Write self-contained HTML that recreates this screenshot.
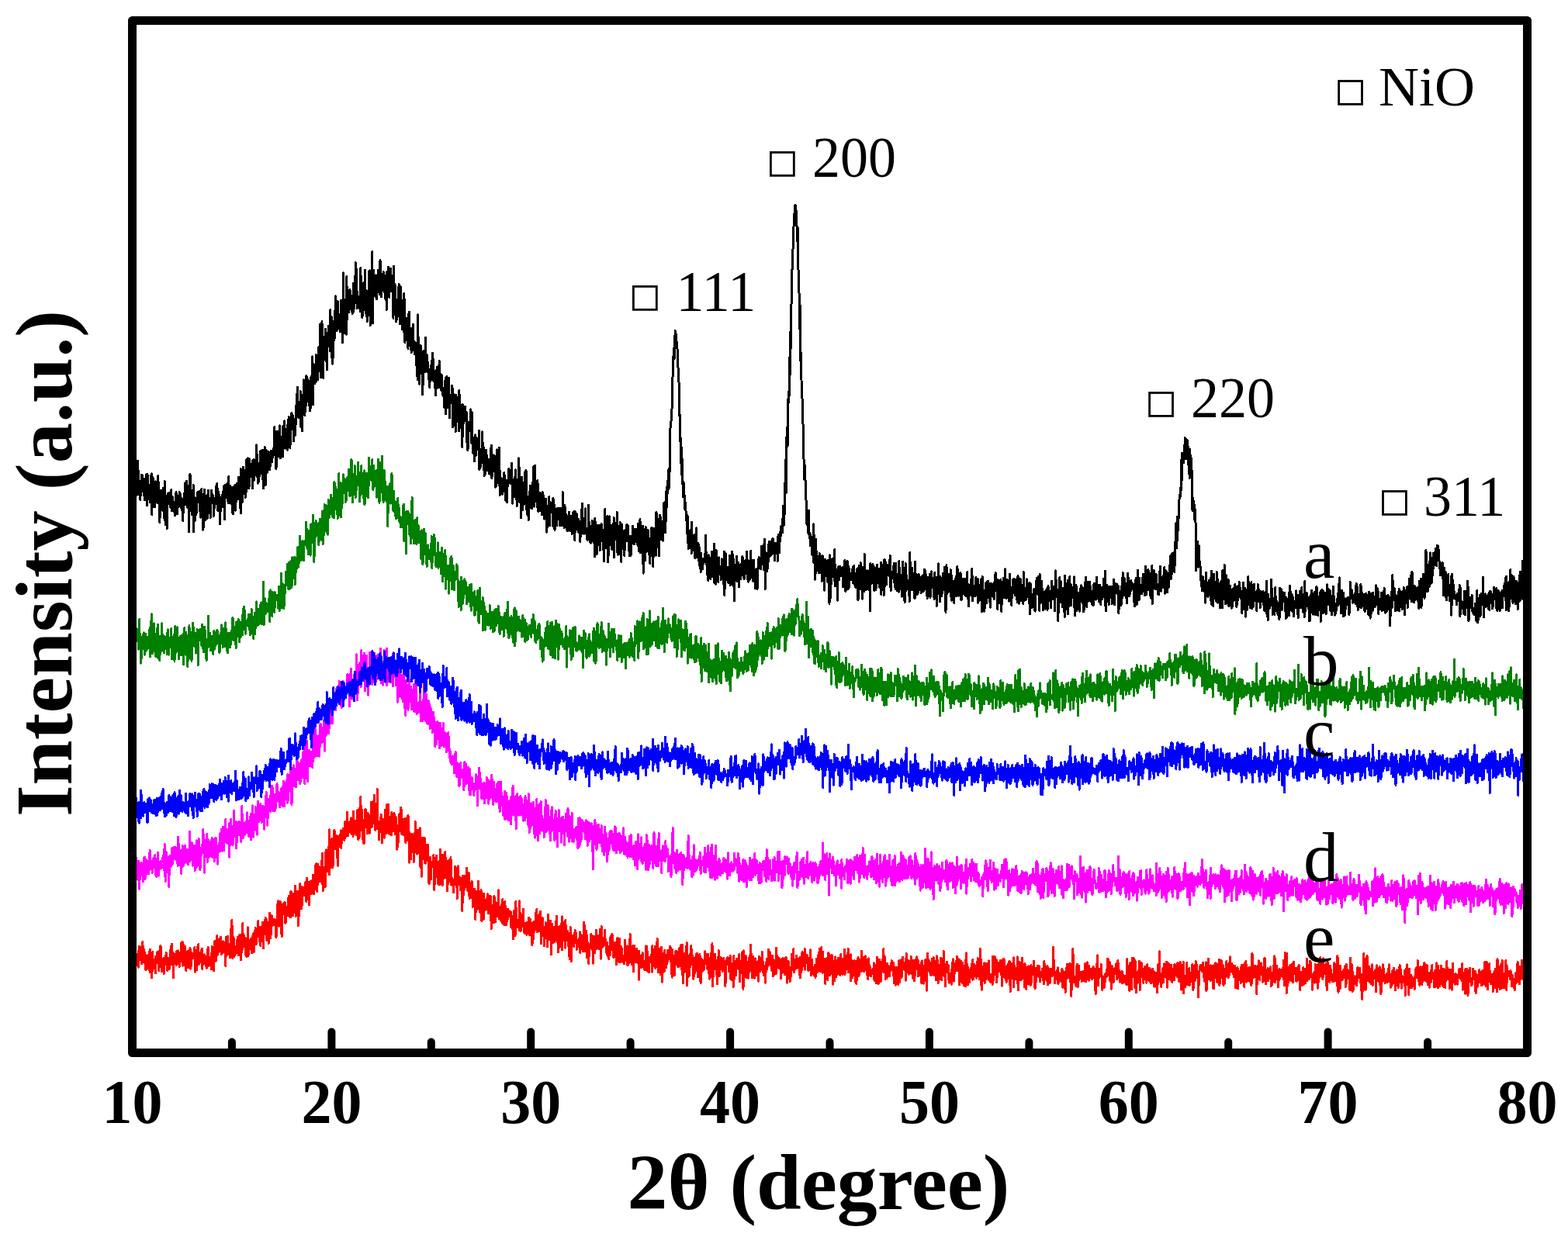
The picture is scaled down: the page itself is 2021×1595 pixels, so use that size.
<!DOCTYPE html>
<html><head><meta charset="utf-8"><title>XRD patterns</title>
<style>
html,body{margin:0;padding:0;background:#fff;}
svg{display:block;}
</style></head>
<body>
<svg width="2021" height="1595" viewBox="0 0 2021 1595">
<rect width="2021" height="1595" fill="#fff"/>
<g fill="none" stroke-width="3" stroke-linejoin="round" stroke-linecap="butt" shape-rendering="crispEdges">
<path d="M170.5 1240.0L171.0 1243.1L171.5 1237.2L172.0 1230.8L172.6 1235.3L173.1 1229.8L173.6 1240.6L174.1 1253.8L174.6 1234.9L175.1 1233.6L175.6 1245.0L176.2 1243.7L176.7 1241.1L177.2 1230.4L177.7 1239.7L178.2 1247.2L178.7 1226.2L179.2 1235.3L179.7 1220.4L180.3 1226.7L180.8 1221.0L181.3 1237.6L181.8 1227.0L182.3 1242.8L182.8 1241.6L183.3 1238.1L183.9 1214.1L184.4 1234.5L184.9 1239.5L185.4 1241.2L185.9 1224.3L186.4 1235.1L186.9 1229.9L187.5 1231.7L188.0 1250.9L188.5 1231.7L189.0 1239.7L189.5 1249.1L190.0 1234.0L190.5 1238.9L191.0 1241.1L191.6 1240.7L192.1 1227.4L192.6 1240.8L193.1 1254.0L193.6 1224.1L194.1 1248.8L194.6 1241.2L195.2 1233.4L195.7 1260.6L196.2 1247.8L196.7 1227.7L197.2 1240.8L197.7 1245.9L198.2 1238.1L198.8 1247.0L199.3 1239.3L199.8 1246.9L200.3 1254.8L200.8 1233.0L201.3 1242.1L201.8 1235.2L202.4 1241.3L202.9 1227.8L203.4 1234.0L203.9 1238.0L204.4 1249.2L204.9 1251.8L205.4 1226.4L205.9 1231.8L206.5 1246.7L207.0 1219.5L207.5 1235.2L208.0 1239.0L208.5 1252.9L209.0 1247.1L209.5 1236.6L210.1 1236.2L210.6 1237.4L211.1 1255.6L211.6 1235.5L212.1 1236.7L212.6 1243.4L213.1 1238.5L213.7 1237.6L214.2 1228.1L214.7 1239.3L215.2 1234.8L215.7 1251.3L216.2 1245.9L216.7 1238.8L217.2 1245.9L217.8 1235.4L218.3 1249.6L218.8 1238.6L219.3 1244.6L219.8 1225.1L220.3 1241.9L220.8 1220.8L221.4 1217.1L221.9 1234.8L222.4 1228.6L222.9 1239.5L223.4 1260.9L223.9 1229.0L224.4 1231.0L225.0 1239.5L225.5 1242.4L226.0 1235.4L226.5 1235.1L227.0 1244.4L227.5 1242.5L228.0 1226.3L228.5 1236.2L229.1 1237.3L229.6 1226.0L230.1 1239.6L230.6 1227.9L231.1 1246.9L231.6 1238.7L232.1 1237.6L232.7 1230.5L233.2 1235.4L233.7 1215.8L234.2 1224.8L234.7 1240.3L235.2 1214.4L235.7 1245.2L236.3 1218.3L236.8 1244.2L237.3 1227.6L237.8 1244.4L238.3 1237.7L238.8 1220.3L239.3 1249.2L239.9 1251.2L240.4 1235.5L240.9 1233.3L241.4 1234.5L241.9 1226.0L242.4 1247.5L242.9 1230.4L243.4 1235.5L244.0 1227.8L244.5 1229.5L245.0 1222.7L245.5 1249.1L246.0 1234.4L246.5 1246.1L247.0 1236.1L247.6 1228.8L248.1 1232.6L248.6 1230.2L249.1 1236.1L249.6 1232.1L250.1 1232.9L250.6 1221.7L251.2 1227.6L251.7 1253.2L252.2 1229.0L252.7 1225.0L253.2 1239.5L253.7 1250.6L254.2 1220.9L254.7 1233.8L255.3 1229.4L255.8 1217.7L256.3 1243.6L256.8 1235.8L257.3 1236.7L257.8 1228.2L258.3 1240.7L258.9 1230.4L259.4 1234.5L259.9 1224.5L260.4 1223.3L260.9 1249.9L261.4 1230.7L261.9 1239.0L262.5 1235.6L263.0 1231.4L263.5 1230.7L264.0 1242.6L264.5 1232.9L265.0 1234.4L265.5 1236.2L266.1 1248.2L266.6 1243.1L267.1 1240.0L267.6 1230.1L268.1 1221.5L268.6 1245.7L269.1 1245.8L269.6 1234.1L270.2 1241.0L270.7 1243.3L271.2 1243.6L271.7 1244.3L272.2 1229.6L272.7 1249.9L273.2 1220.7L273.8 1242.4L274.3 1238.2L274.8 1241.9L275.3 1252.0L275.8 1247.5L276.3 1219.5L276.8 1213.3L277.4 1239.3L277.9 1219.6L278.4 1229.8L278.9 1238.4L279.4 1211.7L279.9 1206.3L280.4 1231.1L280.9 1228.4L281.5 1224.9L282.0 1227.6L282.5 1217.7L283.0 1210.4L283.5 1224.4L284.0 1215.5L284.5 1208.1L285.1 1230.8L285.6 1224.5L286.1 1229.4L286.6 1214.2L287.1 1217.6L287.6 1213.8L288.1 1214.8L288.7 1226.3L289.2 1215.6L289.7 1227.7L290.2 1227.4L290.7 1245.4L291.2 1208.5L291.7 1232.9L292.3 1222.2L292.8 1222.9L293.3 1207.3L293.8 1217.9L294.3 1230.7L294.8 1221.7L295.3 1223.3L295.8 1219.2L296.4 1234.7L296.9 1221.9L297.4 1198.3L297.9 1214.4L298.4 1200.5L298.9 1186.6L299.4 1215.8L300.0 1235.9L300.5 1221.9L301.0 1208.6L301.5 1211.0L302.0 1233.3L302.5 1222.6L303.0 1221.3L303.6 1220.1L304.1 1221.0L304.6 1229.2L305.1 1226.3L305.6 1222.6L306.1 1208.8L306.6 1225.5L307.1 1212.5L307.7 1231.6L308.2 1205.9L308.7 1218.1L309.2 1219.4L309.7 1205.0L310.2 1238.0L310.7 1235.0L311.3 1214.0L311.8 1227.3L312.3 1222.9L312.8 1190.2L313.3 1221.3L313.8 1217.7L314.3 1219.2L314.9 1206.3L315.4 1215.0L315.9 1215.8L316.4 1230.4L316.9 1220.9L317.4 1216.9L317.9 1233.4L318.4 1210.3L319.0 1211.8L319.5 1195.8L320.0 1232.6L320.5 1225.6L321.0 1224.7L321.5 1221.6L322.0 1215.1L322.6 1215.9L323.1 1210.3L323.6 1210.5L324.1 1213.0L324.6 1228.7L325.1 1217.8L325.6 1210.6L326.2 1204.5L326.7 1203.5L327.2 1227.9L327.7 1215.3L328.2 1210.1L328.7 1205.0L329.2 1196.1L329.8 1207.3L330.3 1217.4L330.8 1202.8L331.3 1204.3L331.8 1203.9L332.3 1207.2L332.8 1187.6L333.3 1202.4L333.9 1195.0L334.4 1214.2L334.9 1195.1L335.4 1209.8L335.9 1220.1L336.4 1198.9L336.9 1195.2L337.5 1203.7L338.0 1201.1L338.5 1189.3L339.0 1205.4L339.5 1222.7L340.0 1196.4L340.5 1196.5L341.1 1186.5L341.6 1201.6L342.1 1183.3L342.6 1184.4L343.1 1211.3L343.6 1185.9L344.1 1208.2L344.6 1212.9L345.2 1198.0L345.7 1201.0L346.2 1216.7L346.7 1191.5L347.2 1186.5L347.7 1177.3L348.2 1193.1L348.8 1209.3L349.3 1202.9L349.8 1180.5L350.3 1181.1L350.8 1184.8L351.3 1193.6L351.8 1187.5L352.4 1192.0L352.9 1192.5L353.4 1185.2L353.9 1187.8L354.4 1190.3L354.9 1186.5L355.4 1193.0L356.0 1208.7L356.5 1193.3L357.0 1186.6L357.5 1165.8L358.0 1189.7L358.5 1161.9L359.0 1167.8L359.5 1194.1L360.1 1191.9L360.6 1181.4L361.1 1162.6L361.6 1178.0L362.1 1173.9L362.6 1189.0L363.1 1207.8L363.7 1183.2L364.2 1171.0L364.7 1165.9L365.2 1178.7L365.7 1176.8L366.2 1164.7L366.7 1179.3L367.3 1163.7L367.8 1190.3L368.3 1189.2L368.8 1189.0L369.3 1169.8L369.8 1181.2L370.3 1172.9L370.8 1169.4L371.4 1169.5L371.9 1157.4L372.4 1155.2L372.9 1181.7L373.4 1169.3L373.9 1173.8L374.4 1182.8L375.0 1149.2L375.5 1160.3L376.0 1171.5L376.5 1173.7L377.0 1163.9L377.5 1180.6L378.0 1170.2L378.6 1152.5L379.1 1155.5L379.6 1176.3L380.1 1171.7L380.6 1142.4L381.1 1181.7L381.6 1172.1L382.2 1180.8L382.7 1159.2L383.2 1159.8L383.7 1149.1L384.2 1193.8L384.7 1159.9L385.2 1181.2L385.7 1153.1L386.3 1162.6L386.8 1139.5L387.3 1154.9L387.8 1171.4L388.3 1143.2L388.8 1171.5L389.3 1161.9L389.9 1144.2L390.4 1150.4L390.9 1150.5L391.4 1155.0L391.9 1148.5L392.4 1144.3L392.9 1150.3L393.5 1140.7L394.0 1136.9L394.5 1151.9L395.0 1163.1L395.5 1132.2L396.0 1150.9L396.5 1142.1L397.0 1137.4L397.6 1160.0L398.1 1142.1L398.6 1167.0L399.1 1137.6L399.6 1151.8L400.1 1143.4L400.6 1136.1L401.2 1152.5L401.7 1142.5L402.2 1151.5L402.7 1142.6L403.2 1128.7L403.7 1140.6L404.2 1142.0L404.8 1152.9L405.3 1128.4L405.8 1138.8L406.3 1116.5L406.8 1146.3L407.3 1123.3L407.8 1113.2L408.3 1135.0L408.9 1149.4L409.4 1114.5L409.9 1119.4L410.4 1123.1L410.9 1117.3L411.4 1136.1L411.9 1119.9L412.5 1120.2L413.0 1136.4L413.5 1118.0L414.0 1132.8L414.5 1113.5L415.0 1109.5L415.5 1100.4L416.1 1148.3L416.6 1118.6L417.1 1125.2L417.6 1120.7L418.1 1122.3L418.6 1120.0L419.1 1143.8L419.7 1103.7L420.2 1095.8L420.7 1102.2L421.2 1096.9L421.7 1123.9L422.2 1124.0L422.7 1099.1L423.2 1092.3L423.8 1105.3L424.3 1127.9L424.8 1069.8L425.3 1114.1L425.8 1091.2L426.3 1119.0L426.8 1089.0L427.4 1098.8L427.9 1081.1L428.4 1087.3L428.9 1118.8L429.4 1110.1L429.9 1092.5L430.4 1085.2L431.0 1070.3L431.5 1090.3L432.0 1094.6L432.5 1093.2L433.0 1092.3L433.5 1077.4L434.0 1091.4L434.5 1091.1L435.1 1109.0L435.6 1116.3L436.1 1087.7L436.6 1078.3L437.1 1087.3L437.6 1079.1L438.1 1076.4L438.7 1085.3L439.2 1070.8L439.7 1093.3L440.2 1082.6L440.7 1087.0L441.2 1080.3L441.7 1072.0L442.3 1068.4L442.8 1077.9L443.3 1072.9L443.8 1083.5L444.3 1079.6L444.8 1059.8L445.3 1079.6L445.9 1059.1L446.4 1068.9L446.9 1073.0L447.4 1047.2L447.9 1077.5L448.4 1077.9L448.9 1073.0L449.4 1068.8L450.0 1069.1L450.5 1060.0L451.0 1069.7L451.5 1065.2L452.0 1074.0L452.5 1055.0L453.0 1075.2L453.6 1073.5L454.1 1069.0L454.6 1064.3L455.1 1078.2L455.6 1046.0L456.1 1076.1L456.6 1072.6L457.2 1072.8L457.7 1073.9L458.2 1058.7L458.7 1064.0L459.2 1076.6L459.7 1073.3L460.2 1069.7L460.7 1044.6L461.3 1073.9L461.8 1082.7L462.3 1080.1L462.8 1068.7L463.3 1042.5L463.8 1078.4L464.3 1062.4L464.9 1027.7L465.4 1069.5L465.9 1042.2L466.4 1044.8L466.9 1054.2L467.4 1081.6L467.9 1057.5L468.5 1066.6L469.0 1087.8L469.5 1085.4L470.0 1060.5L470.5 1058.2L471.0 1043.2L471.5 1051.1L472.1 1067.1L472.6 1066.3L473.1 1061.9L473.6 1074.4L474.1 1048.4L474.6 1058.5L475.1 1069.7L475.6 1067.3L476.2 1074.2L476.7 1064.2L477.2 1053.7L477.7 1063.4L478.2 1043.4L478.7 1034.1L479.2 1066.5L479.8 1057.2L480.3 1062.5L480.8 1033.2L481.3 1052.7L481.8 1049.2L482.3 1045.4L482.8 1025.1L483.4 1053.1L483.9 1071.1L484.4 1063.6L484.9 1049.2L485.4 1057.8L485.9 1069.0L486.4 1017.7L486.9 1056.2L487.5 1065.9L488.0 1068.0L488.5 1082.8L489.0 1074.6L489.5 1062.6L490.0 1062.4L490.5 1069.5L491.1 1050.2L491.6 1057.5L492.1 1071.4L492.6 1086.8L493.1 1055.9L493.6 1057.6L494.1 1061.3L494.7 1078.1L495.2 1058.1L495.7 1080.1L496.2 1044.7L496.7 1056.2L497.2 1056.1L497.7 1070.5L498.2 1074.4L498.8 1037.3L499.3 1046.1L499.8 1064.5L500.3 1050.1L500.8 1037.7L501.3 1075.1L501.8 1067.3L502.4 1067.4L502.9 1053.5L503.4 1075.5L503.9 1057.2L504.4 1076.7L504.9 1047.7L505.4 1048.7L506.0 1064.2L506.5 1051.2L507.0 1071.3L507.5 1065.4L508.0 1048.4L508.5 1063.0L509.0 1057.0L509.6 1075.5L510.1 1053.2L510.6 1056.1L511.1 1080.2L511.6 1095.3L512.1 1091.9L512.6 1064.1L513.1 1066.5L513.7 1085.8L514.2 1062.0L514.7 1049.9L515.2 1065.9L515.7 1071.1L516.2 1052.9L516.7 1041.4L517.3 1044.8L517.8 1075.5L518.3 1055.4L518.8 1064.7L519.3 1070.2L519.8 1076.5L520.3 1063.3L520.9 1075.8L521.4 1056.3L521.9 1064.4L522.4 1055.4L522.9 1086.9L523.4 1070.9L523.9 1061.2L524.4 1067.4L525.0 1069.8L525.5 1083.6L526.0 1051.4L526.5 1060.0L527.0 1070.1L527.5 1112.1L528.0 1090.3L528.6 1075.7L529.1 1088.1L529.6 1107.9L530.1 1076.2L530.6 1075.1L531.1 1098.2L531.6 1088.9L532.2 1092.2L532.7 1076.5L533.2 1111.5L533.7 1109.4L534.2 1094.2L534.7 1096.7L535.2 1059.7L535.8 1097.8L536.3 1087.1L536.8 1096.8L537.3 1101.2L537.8 1087.9L538.3 1070.2L538.8 1099.7L539.3 1085.4L539.9 1092.1L540.4 1089.3L540.9 1093.9L541.4 1067.9L541.9 1117.2L542.4 1104.9L542.9 1117.5L543.5 1130.2L544.0 1104.2L544.5 1080.1L545.0 1093.2L545.5 1089.6L546.0 1099.8L546.5 1108.2L547.1 1080.6L547.6 1112.9L548.1 1088.3L548.6 1113.3L549.1 1108.3L549.6 1106.0L550.1 1109.7L550.6 1103.9L551.2 1103.3L551.7 1089.4L552.2 1112.0L552.7 1137.6L553.2 1139.8L553.7 1131.3L554.2 1123.4L554.8 1105.2L555.3 1134.0L555.8 1114.2L556.3 1114.4L556.8 1111.7L557.3 1117.2L557.8 1110.4L558.4 1115.4L558.9 1102.3L559.4 1112.0L559.9 1147.7L560.4 1116.6L560.9 1114.6L561.4 1125.1L562.0 1127.7L562.5 1103.6L563.0 1116.0L563.5 1131.2L564.0 1122.8L564.5 1121.1L565.0 1140.4L565.5 1111.0L566.1 1121.4L566.6 1113.6L567.1 1140.6L567.6 1095.3L568.1 1112.6L568.6 1114.8L569.1 1130.9L569.7 1130.5L570.2 1141.3L570.7 1102.4L571.2 1133.5L571.7 1120.1L572.2 1115.6L572.7 1131.9L573.3 1113.1L573.8 1098.3L574.3 1121.1L574.8 1106.7L575.3 1118.3L575.8 1132.1L576.3 1131.8L576.8 1148.9L577.4 1125.9L577.9 1108.9L578.4 1119.5L578.9 1117.8L579.4 1114.4L579.9 1136.4L580.4 1122.7L581.0 1105.8L581.5 1141.0L582.0 1130.9L582.5 1137.5L583.0 1134.6L583.5 1141.8L584.0 1134.5L584.6 1150.5L585.1 1140.4L585.6 1140.3L586.1 1140.9L586.6 1117.2L587.1 1134.2L587.6 1133.4L588.1 1139.8L588.7 1119.9L589.2 1158.9L589.7 1139.5L590.2 1122.9L590.7 1116.9L591.2 1135.6L591.7 1138.4L592.3 1130.7L592.8 1141.4L593.3 1132.4L593.8 1148.0L594.3 1132.0L594.8 1141.1L595.3 1154.5L595.9 1175.1L596.4 1129.7L596.9 1137.0L597.4 1132.6L597.9 1153.6L598.4 1129.3L598.9 1138.1L599.5 1144.2L600.0 1132.5L600.5 1133.1L601.0 1139.6L601.5 1119.3L602.0 1128.0L602.5 1141.5L603.0 1148.9L603.6 1145.0L604.1 1125.3L604.6 1142.3L605.1 1158.6L605.6 1155.9L606.1 1148.2L606.6 1138.4L607.2 1158.0L607.7 1143.1L608.2 1136.1L608.7 1141.1L609.2 1169.8L609.7 1154.8L610.2 1167.0L610.8 1146.9L611.3 1165.1L611.8 1146.3L612.3 1152.3L612.8 1185.8L613.3 1164.8L613.8 1149.4L614.3 1155.1L614.9 1160.7L615.4 1172.2L615.9 1151.5L616.4 1136.4L616.9 1155.0L617.4 1159.1L617.9 1160.8L618.5 1176.2L619.0 1164.2L619.5 1170.8L620.0 1147.6L620.5 1172.3L621.0 1187.9L621.5 1172.0L622.1 1166.0L622.6 1165.1L623.1 1185.6L623.6 1152.6L624.1 1163.0L624.6 1170.3L625.1 1174.1L625.7 1160.0L626.2 1169.4L626.7 1162.5L627.2 1167.7L627.7 1164.9L628.2 1152.8L628.7 1166.8L629.2 1178.0L629.8 1155.8L630.3 1164.9L630.8 1176.2L631.3 1155.3L631.8 1170.8L632.3 1156.0L632.8 1182.9L633.4 1197.4L633.9 1194.1L634.4 1167.1L634.9 1179.0L635.4 1171.7L635.9 1171.7L636.4 1189.5L637.0 1155.0L637.5 1183.9L638.0 1170.8L638.5 1188.6L639.0 1174.1L639.5 1163.9L640.0 1175.6L640.5 1181.4L641.1 1173.2L641.6 1178.9L642.1 1167.0L642.6 1147.8L643.1 1184.6L643.6 1182.4L644.1 1176.0L644.7 1175.3L645.2 1187.2L645.7 1169.5L646.2 1166.8L646.7 1173.3L647.2 1190.1L647.7 1159.5L648.3 1190.6L648.8 1169.0L649.3 1163.8L649.8 1192.3L650.3 1176.4L650.8 1162.3L651.3 1173.8L651.9 1189.5L652.4 1192.9L652.9 1173.9L653.4 1184.1L653.9 1188.0L654.4 1172.2L654.9 1184.4L655.4 1180.1L656.0 1174.4L656.5 1175.2L657.0 1182.1L657.5 1182.0L658.0 1175.2L658.5 1177.2L659.0 1195.6L659.6 1185.3L660.1 1193.5L660.6 1197.5L661.1 1190.6L661.6 1210.7L662.1 1174.5L662.6 1194.0L663.2 1181.0L663.7 1206.8L664.2 1205.2L664.7 1162.6L665.2 1174.4L665.7 1193.9L666.2 1195.6L666.7 1195.3L667.3 1186.1L667.8 1192.5L668.3 1195.1L668.8 1186.8L669.3 1200.0L669.8 1161.9L670.3 1195.9L670.9 1176.8L671.4 1200.3L671.9 1186.7L672.4 1179.3L672.9 1194.3L673.4 1179.6L673.9 1179.8L674.5 1172.5L675.0 1190.6L675.5 1197.0L676.0 1203.3L676.5 1190.1L677.0 1204.1L677.5 1192.4L678.0 1191.4L678.6 1199.3L679.1 1205.2L679.6 1189.2L680.1 1190.6L680.6 1191.7L681.1 1194.8L681.6 1183.6L682.2 1206.1L682.7 1189.8L683.2 1200.0L683.7 1185.3L684.2 1199.1L684.7 1199.7L685.2 1190.5L685.8 1218.7L686.3 1199.9L686.8 1216.2L687.3 1207.0L687.8 1188.5L688.3 1191.9L688.8 1201.4L689.4 1197.3L689.9 1197.3L690.4 1193.6L690.9 1176.3L691.4 1194.5L691.9 1171.9L692.4 1201.6L692.9 1189.2L693.5 1189.4L694.0 1195.2L694.5 1201.0L695.0 1181.6L695.5 1178.2L696.0 1186.1L696.5 1175.1L697.1 1187.5L697.6 1216.8L698.1 1186.7L698.6 1206.4L699.1 1183.4L699.6 1202.6L700.1 1195.7L700.7 1198.8L701.2 1206.2L701.7 1219.8L702.2 1202.2L702.7 1201.6L703.2 1189.3L703.7 1207.2L704.2 1197.9L704.8 1210.3L705.3 1200.6L705.8 1221.0L706.3 1179.0L706.8 1198.3L707.3 1211.9L707.8 1198.1L708.4 1193.4L708.9 1199.5L709.4 1187.1L709.9 1204.3L710.4 1230.7L710.9 1216.3L711.4 1191.1L712.0 1194.0L712.5 1199.5L713.0 1215.6L713.5 1195.3L714.0 1197.0L714.5 1214.9L715.0 1214.9L715.6 1201.2L716.1 1193.0L716.6 1188.4L717.1 1198.1L717.6 1181.2L718.1 1214.8L718.6 1199.5L719.1 1212.2L719.7 1227.9L720.2 1220.3L720.7 1194.5L721.2 1217.2L721.7 1220.6L722.2 1199.5L722.7 1197.4L723.3 1206.9L723.8 1190.4L724.3 1224.9L724.8 1181.8L725.3 1196.4L725.8 1205.9L726.3 1206.5L726.9 1211.0L727.4 1212.3L727.9 1207.1L728.4 1222.2L728.9 1185.9L729.4 1209.9L729.9 1202.1L730.4 1211.6L731.0 1212.7L731.5 1200.3L732.0 1203.4L732.5 1219.4L733.0 1214.6L733.5 1203.3L734.0 1233.6L734.6 1236.7L735.1 1195.0L735.6 1214.7L736.1 1239.3L736.6 1220.3L737.1 1214.2L737.6 1209.5L738.2 1206.0L738.7 1209.7L739.2 1206.1L739.7 1220.5L740.2 1208.0L740.7 1207.6L741.2 1199.3L741.8 1212.1L742.3 1202.9L742.8 1210.9L743.3 1224.5L743.8 1217.1L744.3 1218.8L744.8 1217.2L745.3 1214.0L745.9 1212.1L746.4 1210.2L746.9 1222.0L747.4 1201.8L747.9 1228.6L748.4 1214.3L748.9 1205.8L749.5 1208.7L750.0 1206.7L750.5 1216.0L751.0 1206.4L751.5 1227.0L752.0 1205.9L752.5 1189.6L753.1 1206.6L753.6 1192.7L754.1 1214.4L754.6 1226.5L755.1 1222.1L755.6 1200.4L756.1 1206.8L756.6 1234.7L757.2 1218.8L757.7 1215.4L758.2 1227.1L758.7 1242.5L759.2 1229.9L759.7 1217.3L760.2 1219.7L760.8 1222.7L761.3 1209.3L761.8 1204.5L762.3 1216.8L762.8 1205.9L763.3 1215.7L763.8 1217.5L764.4 1242.2L764.9 1207.3L765.4 1215.4L765.9 1215.0L766.4 1221.7L766.9 1228.4L767.4 1211.7L767.9 1208.2L768.5 1199.4L769.0 1207.3L769.5 1223.3L770.0 1218.1L770.5 1206.6L771.0 1213.7L771.5 1218.2L772.1 1223.5L772.6 1211.6L773.1 1215.5L773.6 1198.5L774.1 1205.9L774.6 1236.1L775.1 1194.8L775.7 1215.1L776.2 1221.3L776.7 1214.9L777.2 1210.3L777.7 1218.6L778.2 1219.3L778.7 1218.7L779.3 1199.3L779.8 1218.2L780.3 1210.7L780.8 1214.2L781.3 1222.8L781.8 1227.4L782.3 1230.4L782.8 1215.5L783.4 1231.0L783.9 1233.9L784.4 1233.7L784.9 1236.6L785.4 1220.2L785.9 1220.1L786.4 1231.1L787.0 1207.6L787.5 1224.8L788.0 1217.0L788.5 1219.0L789.0 1204.4L789.5 1213.8L790.0 1223.3L790.6 1233.3L791.1 1234.6L791.6 1223.3L792.1 1222.3L792.6 1215.6L793.1 1229.0L793.6 1222.2L794.1 1231.6L794.7 1244.0L795.2 1225.1L795.7 1209.6L796.2 1216.6L796.7 1210.4L797.2 1213.4L797.7 1240.3L798.3 1228.9L798.8 1210.5L799.3 1233.8L799.8 1240.4L800.3 1223.3L800.8 1220.1L801.3 1223.9L801.9 1230.6L802.4 1234.6L802.9 1240.5L803.4 1241.0L803.9 1240.8L804.4 1242.8L804.9 1235.6L805.5 1212.4L806.0 1227.5L806.5 1232.3L807.0 1225.1L807.5 1238.9L808.0 1225.6L808.5 1219.8L809.0 1245.0L809.6 1236.9L810.1 1232.4L810.6 1240.0L811.1 1241.6L811.6 1234.1L812.1 1204.7L812.6 1223.6L813.2 1226.1L813.7 1220.7L814.2 1233.3L814.7 1243.9L815.2 1226.4L815.7 1219.7L816.2 1253.1L816.8 1227.1L817.3 1219.1L817.8 1234.7L818.3 1236.8L818.8 1225.0L819.3 1240.9L819.8 1227.6L820.3 1223.1L820.9 1234.8L821.4 1241.2L821.9 1226.5L822.4 1236.8L822.9 1232.5L823.4 1263.1L823.9 1226.2L824.5 1248.3L825.0 1233.3L825.5 1232.7L826.0 1241.7L826.5 1243.6L827.0 1247.6L827.5 1237.9L828.1 1228.3L828.6 1229.0L829.1 1240.0L829.6 1240.9L830.1 1249.5L830.6 1239.4L831.1 1246.1L831.7 1251.0L832.2 1237.0L832.7 1219.9L833.2 1223.1L833.7 1220.5L834.2 1252.2L834.7 1226.8L835.2 1248.6L835.8 1241.9L836.3 1253.8L836.8 1246.4L837.3 1235.0L837.8 1234.1L838.3 1237.1L838.8 1238.1L839.4 1230.8L839.9 1236.1L840.4 1253.2L840.9 1218.9L841.4 1239.3L841.9 1227.3L842.4 1238.7L843.0 1245.5L843.5 1236.3L844.0 1245.0L844.5 1220.5L845.0 1248.6L845.5 1230.9L846.0 1243.7L846.5 1239.2L847.1 1210.5L847.6 1229.6L848.1 1239.7L848.6 1253.6L849.1 1240.6L849.6 1240.3L850.1 1223.1L850.7 1252.6L851.2 1256.5L851.7 1238.2L852.2 1235.7L852.7 1221.3L853.2 1247.2L853.7 1266.1L854.3 1245.6L854.8 1251.3L855.3 1243.9L855.8 1228.2L856.3 1252.2L856.8 1225.7L857.3 1236.4L857.8 1241.5L858.4 1247.8L858.9 1243.0L859.4 1242.8L859.9 1231.0L860.4 1225.6L860.9 1239.6L861.4 1231.7L862.0 1225.6L862.5 1226.1L863.0 1234.1L863.5 1220.1L864.0 1225.4L864.5 1222.5L865.0 1241.3L865.6 1243.7L866.1 1260.2L866.6 1224.2L867.1 1232.6L867.6 1249.1L868.1 1237.5L868.6 1236.4L869.2 1257.5L869.7 1236.4L870.2 1228.1L870.7 1226.5L871.2 1243.5L871.7 1243.3L872.2 1226.1L872.7 1230.1L873.3 1245.8L873.8 1246.3L874.3 1233.8L874.8 1246.9L875.3 1246.4L875.8 1222.3L876.3 1237.4L876.9 1245.0L877.4 1234.9L877.9 1218.8L878.4 1237.9L878.9 1248.6L879.4 1257.2L879.9 1218.5L880.5 1267.9L881.0 1229.5L881.5 1251.0L882.0 1253.9L882.5 1251.3L883.0 1242.9L883.5 1229.5L884.0 1247.8L884.6 1234.1L885.1 1215.7L885.6 1270.6L886.1 1248.9L886.6 1260.3L887.1 1232.4L887.6 1256.8L888.2 1258.1L888.7 1257.8L889.2 1241.7L889.7 1229.7L890.2 1240.2L890.7 1219.6L891.2 1224.8L891.8 1243.2L892.3 1232.1L892.8 1240.7L893.3 1241.3L893.8 1262.2L894.3 1255.8L894.8 1242.1L895.4 1255.0L895.9 1234.8L896.4 1239.3L896.9 1252.1L897.4 1230.2L897.9 1240.1L898.4 1229.6L898.9 1244.3L899.5 1259.8L900.0 1235.6L900.5 1245.6L901.0 1234.2L901.5 1231.7L902.0 1230.9L902.5 1258.4L903.1 1267.7L903.6 1248.6L904.1 1236.5L904.6 1251.0L905.1 1240.5L905.6 1252.1L906.1 1247.0L906.7 1246.9L907.2 1250.3L907.7 1238.3L908.2 1240.1L908.7 1226.8L909.2 1239.9L909.7 1229.9L910.2 1243.0L910.8 1234.8L911.3 1245.6L911.8 1249.2L912.3 1230.2L912.8 1236.4L913.3 1235.1L913.8 1252.3L914.4 1262.1L914.9 1253.5L915.4 1241.3L915.9 1259.7L916.4 1229.5L916.9 1260.1L917.4 1238.3L918.0 1216.7L918.5 1271.9L919.0 1261.0L919.5 1234.5L920.0 1246.7L920.5 1242.8L921.0 1246.0L921.6 1230.0L922.1 1238.1L922.6 1249.7L923.1 1247.3L923.6 1257.2L924.1 1245.8L924.6 1268.8L925.1 1237.7L925.7 1247.6L926.2 1225.6L926.7 1232.3L927.2 1258.5L927.7 1235.4L928.2 1250.4L928.7 1244.4L929.3 1234.4L929.8 1241.5L930.3 1239.8L930.8 1240.1L931.3 1252.6L931.8 1251.6L932.3 1239.1L932.9 1235.8L933.4 1247.9L933.9 1244.0L934.4 1255.4L934.9 1271.9L935.4 1253.6L935.9 1244.6L936.4 1243.3L937.0 1236.3L937.5 1235.8L938.0 1234.8L938.5 1241.0L939.0 1240.7L939.5 1252.5L940.0 1241.0L940.6 1243.0L941.1 1232.6L941.6 1261.7L942.1 1250.1L942.6 1263.1L943.1 1253.1L943.6 1260.1L944.2 1242.5L944.7 1252.3L945.2 1272.5L945.7 1232.6L946.2 1256.9L946.7 1262.2L947.2 1249.3L947.7 1252.8L948.3 1258.0L948.8 1238.2L949.3 1249.2L949.8 1236.0L950.3 1238.0L950.8 1238.6L951.3 1243.5L951.9 1246.5L952.4 1249.7L952.9 1230.3L953.4 1265.6L953.9 1257.0L954.4 1252.5L954.9 1241.3L955.5 1244.1L956.0 1250.7L956.5 1249.3L957.0 1227.5L957.5 1252.7L958.0 1275.3L958.5 1225.8L959.1 1255.3L959.6 1248.8L960.1 1243.8L960.6 1259.3L961.1 1232.7L961.6 1246.7L962.1 1260.2L962.6 1242.9L963.2 1240.6L963.7 1246.2L964.2 1240.4L964.7 1261.1L965.2 1235.5L965.7 1254.1L966.2 1231.9L966.8 1252.0L967.3 1243.9L967.8 1218.1L968.3 1244.9L968.8 1233.9L969.3 1240.4L969.8 1261.0L970.4 1233.3L970.9 1233.9L971.4 1260.0L971.9 1246.2L972.4 1261.1L972.9 1248.4L973.4 1235.8L973.9 1244.3L974.5 1257.8L975.0 1254.8L975.5 1245.0L976.0 1245.5L976.5 1243.8L977.0 1239.0L977.5 1265.1L978.1 1245.1L978.6 1233.2L979.1 1240.0L979.6 1252.6L980.1 1251.7L980.6 1243.6L981.1 1238.0L981.7 1245.2L982.2 1227.5L982.7 1231.4L983.2 1253.3L983.7 1240.0L984.2 1248.9L984.7 1257.7L985.3 1251.8L985.8 1245.2L986.3 1267.2L986.8 1252.0L987.3 1241.3L987.8 1252.6L988.3 1249.3L988.8 1236.1L989.4 1245.8L989.9 1243.3L990.4 1224.5L990.9 1243.2L991.4 1242.0L991.9 1240.4L992.4 1227.8L993.0 1241.3L993.5 1244.6L994.0 1246.1L994.5 1233.2L995.0 1251.6L995.5 1232.3L996.0 1242.7L996.6 1258.6L997.1 1237.8L997.6 1239.7L998.1 1256.2L998.6 1241.0L999.1 1241.9L999.6 1247.3L1000.1 1255.9L1000.7 1222.0L1001.2 1236.4L1001.7 1234.5L1002.2 1233.7L1002.7 1236.1L1003.2 1236.3L1003.7 1248.1L1004.3 1235.7L1004.8 1246.3L1005.3 1249.2L1005.8 1237.4L1006.3 1246.4L1006.8 1262.0L1007.3 1248.3L1007.9 1238.4L1008.4 1244.3L1008.9 1235.5L1009.4 1247.8L1009.9 1254.0L1010.4 1236.5L1010.9 1242.8L1011.5 1256.5L1012.0 1239.8L1012.5 1247.0L1013.0 1234.4L1013.5 1236.5L1014.0 1239.7L1014.5 1267.1L1015.0 1240.9L1015.6 1239.6L1016.1 1239.3L1016.6 1243.3L1017.1 1251.7L1017.6 1246.9L1018.1 1265.9L1018.6 1247.2L1019.2 1259.7L1019.7 1247.8L1020.2 1251.2L1020.7 1230.4L1021.2 1243.8L1021.7 1244.4L1022.2 1242.6L1022.8 1223.2L1023.3 1254.0L1023.8 1241.2L1024.3 1240.6L1024.8 1242.5L1025.3 1242.8L1025.8 1249.2L1026.3 1232.2L1026.9 1235.7L1027.4 1248.1L1027.9 1246.6L1028.4 1241.3L1028.9 1239.3L1029.4 1236.7L1029.9 1244.6L1030.5 1257.1L1031.0 1234.5L1031.5 1260.6L1032.0 1253.8L1032.5 1240.6L1033.0 1253.2L1033.5 1230.4L1034.1 1227.7L1034.6 1232.2L1035.1 1241.1L1035.6 1242.0L1036.1 1240.1L1036.6 1246.3L1037.1 1223.6L1037.6 1250.3L1038.2 1230.9L1038.7 1238.6L1039.2 1241.1L1039.7 1233.6L1040.2 1231.5L1040.7 1235.2L1041.2 1245.3L1041.8 1251.4L1042.3 1251.1L1042.8 1235.3L1043.3 1237.4L1043.8 1236.1L1044.3 1250.0L1044.8 1224.8L1045.4 1258.0L1045.9 1240.6L1046.4 1237.5L1046.9 1248.9L1047.4 1256.0L1047.9 1249.0L1048.4 1256.2L1049.0 1246.9L1049.5 1258.0L1050.0 1258.2L1050.5 1244.6L1051.0 1260.2L1051.5 1247.3L1052.0 1246.5L1052.5 1236.3L1053.1 1242.7L1053.6 1253.5L1054.1 1232.4L1054.6 1252.2L1055.1 1249.2L1055.6 1248.5L1056.1 1223.3L1056.7 1244.7L1057.2 1252.3L1057.7 1238.0L1058.2 1246.6L1058.7 1221.7L1059.2 1252.6L1059.7 1239.1L1060.3 1254.6L1060.8 1227.1L1061.3 1252.8L1061.8 1243.4L1062.3 1254.0L1062.8 1236.5L1063.3 1239.6L1063.8 1268.5L1064.4 1237.5L1064.9 1238.7L1065.4 1243.1L1065.9 1235.5L1066.4 1257.9L1066.9 1263.4L1067.4 1238.8L1068.0 1228.5L1068.5 1257.8L1069.0 1257.2L1069.5 1254.3L1070.0 1257.7L1070.5 1237.2L1071.0 1244.3L1071.6 1232.0L1072.1 1231.7L1072.6 1255.9L1073.1 1239.2L1073.6 1269.1L1074.1 1246.8L1074.6 1239.6L1075.2 1254.1L1075.7 1264.3L1076.2 1251.0L1076.7 1233.8L1077.2 1249.8L1077.7 1260.0L1078.2 1241.1L1078.7 1238.3L1079.3 1256.4L1079.8 1247.5L1080.3 1235.0L1080.8 1242.3L1081.3 1238.5L1081.8 1249.1L1082.3 1247.3L1082.9 1257.8L1083.4 1253.4L1083.9 1230.4L1084.4 1250.3L1084.9 1255.3L1085.4 1250.8L1085.9 1256.6L1086.5 1240.7L1087.0 1236.6L1087.5 1255.6L1088.0 1235.5L1088.5 1224.4L1089.0 1256.6L1089.5 1238.9L1090.0 1243.2L1090.6 1232.1L1091.1 1232.9L1091.6 1234.6L1092.1 1242.7L1092.6 1250.0L1093.1 1223.1L1093.6 1253.9L1094.2 1234.4L1094.7 1235.6L1095.2 1253.2L1095.7 1245.6L1096.2 1230.8L1096.7 1265.0L1097.2 1237.7L1097.8 1248.9L1098.3 1248.4L1098.8 1260.7L1099.3 1241.8L1099.8 1256.6L1100.3 1238.9L1100.8 1257.8L1101.4 1238.7L1101.9 1242.8L1102.4 1265.6L1102.9 1249.7L1103.4 1247.6L1103.9 1269.1L1104.4 1250.1L1104.9 1238.2L1105.5 1253.9L1106.0 1234.6L1106.5 1257.9L1107.0 1258.7L1107.5 1240.7L1108.0 1240.2L1108.5 1248.3L1109.1 1246.7L1109.6 1236.7L1110.1 1252.3L1110.6 1226.0L1111.1 1242.2L1111.6 1242.5L1112.1 1243.8L1112.7 1249.7L1113.2 1234.2L1113.7 1252.6L1114.2 1244.8L1114.7 1240.1L1115.2 1232.9L1115.7 1234.7L1116.2 1250.3L1116.8 1237.0L1117.3 1247.3L1117.8 1257.4L1118.3 1257.1L1118.8 1262.5L1119.3 1243.7L1119.8 1235.8L1120.4 1257.1L1120.9 1249.9L1121.4 1258.1L1121.9 1246.9L1122.4 1258.9L1122.9 1255.4L1123.4 1254.1L1124.0 1251.9L1124.5 1250.9L1125.0 1249.2L1125.5 1249.1L1126.0 1256.9L1126.5 1241.7L1127.0 1264.4L1127.5 1245.8L1128.1 1256.9L1128.6 1246.0L1129.1 1244.5L1129.6 1267.5L1130.1 1243.9L1130.6 1234.1L1131.1 1239.8L1131.7 1243.8L1132.2 1268.8L1132.7 1249.1L1133.2 1256.5L1133.7 1237.0L1134.2 1250.6L1134.7 1253.9L1135.3 1265.3L1135.8 1240.1L1136.3 1253.2L1136.8 1250.2L1137.3 1236.9L1137.8 1247.0L1138.3 1244.6L1138.9 1223.8L1139.4 1253.3L1139.9 1252.7L1140.4 1242.9L1140.9 1233.9L1141.4 1262.3L1141.9 1250.1L1142.4 1257.7L1143.0 1261.6L1143.5 1242.2L1144.0 1255.7L1144.5 1245.1L1145.0 1246.9L1145.5 1246.7L1146.0 1247.6L1146.6 1258.8L1147.1 1248.9L1147.6 1246.1L1148.1 1244.9L1148.6 1251.2L1149.1 1238.7L1149.6 1242.7L1150.2 1247.3L1150.7 1242.1L1151.2 1246.7L1151.7 1241.7L1152.2 1268.1L1152.7 1261.3L1153.2 1252.5L1153.7 1247.5L1154.3 1270.1L1154.8 1251.3L1155.3 1247.2L1155.8 1251.2L1156.3 1251.2L1156.8 1262.4L1157.3 1248.0L1157.9 1269.4L1158.4 1239.4L1158.9 1255.3L1159.4 1238.3L1159.9 1266.6L1160.4 1245.1L1160.9 1247.9L1161.5 1257.8L1162.0 1261.1L1162.5 1237.4L1163.0 1245.1L1163.5 1234.6L1164.0 1250.0L1164.5 1247.6L1165.1 1245.2L1165.6 1241.8L1166.1 1244.9L1166.6 1241.3L1167.1 1254.1L1167.6 1264.1L1168.1 1229.5L1168.6 1247.7L1169.2 1244.7L1169.7 1253.9L1170.2 1239.4L1170.7 1247.6L1171.2 1238.6L1171.7 1256.1L1172.2 1250.1L1172.8 1247.5L1173.3 1252.9L1173.8 1246.7L1174.3 1233.6L1174.8 1255.2L1175.3 1252.2L1175.8 1247.8L1176.4 1259.2L1176.9 1261.6L1177.4 1238.4L1177.9 1241.6L1178.4 1264.9L1178.9 1263.7L1179.4 1242.1L1179.9 1237.7L1180.5 1243.2L1181.0 1244.6L1181.5 1233.7L1182.0 1249.9L1182.5 1236.8L1183.0 1237.5L1183.5 1258.8L1184.1 1242.9L1184.6 1249.0L1185.1 1256.0L1185.6 1257.9L1186.1 1246.4L1186.6 1250.2L1187.1 1241.6L1187.7 1267.3L1188.2 1256.4L1188.7 1238.8L1189.2 1249.9L1189.7 1257.0L1190.2 1254.7L1190.7 1268.2L1191.3 1263.7L1191.8 1244.6L1192.3 1249.1L1192.8 1237.2L1193.3 1252.5L1193.8 1251.5L1194.3 1277.1L1194.8 1251.0L1195.4 1229.1L1195.9 1243.4L1196.4 1251.2L1196.9 1237.5L1197.4 1241.4L1197.9 1246.5L1198.4 1253.5L1199.0 1248.5L1199.5 1241.3L1200.0 1258.0L1200.5 1244.8L1201.0 1245.2L1201.5 1236.4L1202.0 1242.3L1202.6 1256.7L1203.1 1234.1L1203.6 1249.5L1204.1 1257.4L1204.6 1246.5L1205.1 1252.7L1205.6 1239.1L1206.1 1263.4L1206.7 1261.3L1207.2 1252.6L1207.7 1232.8L1208.2 1239.9L1208.7 1260.1L1209.2 1267.4L1209.7 1253.3L1210.3 1262.8L1210.8 1244.3L1211.3 1248.5L1211.8 1250.4L1212.3 1254.6L1212.8 1235.1L1213.3 1259.8L1213.9 1263.6L1214.4 1238.9L1214.9 1236.9L1215.4 1253.9L1215.9 1243.9L1216.4 1226.7L1216.9 1258.5L1217.4 1252.0L1218.0 1245.7L1218.5 1271.6L1219.0 1251.8L1219.5 1242.9L1220.0 1251.5L1220.5 1240.1L1221.0 1242.9L1221.6 1254.3L1222.1 1245.0L1222.6 1246.0L1223.1 1267.2L1223.6 1259.1L1224.1 1258.5L1224.6 1255.8L1225.2 1255.4L1225.7 1265.1L1226.2 1250.4L1226.7 1269.1L1227.2 1241.1L1227.7 1248.0L1228.2 1236.8L1228.8 1247.2L1229.3 1255.8L1229.8 1265.1L1230.3 1244.0L1230.8 1250.7L1231.3 1247.0L1231.8 1243.3L1232.3 1238.8L1232.9 1251.2L1233.4 1233.4L1233.9 1251.8L1234.4 1250.9L1234.9 1244.1L1235.4 1240.6L1235.9 1236.9L1236.5 1269.4L1237.0 1237.3L1237.5 1266.3L1238.0 1256.7L1238.5 1247.1L1239.0 1239.2L1239.5 1261.1L1240.1 1268.0L1240.6 1241.4L1241.1 1247.8L1241.6 1261.3L1242.1 1254.1L1242.6 1270.8L1243.1 1245.1L1243.6 1256.2L1244.2 1238.4L1244.7 1271.7L1245.2 1243.6L1245.7 1228.8L1246.2 1249.6L1246.7 1249.5L1247.2 1270.0L1247.8 1247.5L1248.3 1250.8L1248.8 1256.8L1249.3 1266.8L1249.8 1250.3L1250.3 1261.3L1250.8 1256.1L1251.4 1248.0L1251.9 1251.8L1252.4 1251.3L1252.9 1241.9L1253.4 1263.1L1253.9 1237.2L1254.4 1262.7L1255.0 1260.6L1255.5 1250.2L1256.0 1243.5L1256.5 1248.9L1257.0 1255.9L1257.5 1258.6L1258.0 1254.0L1258.5 1261.1L1259.1 1245.7L1259.6 1253.6L1260.1 1235.6L1260.6 1258.9L1261.1 1252.8L1261.6 1247.2L1262.1 1262.9L1262.7 1258.2L1263.2 1223.3L1263.7 1251.8L1264.2 1236.9L1264.7 1262.0L1265.2 1276.2L1265.7 1246.3L1266.3 1252.2L1266.8 1249.0L1267.3 1255.0L1267.8 1258.0L1268.3 1264.4L1268.8 1241.8L1269.3 1267.3L1269.8 1242.4L1270.4 1254.4L1270.9 1263.2L1271.4 1258.8L1271.9 1242.4L1272.4 1244.8L1272.9 1247.2L1273.4 1251.3L1274.0 1263.2L1274.5 1239.0L1275.0 1256.5L1275.5 1258.0L1276.0 1257.5L1276.5 1256.6L1277.0 1267.1L1277.6 1256.9L1278.1 1260.6L1278.6 1257.7L1279.1 1269.9L1279.6 1233.2L1280.1 1264.9L1280.6 1249.6L1281.2 1249.4L1281.7 1242.6L1282.2 1233.7L1282.7 1248.5L1283.2 1245.5L1283.7 1257.2L1284.2 1237.7L1284.7 1266.6L1285.3 1255.1L1285.8 1250.0L1286.3 1245.4L1286.8 1244.7L1287.3 1241.3L1287.8 1247.2L1288.3 1252.7L1288.9 1250.9L1289.4 1238.6L1289.9 1250.0L1290.4 1243.8L1290.9 1254.3L1291.4 1271.3L1291.9 1259.0L1292.5 1249.7L1293.0 1236.7L1293.5 1238.9L1294.0 1236.2L1294.5 1260.1L1295.0 1245.4L1295.5 1253.6L1296.0 1246.9L1296.6 1254.0L1297.1 1267.0L1297.6 1246.3L1298.1 1249.8L1298.6 1245.2L1299.1 1261.9L1299.6 1243.1L1300.2 1242.0L1300.7 1239.5L1301.2 1239.4L1301.7 1258.0L1302.2 1278.8L1302.7 1243.6L1303.2 1262.9L1303.8 1255.9L1304.3 1242.6L1304.8 1250.8L1305.3 1251.2L1305.8 1246.7L1306.3 1272.7L1306.8 1234.8L1307.3 1257.4L1307.9 1257.0L1308.4 1248.0L1308.9 1255.2L1309.4 1262.5L1309.9 1255.3L1310.4 1258.0L1310.9 1260.7L1311.5 1233.8L1312.0 1268.5L1312.5 1276.5L1313.0 1263.7L1313.5 1264.0L1314.0 1240.1L1314.5 1252.9L1315.1 1246.1L1315.6 1248.3L1316.1 1263.7L1316.6 1246.2L1317.1 1252.9L1317.6 1235.4L1318.1 1252.7L1318.7 1255.2L1319.2 1247.4L1319.7 1247.3L1320.2 1273.0L1320.7 1242.5L1321.2 1244.1L1321.7 1246.5L1322.2 1266.4L1322.8 1275.3L1323.3 1257.9L1323.8 1247.6L1324.3 1250.5L1324.8 1265.2L1325.3 1245.8L1325.8 1269.1L1326.4 1268.8L1326.9 1255.6L1327.4 1261.3L1327.9 1262.4L1328.4 1270.3L1328.9 1244.7L1329.4 1266.7L1330.0 1251.4L1330.5 1247.6L1331.0 1256.2L1331.5 1253.1L1332.0 1245.6L1332.5 1239.6L1333.0 1246.1L1333.5 1269.7L1334.1 1274.8L1334.6 1261.9L1335.1 1267.2L1335.6 1250.5L1336.1 1254.8L1336.6 1258.4L1337.1 1245.1L1337.7 1246.0L1338.2 1256.7L1338.7 1252.7L1339.2 1245.4L1339.7 1259.7L1340.2 1253.3L1340.7 1266.0L1341.3 1255.9L1341.8 1253.1L1342.3 1257.3L1342.8 1254.4L1343.3 1249.6L1343.8 1252.2L1344.3 1263.6L1344.9 1262.6L1345.4 1268.9L1345.9 1239.7L1346.4 1252.5L1346.9 1252.3L1347.4 1258.1L1347.9 1252.0L1348.4 1251.4L1349.0 1264.2L1349.5 1258.3L1350.0 1245.1L1350.5 1269.7L1351.0 1266.4L1351.5 1251.0L1352.0 1264.8L1352.6 1249.5L1353.1 1267.7L1353.6 1254.6L1354.1 1248.9L1354.6 1253.1L1355.1 1249.3L1355.6 1258.7L1356.2 1258.6L1356.7 1257.2L1357.2 1251.4L1357.7 1221.0L1358.2 1257.8L1358.7 1238.3L1359.2 1259.3L1359.7 1268.0L1360.3 1259.6L1360.8 1253.1L1361.3 1255.2L1361.8 1255.7L1362.3 1251.6L1362.8 1251.3L1363.3 1247.9L1363.9 1268.6L1364.4 1256.8L1364.9 1266.4L1365.4 1254.6L1365.9 1257.7L1366.4 1255.3L1366.9 1261.5L1367.5 1265.1L1368.0 1259.3L1368.5 1250.4L1369.0 1249.4L1369.5 1273.2L1370.0 1254.3L1370.5 1254.1L1371.1 1271.3L1371.6 1267.7L1372.1 1262.2L1372.6 1253.1L1373.1 1280.0L1373.6 1260.8L1374.1 1262.4L1374.6 1255.3L1375.2 1243.2L1375.7 1243.9L1376.2 1261.0L1376.7 1260.8L1377.2 1254.6L1377.7 1245.5L1378.2 1242.9L1378.8 1253.8L1379.3 1242.7L1379.8 1265.8L1380.3 1268.3L1380.8 1284.7L1381.3 1265.6L1381.8 1251.2L1382.4 1248.5L1382.9 1223.2L1383.4 1251.2L1383.9 1255.3L1384.4 1266.5L1384.9 1263.0L1385.4 1262.8L1385.9 1259.1L1386.5 1263.5L1387.0 1271.2L1387.5 1246.6L1388.0 1252.5L1388.5 1243.4L1389.0 1272.8L1389.5 1269.7L1390.1 1264.4L1390.6 1245.3L1391.1 1258.7L1391.6 1254.7L1392.1 1257.8L1392.6 1255.2L1393.1 1262.1L1393.7 1253.1L1394.2 1265.4L1394.7 1259.4L1395.2 1254.1L1395.7 1255.9L1396.2 1252.7L1396.7 1265.0L1397.2 1254.3L1397.8 1259.9L1398.3 1253.2L1398.8 1242.5L1399.3 1265.9L1399.8 1246.6L1400.3 1263.7L1400.8 1261.1L1401.4 1240.8L1401.9 1247.7L1402.4 1252.0L1402.9 1249.0L1403.4 1245.4L1403.9 1264.2L1404.4 1254.7L1405.0 1260.8L1405.5 1252.8L1406.0 1260.0L1406.5 1249.6L1407.0 1256.7L1407.5 1262.7L1408.0 1257.4L1408.6 1252.5L1409.1 1246.4L1409.6 1258.6L1410.1 1260.4L1410.6 1254.5L1411.1 1249.5L1411.6 1262.3L1412.1 1281.3L1412.7 1254.0L1413.2 1260.3L1413.7 1260.7L1414.2 1231.9L1414.7 1258.2L1415.2 1250.1L1415.7 1270.6L1416.3 1254.5L1416.8 1249.4L1417.3 1254.9L1417.8 1258.6L1418.3 1251.5L1418.8 1256.5L1419.3 1243.7L1419.9 1254.8L1420.4 1264.6L1420.9 1276.3L1421.4 1263.9L1421.9 1259.7L1422.4 1268.6L1422.9 1267.0L1423.4 1273.3L1424.0 1267.6L1424.5 1255.8L1425.0 1259.5L1425.5 1258.8L1426.0 1260.0L1426.5 1259.0L1427.0 1249.3L1427.6 1236.4L1428.1 1250.4L1428.6 1237.2L1429.1 1257.7L1429.6 1257.0L1430.1 1240.6L1430.6 1263.7L1431.2 1265.5L1431.7 1257.9L1432.2 1273.3L1432.7 1275.3L1433.2 1245.2L1433.7 1267.2L1434.2 1261.3L1434.8 1261.1L1435.3 1266.2L1435.8 1250.0L1436.3 1251.2L1436.8 1248.9L1437.3 1249.6L1437.8 1256.0L1438.3 1242.8L1438.9 1246.8L1439.4 1262.7L1439.9 1256.3L1440.4 1260.7L1440.9 1238.5L1441.4 1249.3L1441.9 1251.6L1442.5 1257.3L1443.0 1251.3L1443.5 1266.1L1444.0 1256.4L1444.5 1257.2L1445.0 1257.1L1445.5 1263.9L1446.1 1252.4L1446.6 1268.0L1447.1 1261.5L1447.6 1258.5L1448.1 1257.4L1448.6 1262.1L1449.1 1266.9L1449.6 1266.3L1450.2 1260.7L1450.7 1265.6L1451.2 1258.2L1451.7 1269.3L1452.2 1256.7L1452.7 1236.7L1453.2 1270.1L1453.8 1258.1L1454.3 1245.5L1454.8 1255.1L1455.3 1248.3L1455.8 1277.6L1456.3 1261.9L1456.8 1241.6L1457.4 1262.3L1457.9 1253.1L1458.4 1275.8L1458.9 1246.7L1459.4 1235.0L1459.9 1257.6L1460.4 1253.6L1461.0 1252.9L1461.5 1236.0L1462.0 1261.1L1462.5 1273.3L1463.0 1238.3L1463.5 1268.4L1464.0 1251.4L1464.5 1279.9L1465.1 1261.2L1465.6 1255.1L1466.1 1267.7L1466.6 1262.1L1467.1 1251.1L1467.6 1263.8L1468.1 1251.9L1468.7 1239.4L1469.2 1276.8L1469.7 1253.4L1470.2 1250.9L1470.7 1260.2L1471.2 1241.5L1471.7 1243.6L1472.3 1251.9L1472.8 1251.7L1473.3 1257.5L1473.8 1267.8L1474.3 1252.1L1474.8 1261.6L1475.3 1262.6L1475.8 1246.1L1476.4 1259.0L1476.9 1247.5L1477.4 1267.1L1477.9 1261.1L1478.4 1256.8L1478.9 1243.5L1479.4 1257.8L1480.0 1249.1L1480.5 1263.5L1481.0 1255.4L1481.5 1248.6L1482.0 1265.6L1482.5 1263.6L1483.0 1250.7L1483.6 1267.9L1484.1 1253.6L1484.6 1253.5L1485.1 1257.7L1485.6 1249.1L1486.1 1252.1L1486.6 1254.9L1487.1 1271.4L1487.7 1271.1L1488.2 1253.9L1488.7 1272.2L1489.2 1255.9L1489.7 1260.1L1490.2 1265.0L1490.7 1259.2L1491.3 1280.0L1491.8 1258.7L1492.3 1244.5L1492.8 1269.1L1493.3 1252.2L1493.8 1253.2L1494.3 1226.8L1494.9 1266.0L1495.4 1264.2L1495.9 1264.0L1496.4 1265.7L1496.9 1272.7L1497.4 1255.6L1497.9 1265.3L1498.5 1248.8L1499.0 1252.6L1499.5 1266.4L1500.0 1259.9L1500.5 1242.9L1501.0 1259.5L1501.5 1254.2L1502.0 1247.9L1502.6 1260.2L1503.1 1251.9L1503.6 1240.5L1504.1 1245.0L1504.6 1273.2L1505.1 1241.0L1505.6 1258.0L1506.2 1261.8L1506.7 1262.1L1507.2 1243.7L1507.7 1252.6L1508.2 1257.1L1508.7 1263.6L1509.2 1249.4L1509.8 1244.3L1510.3 1265.5L1510.8 1266.5L1511.3 1259.3L1511.8 1249.6L1512.3 1259.6L1512.8 1256.7L1513.3 1263.8L1513.9 1243.3L1514.4 1256.7L1514.9 1254.0L1515.4 1244.6L1515.9 1257.6L1516.4 1255.8L1516.9 1251.4L1517.5 1259.4L1518.0 1241.5L1518.5 1254.9L1519.0 1259.7L1519.5 1258.2L1520.0 1266.0L1520.5 1243.6L1521.1 1240.5L1521.6 1257.7L1522.1 1259.8L1522.6 1276.2L1523.1 1261.4L1523.6 1246.7L1524.1 1263.2L1524.7 1247.0L1525.2 1240.6L1525.7 1280.9L1526.2 1258.4L1526.7 1262.3L1527.2 1260.8L1527.7 1273.0L1528.2 1258.0L1528.8 1267.2L1529.3 1245.1L1529.8 1241.5L1530.3 1269.2L1530.8 1269.7L1531.3 1260.2L1531.8 1257.4L1532.4 1256.8L1532.9 1248.3L1533.4 1270.3L1533.9 1261.6L1534.4 1260.1L1534.9 1258.8L1535.4 1265.4L1536.0 1260.0L1536.5 1262.4L1537.0 1243.5L1537.5 1260.1L1538.0 1276.6L1538.5 1249.9L1539.0 1253.8L1539.5 1263.8L1540.1 1264.5L1540.6 1261.2L1541.1 1239.1L1541.6 1260.0L1542.1 1243.3L1542.6 1246.9L1543.1 1260.4L1543.7 1252.1L1544.2 1263.0L1544.7 1286.0L1545.2 1262.7L1545.7 1262.1L1546.2 1246.2L1546.7 1248.7L1547.3 1244.5L1547.8 1249.8L1548.3 1244.2L1548.8 1248.5L1549.3 1252.9L1549.8 1245.1L1550.3 1241.0L1550.9 1241.6L1551.4 1259.5L1551.9 1255.6L1552.4 1265.1L1552.9 1265.3L1553.4 1251.6L1553.9 1261.6L1554.4 1240.8L1555.0 1277.5L1555.5 1266.8L1556.0 1252.9L1556.5 1243.5L1557.0 1258.7L1557.5 1236.6L1558.0 1247.3L1558.6 1262.4L1559.1 1255.7L1559.6 1250.2L1560.1 1264.4L1560.6 1244.8L1561.1 1257.8L1561.6 1250.1L1562.2 1246.7L1562.7 1259.6L1563.2 1245.2L1563.7 1273.7L1564.2 1249.2L1564.7 1274.6L1565.2 1244.2L1565.7 1261.0L1566.3 1243.2L1566.8 1241.8L1567.3 1256.6L1567.8 1261.7L1568.3 1242.4L1568.8 1266.7L1569.3 1247.1L1569.9 1256.3L1570.4 1258.7L1570.9 1260.9L1571.4 1237.3L1571.9 1270.9L1572.4 1260.5L1572.9 1250.8L1573.5 1244.9L1574.0 1238.3L1574.5 1241.6L1575.0 1260.4L1575.5 1251.6L1576.0 1243.9L1576.5 1249.8L1577.0 1270.4L1577.6 1251.7L1578.1 1249.2L1578.6 1268.3L1579.1 1259.6L1579.6 1255.4L1580.1 1249.0L1580.6 1239.7L1581.2 1243.5L1581.7 1250.3L1582.2 1252.8L1582.7 1258.5L1583.2 1260.4L1583.7 1257.2L1584.2 1257.2L1584.8 1245.1L1585.3 1233.8L1585.8 1249.9L1586.3 1245.6L1586.8 1248.6L1587.3 1252.3L1587.8 1242.7L1588.4 1244.1L1588.9 1254.0L1589.4 1256.1L1589.9 1248.5L1590.4 1259.9L1590.9 1252.8L1591.4 1245.0L1591.9 1255.4L1592.5 1273.5L1593.0 1248.4L1593.5 1266.5L1594.0 1268.6L1594.5 1269.8L1595.0 1246.9L1595.5 1274.9L1596.1 1256.1L1596.6 1252.5L1597.1 1252.7L1597.6 1260.9L1598.1 1255.5L1598.6 1253.3L1599.1 1267.6L1599.7 1247.9L1600.2 1244.7L1600.7 1262.8L1601.2 1261.9L1601.7 1265.8L1602.2 1244.4L1602.7 1265.7L1603.2 1259.7L1603.8 1272.4L1604.3 1242.7L1604.8 1257.2L1605.3 1252.3L1605.8 1239.3L1606.3 1248.0L1606.8 1266.1L1607.4 1250.4L1607.9 1247.9L1608.4 1263.6L1608.9 1264.7L1609.4 1264.7L1609.9 1247.2L1610.4 1254.4L1611.0 1265.2L1611.5 1248.5L1612.0 1247.6L1612.5 1263.2L1613.0 1270.4L1613.5 1243.6L1614.0 1229.4L1614.6 1240.7L1615.1 1245.0L1615.6 1253.6L1616.1 1261.1L1616.6 1253.6L1617.1 1248.1L1617.6 1256.5L1618.1 1245.5L1618.7 1254.5L1619.2 1248.7L1619.7 1281.4L1620.2 1263.0L1620.7 1246.8L1621.2 1245.2L1621.7 1250.7L1622.3 1238.8L1622.8 1247.8L1623.3 1247.7L1623.8 1263.7L1624.3 1250.8L1624.8 1247.2L1625.3 1241.8L1625.9 1243.4L1626.4 1254.3L1626.9 1252.9L1627.4 1266.2L1627.9 1248.8L1628.4 1265.4L1628.9 1257.5L1629.4 1255.0L1630.0 1235.2L1630.5 1242.3L1631.0 1262.3L1631.5 1268.8L1632.0 1257.0L1632.5 1262.5L1633.0 1251.0L1633.6 1251.3L1634.1 1248.5L1634.6 1264.6L1635.1 1258.4L1635.6 1252.7L1636.1 1251.8L1636.6 1260.5L1637.2 1258.2L1637.7 1246.8L1638.2 1271.9L1638.7 1257.5L1639.2 1255.1L1639.7 1269.6L1640.2 1265.1L1640.8 1254.1L1641.3 1260.3L1641.8 1244.5L1642.3 1248.7L1642.8 1232.8L1643.3 1267.0L1643.8 1236.3L1644.3 1261.7L1644.9 1246.8L1645.4 1245.4L1645.9 1253.1L1646.4 1257.7L1646.9 1261.1L1647.4 1272.5L1647.9 1258.6L1648.5 1263.7L1649.0 1249.2L1649.5 1262.1L1650.0 1256.6L1650.5 1250.5L1651.0 1254.2L1651.5 1254.5L1652.1 1257.0L1652.6 1259.1L1653.1 1250.1L1653.6 1247.8L1654.1 1262.5L1654.6 1238.5L1655.1 1249.1L1655.6 1270.5L1656.2 1228.5L1656.7 1248.4L1657.2 1262.0L1657.7 1239.0L1658.2 1280.8L1658.7 1229.7L1659.2 1269.4L1659.8 1270.6L1660.3 1264.3L1660.8 1253.1L1661.3 1258.8L1661.8 1246.5L1662.3 1263.3L1662.8 1244.3L1663.4 1252.6L1663.9 1265.1L1664.4 1244.4L1664.9 1251.8L1665.4 1257.0L1665.9 1242.2L1666.4 1266.9L1666.9 1258.8L1667.5 1240.5L1668.0 1255.0L1668.5 1247.8L1669.0 1249.0L1669.5 1256.2L1670.0 1248.5L1670.5 1265.0L1671.1 1248.6L1671.6 1265.2L1672.1 1255.1L1672.6 1264.0L1673.1 1250.3L1673.6 1250.6L1674.1 1244.3L1674.7 1261.3L1675.2 1264.9L1675.7 1276.5L1676.2 1268.4L1676.7 1258.1L1677.2 1253.6L1677.7 1259.5L1678.3 1255.4L1678.8 1270.1L1679.3 1265.0L1679.8 1247.5L1680.3 1249.0L1680.8 1269.2L1681.3 1258.8L1681.8 1253.5L1682.4 1267.5L1682.9 1252.0L1683.4 1253.1L1683.9 1251.4L1684.4 1236.6L1684.9 1264.4L1685.4 1244.1L1686.0 1250.4L1686.5 1248.7L1687.0 1263.1L1687.5 1255.3L1688.0 1256.2L1688.5 1239.5L1689.0 1255.2L1689.6 1241.6L1690.1 1259.1L1690.6 1259.7L1691.1 1255.9L1691.6 1276.2L1692.1 1261.3L1692.6 1262.0L1693.1 1257.6L1693.7 1254.3L1694.2 1265.7L1694.7 1267.0L1695.2 1243.5L1695.7 1266.6L1696.2 1261.3L1696.7 1265.7L1697.3 1260.9L1697.8 1244.1L1698.3 1244.8L1698.8 1274.2L1699.3 1258.8L1699.8 1242.5L1700.3 1259.8L1700.9 1252.8L1701.4 1238.3L1701.9 1234.0L1702.4 1240.7L1702.9 1259.1L1703.4 1256.0L1703.9 1254.0L1704.5 1259.3L1705.0 1262.4L1705.5 1235.9L1706.0 1253.6L1706.5 1248.4L1707.0 1244.5L1707.5 1251.2L1708.0 1255.4L1708.6 1254.0L1709.1 1242.4L1709.6 1251.9L1710.1 1276.4L1710.6 1246.3L1711.1 1240.1L1711.6 1259.4L1712.2 1262.5L1712.7 1261.3L1713.2 1245.8L1713.7 1266.5L1714.2 1249.1L1714.7 1245.6L1715.2 1250.8L1715.8 1255.7L1716.3 1263.8L1716.8 1262.9L1717.3 1256.6L1717.8 1266.0L1718.3 1257.6L1718.8 1265.6L1719.3 1243.1L1719.9 1241.5L1720.4 1264.5L1720.9 1243.3L1721.4 1254.0L1721.9 1256.0L1722.4 1252.1L1722.9 1252.5L1723.5 1270.6L1724.0 1232.2L1724.5 1265.6L1725.0 1279.4L1725.5 1257.2L1726.0 1256.8L1726.5 1264.1L1727.1 1274.9L1727.6 1245.4L1728.1 1257.9L1728.6 1255.2L1729.1 1262.5L1729.6 1258.6L1730.1 1263.5L1730.7 1252.9L1731.2 1257.5L1731.7 1250.5L1732.2 1250.6L1732.7 1255.7L1733.2 1255.7L1733.7 1245.6L1734.2 1272.5L1734.8 1255.8L1735.3 1243.6L1735.8 1267.9L1736.3 1249.8L1736.8 1262.1L1737.3 1257.0L1737.8 1259.6L1738.4 1258.8L1738.9 1251.5L1739.4 1257.6L1739.9 1277.1L1740.4 1235.3L1740.9 1257.8L1741.4 1261.4L1742.0 1246.9L1742.5 1243.8L1743.0 1278.3L1743.5 1253.6L1744.0 1277.6L1744.5 1262.5L1745.0 1258.0L1745.5 1261.9L1746.1 1263.5L1746.6 1268.8L1747.1 1261.5L1747.6 1258.7L1748.1 1259.0L1748.6 1270.5L1749.1 1265.3L1749.7 1247.5L1750.2 1251.1L1750.7 1260.5L1751.2 1251.2L1751.7 1253.6L1752.2 1248.0L1752.7 1254.8L1753.3 1261.5L1753.8 1267.1L1754.3 1257.4L1754.8 1277.6L1755.3 1256.6L1755.8 1288.6L1756.3 1267.1L1756.8 1262.2L1757.4 1252.5L1757.9 1229.7L1758.4 1255.9L1758.9 1259.1L1759.4 1276.2L1759.9 1243.9L1760.4 1276.0L1761.0 1254.9L1761.5 1264.5L1762.0 1232.6L1762.5 1258.8L1763.0 1254.1L1763.5 1264.1L1764.0 1258.3L1764.6 1246.3L1765.1 1266.7L1765.6 1264.2L1766.1 1263.3L1766.6 1267.3L1767.1 1268.2L1767.6 1257.2L1768.2 1244.2L1768.7 1243.9L1769.2 1270.7L1769.7 1264.4L1770.2 1258.5L1770.7 1253.2L1771.2 1257.8L1771.7 1257.7L1772.3 1254.2L1772.8 1250.7L1773.3 1278.7L1773.8 1259.8L1774.3 1251.6L1774.8 1244.8L1775.3 1250.4L1775.9 1264.6L1776.4 1265.0L1776.9 1255.4L1777.4 1258.1L1777.9 1254.6L1778.4 1246.7L1778.9 1270.3L1779.5 1261.2L1780.0 1281.8L1780.5 1250.2L1781.0 1256.2L1781.5 1266.2L1782.0 1255.2L1782.5 1244.0L1783.0 1248.3L1783.6 1258.6L1784.1 1261.0L1784.6 1256.7L1785.1 1267.4L1785.6 1267.3L1786.1 1260.8L1786.6 1257.9L1787.2 1255.2L1787.7 1263.0L1788.2 1266.6L1788.7 1258.3L1789.2 1262.1L1789.7 1254.5L1790.2 1243.9L1790.8 1247.9L1791.3 1265.2L1791.8 1262.1L1792.3 1273.2L1792.8 1258.3L1793.3 1266.2L1793.8 1270.6L1794.4 1267.4L1794.9 1251.8L1795.4 1255.9L1795.9 1259.0L1796.4 1248.1L1796.9 1262.4L1797.4 1267.8L1797.9 1253.1L1798.5 1277.0L1799.0 1254.9L1799.5 1255.8L1800.0 1255.5L1800.5 1250.9L1801.0 1261.9L1801.5 1258.0L1802.1 1274.0L1802.6 1263.7L1803.1 1263.1L1803.6 1255.7L1804.1 1244.0L1804.6 1257.0L1805.1 1249.5L1805.7 1267.1L1806.2 1257.6L1806.7 1274.1L1807.2 1265.0L1807.7 1266.0L1808.2 1260.1L1808.7 1259.9L1809.2 1264.3L1809.8 1266.9L1810.3 1251.0L1810.8 1262.7L1811.3 1283.5L1811.8 1257.1L1812.3 1255.4L1812.8 1251.2L1813.4 1243.8L1813.9 1269.6L1814.4 1258.6L1814.9 1260.9L1815.4 1276.0L1815.9 1282.5L1816.4 1249.3L1817.0 1268.3L1817.5 1264.1L1818.0 1261.9L1818.5 1262.7L1819.0 1257.8L1819.5 1273.6L1820.0 1264.1L1820.6 1261.4L1821.1 1270.3L1821.6 1266.9L1822.1 1262.6L1822.6 1261.3L1823.1 1275.3L1823.6 1263.1L1824.1 1257.3L1824.7 1249.8L1825.2 1254.8L1825.7 1247.9L1826.2 1259.2L1826.7 1260.7L1827.2 1238.2L1827.7 1258.4L1828.3 1264.6L1828.8 1259.9L1829.3 1248.9L1829.8 1270.6L1830.3 1251.5L1830.8 1246.3L1831.3 1247.8L1831.9 1258.2L1832.4 1267.9L1832.9 1269.7L1833.4 1260.4L1833.9 1246.7L1834.4 1252.0L1834.9 1249.6L1835.4 1256.7L1836.0 1241.1L1836.5 1259.5L1837.0 1264.7L1837.5 1257.0L1838.0 1262.9L1838.5 1249.3L1839.0 1244.3L1839.6 1252.3L1840.1 1269.8L1840.6 1268.6L1841.1 1254.1L1841.6 1270.3L1842.1 1255.4L1842.6 1273.3L1843.2 1263.3L1843.7 1254.2L1844.2 1266.4L1844.7 1251.1L1845.2 1249.5L1845.7 1244.5L1846.2 1261.2L1846.7 1258.2L1847.3 1258.0L1847.8 1254.7L1848.3 1272.7L1848.8 1254.6L1849.3 1251.7L1849.8 1270.9L1850.3 1272.6L1850.9 1262.1L1851.4 1241.9L1851.9 1253.0L1852.4 1264.8L1852.9 1259.0L1853.4 1274.0L1853.9 1245.6L1854.5 1265.5L1855.0 1252.8L1855.5 1271.8L1856.0 1258.2L1856.5 1269.0L1857.0 1252.7L1857.5 1245.3L1858.1 1248.2L1858.6 1253.1L1859.1 1249.1L1859.6 1270.7L1860.1 1272.1L1860.6 1261.8L1861.1 1249.0L1861.6 1258.0L1862.2 1252.5L1862.7 1273.3L1863.2 1262.2L1863.7 1263.9L1864.2 1255.3L1864.7 1239.7L1865.2 1251.7L1865.8 1248.4L1866.3 1262.9L1866.8 1260.2L1867.3 1251.5L1867.8 1255.5L1868.3 1274.5L1868.8 1250.0L1869.4 1250.4L1869.9 1257.1L1870.4 1252.6L1870.9 1255.2L1871.4 1264.6L1871.9 1276.2L1872.4 1242.1L1872.9 1259.3L1873.5 1259.9L1874.0 1258.7L1874.5 1257.7L1875.0 1256.2L1875.5 1269.3L1876.0 1255.0L1876.5 1258.3L1877.1 1259.5L1877.6 1260.6L1878.1 1257.9L1878.6 1269.3L1879.1 1259.5L1879.6 1261.3L1880.1 1259.1L1880.7 1249.9L1881.2 1251.6L1881.7 1249.5L1882.2 1261.5L1882.7 1252.7L1883.2 1249.4L1883.7 1262.0L1884.3 1264.8L1884.8 1242.6L1885.3 1276.1L1885.8 1260.1L1886.3 1258.7L1886.8 1270.1L1887.3 1260.4L1887.8 1253.9L1888.4 1281.1L1888.9 1249.4L1889.4 1258.9L1889.9 1268.0L1890.4 1249.4L1890.9 1258.8L1891.4 1263.6L1892.0 1283.2L1892.5 1251.2L1893.0 1259.4L1893.5 1266.3L1894.0 1260.7L1894.5 1248.2L1895.0 1263.9L1895.6 1260.9L1896.1 1264.2L1896.6 1270.9L1897.1 1269.8L1897.6 1263.9L1898.1 1262.9L1898.6 1249.3L1899.1 1258.6L1899.7 1262.1L1900.2 1256.1L1900.7 1260.9L1901.2 1252.0L1901.7 1274.9L1902.2 1280.9L1902.7 1256.2L1903.3 1263.9L1903.8 1257.7L1904.3 1272.2L1904.8 1264.2L1905.3 1260.7L1905.8 1257.8L1906.3 1261.2L1906.9 1250.3L1907.4 1266.6L1907.9 1253.1L1908.4 1265.2L1908.9 1261.3L1909.4 1270.6L1909.9 1259.8L1910.5 1269.9L1911.0 1251.0L1911.5 1265.9L1912.0 1257.8L1912.5 1261.9L1913.0 1260.7L1913.5 1269.1L1914.0 1240.4L1914.6 1263.1L1915.1 1245.5L1915.6 1271.7L1916.1 1240.8L1916.6 1250.2L1917.1 1243.7L1917.6 1275.9L1918.2 1247.4L1918.7 1261.0L1919.2 1254.7L1919.7 1242.5L1920.2 1256.6L1920.7 1266.3L1921.2 1258.1L1921.8 1269.0L1922.3 1256.4L1922.8 1259.9L1923.3 1256.1L1923.8 1263.2L1924.3 1278.3L1924.8 1263.3L1925.3 1261.7L1925.9 1253.8L1926.4 1252.5L1926.9 1274.0L1927.4 1249.0L1927.9 1250.9L1928.4 1258.8L1928.9 1255.6L1929.5 1278.7L1930.0 1236.7L1930.5 1263.2L1931.0 1266.6L1931.5 1248.8L1932.0 1253.4L1932.5 1263.8L1933.1 1275.4L1933.6 1250.7L1934.1 1244.2L1934.6 1269.0L1935.1 1274.3L1935.6 1256.3L1936.1 1238.0L1936.6 1273.6L1937.2 1257.5L1937.7 1270.4L1938.2 1259.0L1938.7 1255.8L1939.2 1255.0L1939.7 1273.7L1940.2 1273.3L1940.8 1238.6L1941.3 1250.2L1941.8 1276.6L1942.3 1255.7L1942.8 1246.0L1943.3 1259.3L1943.8 1258.2L1944.4 1258.3L1944.9 1254.5L1945.4 1256.1L1945.9 1254.7L1946.4 1262.4L1946.9 1251.2L1947.4 1256.2L1948.0 1257.6L1948.5 1271.7L1949.0 1262.6L1949.5 1257.9L1950.0 1264.2L1950.5 1262.9L1951.0 1269.5L1951.5 1263.8L1952.1 1276.3L1952.6 1271.9L1953.1 1258.4L1953.6 1254.7L1954.1 1267.4L1954.6 1263.8L1955.1 1257.8L1955.7 1244.3L1956.2 1240.8L1956.7 1262.0L1957.2 1266.1L1957.7 1266.4L1958.2 1246.0L1958.7 1268.6L1959.3 1253.3L1959.8 1262.3L1960.3 1262.5L1960.8 1250.6L1961.3 1252.6L1961.8 1238.1L1962.3 1249.4L1962.8 1240.7L1963.4 1262.5L1963.9 1258.9L1964.4 1267.1L1964.9 1261.7L1965.4 1252.0L1965.9 1261.5L1966.4 1254.3L1967.0 1264.0L1967.5 1261.1L1968.0 1248.4L1968.5 1258.0" stroke="#FF0000"/>
<path d="M170.5 1130.6L171.0 1126.5L171.5 1138.9L172.0 1147.3L172.6 1125.1L173.1 1125.1L173.6 1104.9L174.1 1126.9L174.6 1123.4L175.1 1105.0L175.6 1130.6L176.2 1133.5L176.7 1119.3L177.2 1122.9L177.7 1116.4L178.2 1134.4L178.7 1110.1L179.2 1122.5L179.7 1146.2L180.3 1125.9L180.8 1130.1L181.3 1123.3L181.8 1112.2L182.3 1124.0L182.8 1128.4L183.3 1113.1L183.9 1127.3L184.4 1136.6L184.9 1134.5L185.4 1106.1L185.9 1112.3L186.4 1105.3L186.9 1133.6L187.5 1128.4L188.0 1129.2L188.5 1112.2L189.0 1108.8L189.5 1121.8L190.0 1121.8L190.5 1111.4L191.0 1121.8L191.6 1126.9L192.1 1122.2L192.6 1108.4L193.1 1096.8L193.6 1116.2L194.1 1120.5L194.6 1115.7L195.2 1113.7L195.7 1110.6L196.2 1125.3L196.7 1116.9L197.2 1118.5L197.7 1106.6L198.2 1110.0L198.8 1118.2L199.3 1105.4L199.8 1102.4L200.3 1112.1L200.8 1128.3L201.3 1117.2L201.8 1130.6L202.4 1113.3L202.9 1111.1L203.4 1099.3L203.9 1107.8L204.4 1129.2L204.9 1117.1L205.4 1121.2L205.9 1120.7L206.5 1112.8L207.0 1110.5L207.5 1113.8L208.0 1119.6L208.5 1117.1L209.0 1117.3L209.5 1113.5L210.1 1103.4L210.6 1108.7L211.1 1101.2L211.6 1122.0L212.1 1088.4L212.6 1108.6L213.1 1136.5L213.7 1106.9L214.2 1098.3L214.7 1110.2L215.2 1124.1L215.7 1108.4L216.2 1116.6L216.7 1110.9L217.2 1105.7L217.8 1143.6L218.3 1110.2L218.8 1103.6L219.3 1103.9L219.8 1113.2L220.3 1113.4L220.8 1117.2L221.4 1110.3L221.9 1093.2L222.4 1114.3L222.9 1105.0L223.4 1105.2L223.9 1092.1L224.4 1101.8L225.0 1100.0L225.5 1107.4L226.0 1091.9L226.5 1108.0L227.0 1108.7L227.5 1095.1L228.0 1100.3L228.5 1097.6L229.1 1116.6L229.6 1079.3L230.1 1102.8L230.6 1088.3L231.1 1101.5L231.6 1115.2L232.1 1099.0L232.7 1107.2L233.2 1096.4L233.7 1126.4L234.2 1115.1L234.7 1117.3L235.2 1090.5L235.7 1092.8L236.3 1116.3L236.8 1102.3L237.3 1101.4L237.8 1107.7L238.3 1090.2L238.8 1112.1L239.3 1103.7L239.9 1108.6L240.4 1095.9L240.9 1108.6L241.4 1095.2L241.9 1113.1L242.4 1114.8L242.9 1112.3L243.4 1107.8L244.0 1109.0L244.5 1072.4L245.0 1110.8L245.5 1098.6L246.0 1102.5L246.5 1098.2L247.0 1086.0L247.6 1095.1L248.1 1108.0L248.6 1116.2L249.1 1093.8L249.6 1090.6L250.1 1116.2L250.6 1090.6L251.2 1122.7L251.7 1100.5L252.2 1090.2L252.7 1110.5L253.2 1118.1L253.7 1083.8L254.2 1116.4L254.7 1096.2L255.3 1115.4L255.8 1094.9L256.3 1081.7L256.8 1104.3L257.3 1108.8L257.8 1121.5L258.3 1117.3L258.9 1105.9L259.4 1095.6L259.9 1092.4L260.4 1094.7L260.9 1088.7L261.4 1094.7L261.9 1069.7L262.5 1099.4L263.0 1097.0L263.5 1125.3L264.0 1105.3L264.5 1091.6L265.0 1102.9L265.5 1083.1L266.1 1089.7L266.6 1075.7L267.1 1111.8L267.6 1102.3L268.1 1082.7L268.6 1094.7L269.1 1105.6L269.6 1100.4L270.2 1098.9L270.7 1085.0L271.2 1087.2L271.7 1095.0L272.2 1103.8L272.7 1084.2L273.2 1080.7L273.8 1105.4L274.3 1082.2L274.8 1104.0L275.3 1094.5L275.8 1101.2L276.3 1110.5L276.8 1098.5L277.4 1099.1L277.9 1080.1L278.4 1082.2L278.9 1096.7L279.4 1106.2L279.9 1104.3L280.4 1114.2L280.9 1091.6L281.5 1090.1L282.0 1098.7L282.5 1087.4L283.0 1086.2L283.5 1074.9L284.0 1097.2L284.5 1074.0L285.1 1091.3L285.6 1069.5L286.1 1097.2L286.6 1073.3L287.1 1093.8L287.6 1066.4L288.1 1078.9L288.7 1096.6L289.2 1074.2L289.7 1083.6L290.2 1077.3L290.7 1056.5L291.2 1085.4L291.7 1086.5L292.3 1069.0L292.8 1087.5L293.3 1071.9L293.8 1069.3L294.3 1080.3L294.8 1072.3L295.3 1105.2L295.8 1061.9L296.4 1087.2L296.9 1089.7L297.4 1056.2L297.9 1058.6L298.4 1084.1L298.9 1072.1L299.4 1081.5L300.0 1089.7L300.5 1072.4L301.0 1064.3L301.5 1045.3L302.0 1078.0L302.5 1064.9L303.0 1078.6L303.6 1077.4L304.1 1058.9L304.6 1093.6L305.1 1086.1L305.6 1083.1L306.1 1059.9L306.6 1068.4L307.1 1066.5L307.7 1067.7L308.2 1059.5L308.7 1076.8L309.2 1074.2L309.7 1075.5L310.2 1065.4L310.7 1085.4L311.3 1072.7L311.8 1039.3L312.3 1062.8L312.8 1069.2L313.3 1080.5L313.8 1065.9L314.3 1066.2L314.9 1061.3L315.4 1076.1L315.9 1063.2L316.4 1061.2L316.9 1059.3L317.4 1073.8L317.9 1061.1L318.4 1047.9L319.0 1073.7L319.5 1058.4L320.0 1070.1L320.5 1070.0L321.0 1079.1L321.5 1077.0L322.0 1058.2L322.6 1062.6L323.1 1049.4L323.6 1082.9L324.1 1068.4L324.6 1078.9L325.1 1059.0L325.6 1038.8L326.2 1079.2L326.7 1062.3L327.2 1062.3L327.7 1060.9L328.2 1067.2L328.7 1065.3L329.2 1040.4L329.8 1070.6L330.3 1051.5L330.8 1051.6L331.3 1076.2L331.8 1066.3L332.3 1051.2L332.8 1033.1L333.3 1055.7L333.9 1059.4L334.4 1051.6L334.9 1037.4L335.4 1042.0L335.9 1036.0L336.4 1052.3L336.9 1058.6L337.5 1060.4L338.0 1039.3L338.5 1049.8L339.0 1052.9L339.5 1039.8L340.0 1043.4L340.5 1069.2L341.1 1046.2L341.6 1053.5L342.1 1037.5L342.6 1042.4L343.1 1021.3L343.6 1040.4L344.1 1054.1L344.6 1064.1L345.2 1053.0L345.7 1046.5L346.2 1038.5L346.7 1030.3L347.2 1035.0L347.7 1043.5L348.2 1026.6L348.8 1046.3L349.3 1023.2L349.8 1013.4L350.3 1021.9L350.8 1013.7L351.3 1016.6L351.8 1045.7L352.4 1029.5L352.9 1034.0L353.4 1044.6L353.9 1045.3L354.4 1024.0L354.9 1045.2L355.4 1033.5L356.0 1028.5L356.5 1033.2L357.0 1010.6L357.5 1017.7L358.0 1025.2L358.5 1033.3L359.0 1021.1L359.5 1023.5L360.1 1036.1L360.6 1040.8L361.1 1032.6L361.6 1038.1L362.1 1017.6L362.6 1018.3L363.1 1025.2L363.7 1017.2L364.2 1014.2L364.7 1039.5L365.2 1016.7L365.7 1007.0L366.2 1023.8L366.7 1039.4L367.3 1017.8L367.8 1031.0L368.3 1010.3L368.8 1009.1L369.3 1006.0L369.8 1012.0L370.3 1035.2L370.8 998.5L371.4 1031.6L371.9 999.0L372.4 1007.7L372.9 1020.0L373.4 1016.9L373.9 1012.0L374.4 988.0L375.0 1011.7L375.5 994.3L376.0 1037.2L376.5 1002.8L377.0 1007.0L377.5 990.1L378.0 997.6L378.6 987.0L379.1 1014.0L379.6 998.2L380.1 1007.6L380.6 991.7L381.1 993.2L381.6 1014.4L382.2 986.1L382.7 975.3L383.2 1001.6L383.7 982.0L384.2 989.9L384.7 1005.9L385.2 984.0L385.7 1004.2L386.3 984.4L386.8 1010.4L387.3 1007.8L387.8 985.0L388.3 987.6L388.8 979.3L389.3 991.4L389.9 1002.5L390.4 969.8L390.9 998.4L391.4 970.1L391.9 975.2L392.4 963.1L392.9 1010.7L393.5 984.7L394.0 986.4L394.5 974.3L395.0 995.3L395.5 955.2L396.0 981.1L396.5 1007.5L397.0 974.6L397.6 978.9L398.1 986.4L398.6 967.2L399.1 976.9L399.6 987.9L400.1 977.6L400.6 979.0L401.2 969.2L401.7 976.8L402.2 972.7L402.7 989.5L403.2 979.5L403.7 966.5L404.2 937.9L404.8 976.8L405.3 976.4L405.8 954.4L406.3 939.8L406.8 949.6L407.3 974.7L407.8 948.5L408.3 955.1L408.9 962.7L409.4 974.4L409.9 957.5L410.4 955.4L410.9 948.6L411.4 975.2L411.9 966.9L412.5 950.9L413.0 933.1L413.5 939.7L414.0 956.1L414.5 938.2L415.0 957.8L415.5 949.8L416.1 947.7L416.6 951.2L417.1 948.0L417.6 929.4L418.1 935.0L418.6 968.3L419.1 921.2L419.7 929.6L420.2 948.4L420.7 931.3L421.2 921.7L421.7 913.9L422.2 937.0L422.7 942.2L423.2 946.0L423.8 927.3L424.3 939.1L424.8 910.7L425.3 925.2L425.8 912.9L426.3 922.9L426.8 929.4L427.4 932.4L427.9 904.2L428.4 932.8L428.9 908.8L429.4 900.4L429.9 910.7L430.4 892.7L431.0 911.2L431.5 914.1L432.0 906.7L432.5 915.6L433.0 903.5L433.5 906.9L434.0 886.8L434.5 905.7L435.1 893.0L435.6 897.4L436.1 901.3L436.6 904.2L437.1 878.7L437.6 878.9L438.1 894.8L438.7 904.2L439.2 901.7L439.7 908.0L440.2 912.5L440.7 900.8L441.2 893.0L441.7 878.5L442.3 878.9L442.8 884.5L443.3 893.6L443.8 892.1L444.3 888.4L444.8 885.5L445.3 895.3L445.9 888.9L446.4 889.3L446.9 888.8L447.4 876.5L447.9 869.2L448.4 889.2L448.9 887.5L449.4 878.2L450.0 874.9L450.5 911.0L451.0 869.1L451.5 875.9L452.0 882.0L452.5 862.1L453.0 878.9L453.6 901.3L454.1 889.1L454.6 884.5L455.1 883.5L455.6 876.5L456.1 887.6L456.6 872.0L457.2 867.9L457.7 874.6L458.2 885.2L458.7 876.9L459.2 881.2L459.7 843.8L460.2 887.4L460.7 902.7L461.3 888.5L461.8 865.4L462.3 857.7L462.8 872.7L463.3 854.9L463.8 877.9L464.3 860.3L464.9 880.2L465.4 885.3L465.9 838.2L466.4 869.7L466.9 855.6L467.4 845.4L467.9 855.9L468.5 861.0L469.0 877.9L469.5 842.4L470.0 877.5L470.5 890.5L471.0 870.6L471.5 869.6L472.1 861.7L472.6 845.4L473.1 868.7L473.6 866.4L474.1 871.0L474.6 896.1L475.1 870.5L475.6 866.1L476.2 881.6L476.7 841.2L477.2 843.8L477.7 854.2L478.2 850.1L478.7 868.5L479.2 854.3L479.8 882.6L480.3 879.3L480.8 868.7L481.3 852.5L481.8 866.2L482.3 868.7L482.8 842.5L483.4 861.9L483.9 866.7L484.4 859.8L484.9 878.4L485.4 873.3L485.9 844.9L486.4 858.0L486.9 844.6L487.5 864.1L488.0 844.0L488.5 868.8L489.0 861.4L489.5 869.5L490.0 854.1L490.5 836.1L491.1 880.9L491.6 854.3L492.1 876.0L492.6 863.2L493.1 866.8L493.6 883.2L494.1 862.9L494.7 877.9L495.2 838.4L495.7 871.3L496.2 856.3L496.7 858.1L497.2 860.5L497.7 865.5L498.2 884.0L498.8 836.0L499.3 862.6L499.8 852.6L500.3 879.0L500.8 857.6L501.3 870.2L501.8 859.0L502.4 874.1L502.9 879.4L503.4 860.6L503.9 867.3L504.4 847.7L504.9 871.9L505.4 880.0L506.0 861.2L506.5 884.8L507.0 841.6L507.5 845.2L508.0 852.1L508.5 865.1L509.0 872.5L509.6 871.8L510.1 872.5L510.6 883.9L511.1 868.2L511.6 858.0L512.1 858.9L512.6 905.2L513.1 845.0L513.7 875.3L514.2 898.2L514.7 885.6L515.2 868.4L515.7 880.4L516.2 892.8L516.7 898.1L517.3 870.3L517.8 893.5L518.3 887.4L518.8 899.6L519.3 904.3L519.8 881.6L520.3 867.4L520.9 893.1L521.4 912.5L521.9 898.5L522.4 893.1L522.9 923.1L523.4 877.5L523.9 904.4L524.4 885.3L525.0 894.4L525.5 895.6L526.0 915.4L526.5 883.2L527.0 889.3L527.5 875.7L528.0 904.2L528.6 892.2L529.1 904.5L529.6 885.1L530.1 895.2L530.6 914.4L531.1 898.7L531.6 909.9L532.2 909.1L532.7 897.8L533.2 882.2L533.7 916.7L534.2 906.3L534.7 917.6L535.2 878.1L535.8 883.3L536.3 877.3L536.8 894.6L537.3 920.6L537.8 914.7L538.3 907.2L538.8 909.9L539.3 918.7L539.9 905.1L540.4 914.8L540.9 911.9L541.4 881.6L541.9 906.0L542.4 929.6L542.9 906.9L543.5 910.8L544.0 905.2L544.5 907.4L545.0 929.2L545.5 911.5L546.0 902.1L546.5 875.3L547.1 909.4L547.6 891.7L548.1 894.4L548.6 929.6L549.1 929.2L549.6 895.4L550.1 932.5L550.6 928.2L551.2 912.7L551.7 933.4L552.2 903.3L552.7 909.7L553.2 907.5L553.7 912.6L554.2 939.5L554.8 911.5L555.3 914.7L555.8 918.2L556.3 934.0L556.8 928.0L557.3 944.5L557.8 924.9L558.4 918.3L558.9 929.4L559.4 937.3L559.9 925.7L560.4 942.2L560.9 962.9L561.4 932.8L562.0 941.8L562.5 959.5L563.0 934.5L563.5 932.8L564.0 930.5L564.5 950.5L565.0 952.8L565.5 945.1L566.1 948.4L566.6 964.9L567.1 960.5L567.6 932.2L568.1 950.7L568.6 952.9L569.1 961.5L569.7 950.1L570.2 945.4L570.7 948.5L571.2 932.4L571.7 955.4L572.2 948.8L572.7 963.0L573.3 944.8L573.8 953.0L574.3 946.9L574.8 946.7L575.3 969.9L575.8 956.0L576.3 968.5L576.8 949.7L577.4 966.1L577.9 944.7L578.4 961.1L578.9 961.9L579.4 976.7L579.9 972.8L580.4 969.5L581.0 983.4L581.5 976.4L582.0 981.9L582.5 985.9L583.0 976.7L583.5 974.9L584.0 983.7L584.6 975.5L585.1 986.5L585.6 996.4L586.1 994.2L586.6 979.7L587.1 969.4L587.6 985.4L588.1 985.4L588.7 1001.4L589.2 983.8L589.7 986.8L590.2 999.2L590.7 985.0L591.2 989.7L591.7 1013.5L592.3 1011.5L592.8 1001.7L593.3 998.0L593.8 983.6L594.3 1003.0L594.8 997.6L595.3 1000.3L595.9 992.0L596.4 998.8L596.9 997.4L597.4 1004.1L597.9 1018.3L598.4 1005.9L598.9 982.0L599.5 990.9L600.0 984.0L600.5 994.2L601.0 1011.1L601.5 1009.7L602.0 998.1L602.5 1009.0L603.0 997.1L603.6 989.5L604.1 990.0L604.6 997.0L605.1 1024.9L605.6 991.9L606.1 1023.5L606.6 1024.8L607.2 1006.9L607.7 1008.8L608.2 1002.3L608.7 1009.7L609.2 1018.2L609.7 1010.6L610.2 1022.8L610.8 1025.3L611.3 1015.4L611.8 1015.4L612.3 1011.0L612.8 1016.1L613.3 998.8L613.8 1017.3L614.3 1015.1L614.9 1002.5L615.4 1038.9L615.9 1001.6L616.4 1003.0L616.9 1017.0L617.4 990.6L617.9 1004.6L618.5 996.0L619.0 1002.9L619.5 1013.1L620.0 1018.8L620.5 1028.4L621.0 1025.1L621.5 1029.8L622.1 1022.9L622.6 1010.5L623.1 1029.7L623.6 1010.7L624.1 1009.5L624.6 1035.4L625.1 1026.8L625.7 1020.2L626.2 1026.9L626.7 1028.7L627.2 1002.2L627.7 1017.6L628.2 1004.9L628.7 1020.8L629.2 1011.6L629.8 1036.1L630.3 1026.4L630.8 1010.8L631.3 1020.6L631.8 1006.7L632.3 1021.9L632.8 1028.2L633.4 1025.1L633.9 999.3L634.4 1018.6L634.9 1029.0L635.4 1026.9L635.9 1037.3L636.4 1008.6L637.0 1030.4L637.5 1016.7L638.0 1027.1L638.5 1029.9L639.0 1033.5L639.5 1018.9L640.0 1028.2L640.5 1012.5L641.1 1009.9L641.6 1033.5L642.1 1026.6L642.6 1008.3L643.1 1017.8L643.6 1028.4L644.1 1046.8L644.7 1041.1L645.2 1038.5L645.7 1008.2L646.2 1028.5L646.7 1035.5L647.2 1034.8L647.7 1035.4L648.3 1028.0L648.8 1051.8L649.3 1048.7L649.8 1030.5L650.3 1020.3L650.8 1056.4L651.3 1025.9L651.9 1046.8L652.4 1055.5L652.9 1022.2L653.4 1037.0L653.9 1029.8L654.4 1040.2L654.9 1038.2L655.4 1057.6L656.0 1041.9L656.5 1035.1L657.0 1048.8L657.5 1032.6L658.0 1031.8L658.5 1062.7L659.0 1027.0L659.6 1031.2L660.1 1037.8L660.6 1025.1L661.1 1013.1L661.6 1050.5L662.1 1029.2L662.6 1032.4L663.2 1034.6L663.7 1027.8L664.2 1027.0L664.7 1041.8L665.2 1068.3L665.7 1049.2L666.2 1049.6L666.7 1023.6L667.3 1041.3L667.8 1028.1L668.3 1051.2L668.8 1039.9L669.3 1043.3L669.8 1042.2L670.3 1036.8L670.9 1026.2L671.4 1051.0L671.9 1028.5L672.4 1031.2L672.9 1041.8L673.4 1037.4L673.9 1049.0L674.5 1058.1L675.0 1049.6L675.5 1049.3L676.0 1047.6L676.5 1057.7L677.0 1026.6L677.5 1052.6L678.0 1037.9L678.6 1034.7L679.1 1049.4L679.6 1045.2L680.1 1056.7L680.6 1063.0L681.1 1023.7L681.6 1050.1L682.2 1073.8L682.7 1061.5L683.2 1068.5L683.7 1053.2L684.2 1035.8L684.7 1039.6L685.2 1061.1L685.8 1064.2L686.3 1044.9L686.8 1050.5L687.3 1056.9L687.8 1034.0L688.3 1050.4L688.8 1073.3L689.4 1080.1L689.9 1053.9L690.4 1076.5L690.9 1049.6L691.4 1046.6L691.9 1030.4L692.4 1067.3L692.9 1052.3L693.5 1083.7L694.0 1060.8L694.5 1059.4L695.0 1036.8L695.5 1074.9L696.0 1053.8L696.5 1056.3L697.1 1033.1L697.6 1069.2L698.1 1070.1L698.6 1052.1L699.1 1060.3L699.6 1063.9L700.1 1070.6L700.7 1061.0L701.2 1079.7L701.7 1057.4L702.2 1053.4L702.7 1055.2L703.2 1031.7L703.7 1051.7L704.2 1072.6L704.8 1064.3L705.3 1052.0L705.8 1065.6L706.3 1038.7L706.8 1058.6L707.3 1068.0L707.8 1070.2L708.4 1053.5L708.9 1072.9L709.4 1084.0L709.9 1057.9L710.4 1071.4L710.9 1045.4L711.4 1040.9L712.0 1070.4L712.5 1064.0L713.0 1066.0L713.5 1057.2L714.0 1060.6L714.5 1073.4L715.0 1083.8L715.6 1061.9L716.1 1045.8L716.6 1079.2L717.1 1071.7L717.6 1072.7L718.1 1067.2L718.6 1091.7L719.1 1066.3L719.7 1071.4L720.2 1044.6L720.7 1059.2L721.2 1058.2L721.7 1065.8L722.2 1070.2L722.7 1057.9L723.3 1086.2L723.8 1054.6L724.3 1061.8L724.8 1069.8L725.3 1053.0L725.8 1073.9L726.3 1074.8L726.9 1064.4L727.4 1089.6L727.9 1069.0L728.4 1071.5L728.9 1057.6L729.4 1049.7L729.9 1061.7L730.4 1065.4L731.0 1064.1L731.5 1078.1L732.0 1042.6L732.5 1056.9L733.0 1049.3L733.5 1085.3L734.0 1063.9L734.6 1064.6L735.1 1058.2L735.6 1080.9L736.1 1066.3L736.6 1073.6L737.1 1048.2L737.6 1084.6L738.2 1076.0L738.7 1077.9L739.2 1085.7L739.7 1069.7L740.2 1070.1L740.7 1080.2L741.2 1077.0L741.8 1069.5L742.3 1072.8L742.8 1066.7L743.3 1080.5L743.8 1083.0L744.3 1072.6L744.8 1093.8L745.3 1055.2L745.9 1070.0L746.4 1092.0L746.9 1067.9L747.4 1054.7L747.9 1088.5L748.4 1078.9L748.9 1059.3L749.5 1081.6L750.0 1061.3L750.5 1057.7L751.0 1071.2L751.5 1067.5L752.0 1060.5L752.5 1068.8L753.1 1061.6L753.6 1073.6L754.1 1072.7L754.6 1081.4L755.1 1067.9L755.6 1058.0L756.1 1058.2L756.6 1070.3L757.2 1090.5L757.7 1082.7L758.2 1065.9L758.7 1083.9L759.2 1060.2L759.7 1084.8L760.2 1069.0L760.8 1082.1L761.3 1080.5L761.8 1070.4L762.3 1077.4L762.8 1061.8L763.3 1073.3L763.8 1086.6L764.4 1120.9L764.9 1083.0L765.4 1076.4L765.9 1064.3L766.4 1088.1L766.9 1057.8L767.4 1067.8L767.9 1081.3L768.5 1064.0L769.0 1095.2L769.5 1090.5L770.0 1072.1L770.5 1072.5L771.0 1064.2L771.5 1063.5L772.1 1084.4L772.6 1086.7L773.1 1083.9L773.6 1083.2L774.1 1074.2L774.6 1084.7L775.1 1064.4L775.7 1081.3L776.2 1097.9L776.7 1096.5L777.2 1076.7L777.7 1078.4L778.2 1097.8L778.7 1102.6L779.3 1066.1L779.8 1078.3L780.3 1085.9L780.8 1097.1L781.3 1074.4L781.8 1091.1L782.3 1080.8L782.8 1110.9L783.4 1089.4L783.9 1083.3L784.4 1081.3L784.9 1097.0L785.4 1093.0L785.9 1073.6L786.4 1088.3L787.0 1071.1L787.5 1077.8L788.0 1072.0L788.5 1071.9L789.0 1079.2L789.5 1076.1L790.0 1093.1L790.6 1096.3L791.1 1085.0L791.6 1075.4L792.1 1096.9L792.6 1065.7L793.1 1066.9L793.6 1096.6L794.1 1096.0L794.7 1099.7L795.2 1086.7L795.7 1075.2L796.2 1083.7L796.7 1095.9L797.2 1081.2L797.7 1082.1L798.3 1074.6L798.8 1077.3L799.3 1099.7L799.8 1095.5L800.3 1077.8L800.8 1078.8L801.3 1084.7L801.9 1097.2L802.4 1078.3L802.9 1089.5L803.4 1067.8L803.9 1077.7L804.4 1096.4L804.9 1101.9L805.5 1079.3L806.0 1083.6L806.5 1101.1L807.0 1088.1L807.5 1086.6L808.0 1098.4L808.5 1095.0L809.0 1105.2L809.6 1101.8L810.1 1086.8L810.6 1092.0L811.1 1092.8L811.6 1078.6L812.1 1082.9L812.6 1104.5L813.2 1076.4L813.7 1105.0L814.2 1097.3L814.7 1092.7L815.2 1100.3L815.7 1099.7L816.2 1107.9L816.8 1090.3L817.3 1092.3L817.8 1092.2L818.3 1115.7L818.8 1105.5L819.3 1085.0L819.8 1091.7L820.3 1087.7L820.9 1095.7L821.4 1098.0L821.9 1121.0L822.4 1075.8L822.9 1107.3L823.4 1100.9L823.9 1088.5L824.5 1094.6L825.0 1090.9L825.5 1097.1L826.0 1107.7L826.5 1080.0L827.0 1111.3L827.5 1092.8L828.1 1113.6L828.6 1101.7L829.1 1110.8L829.6 1103.6L830.1 1109.4L830.6 1098.2L831.1 1088.6L831.7 1105.2L832.2 1105.7L832.7 1121.1L833.2 1076.2L833.7 1096.1L834.2 1110.0L834.7 1084.7L835.2 1096.1L835.8 1121.9L836.3 1114.3L836.8 1089.2L837.3 1114.6L837.8 1112.0L838.3 1107.7L838.8 1103.4L839.4 1102.0L839.9 1090.0L840.4 1093.9L840.9 1107.7L841.4 1101.3L841.9 1120.1L842.4 1096.3L843.0 1073.8L843.5 1096.5L844.0 1103.3L844.5 1104.5L845.0 1101.2L845.5 1091.6L846.0 1117.0L846.5 1093.5L847.1 1108.6L847.6 1097.8L848.1 1088.0L848.6 1116.6L849.1 1073.9L849.6 1092.1L850.1 1106.2L850.7 1097.7L851.2 1109.8L851.7 1100.7L852.2 1096.9L852.7 1125.5L853.2 1099.7L853.7 1100.4L854.3 1090.5L854.8 1094.2L855.3 1109.5L855.8 1108.7L856.3 1102.7L856.8 1095.2L857.3 1110.4L857.8 1084.5L858.4 1099.4L858.9 1100.5L859.4 1094.1L859.9 1105.1L860.4 1096.3L860.9 1095.0L861.4 1123.4L862.0 1112.0L862.5 1117.1L863.0 1104.7L863.5 1114.8L864.0 1112.9L864.5 1117.7L865.0 1130.4L865.6 1102.4L866.1 1107.8L866.6 1104.6L867.1 1067.1L867.6 1090.2L868.1 1105.7L868.6 1112.5L869.2 1099.6L869.7 1118.3L870.2 1120.0L870.7 1101.8L871.2 1121.8L871.7 1125.5L872.2 1111.7L872.7 1096.2L873.3 1122.9L873.8 1105.4L874.3 1103.2L874.8 1108.7L875.3 1101.8L875.8 1119.3L876.3 1116.3L876.9 1121.2L877.4 1114.4L877.9 1099.7L878.4 1106.7L878.9 1118.0L879.4 1104.3L879.9 1140.4L880.5 1106.4L881.0 1102.8L881.5 1121.6L882.0 1117.4L882.5 1109.2L883.0 1107.1L883.5 1114.3L884.0 1118.9L884.6 1118.2L885.1 1106.8L885.6 1114.9L886.1 1119.4L886.6 1118.7L887.1 1077.3L887.6 1101.0L888.2 1102.4L888.7 1108.3L889.2 1112.8L889.7 1120.9L890.2 1117.7L890.7 1109.8L891.2 1111.5L891.8 1130.3L892.3 1104.8L892.8 1114.8L893.3 1128.4L893.8 1115.4L894.3 1089.8L894.8 1115.9L895.4 1107.7L895.9 1110.8L896.4 1123.4L896.9 1117.2L897.4 1109.4L897.9 1121.9L898.4 1117.0L898.9 1113.6L899.5 1115.7L900.0 1115.3L900.5 1109.0L901.0 1107.8L901.5 1113.0L902.0 1102.6L902.5 1099.4L903.1 1126.9L903.6 1110.5L904.1 1112.8L904.6 1111.7L905.1 1113.5L905.6 1113.5L906.1 1114.1L906.7 1104.8L907.2 1123.5L907.7 1106.1L908.2 1124.7L908.7 1093.1L909.2 1102.3L909.7 1124.4L910.2 1112.3L910.8 1106.7L911.3 1118.0L911.8 1102.8L912.3 1114.9L912.8 1090.4L913.3 1109.3L913.8 1107.3L914.4 1120.1L914.9 1123.8L915.4 1105.3L915.9 1131.7L916.4 1108.2L916.9 1092.6L917.4 1089.2L918.0 1131.2L918.5 1113.8L919.0 1107.9L919.5 1106.9L920.0 1103.2L920.5 1129.5L921.0 1114.2L921.6 1134.3L922.1 1113.0L922.6 1090.1L923.1 1124.3L923.6 1111.4L924.1 1112.9L924.6 1132.2L925.1 1112.7L925.7 1128.0L926.2 1115.6L926.7 1107.6L927.2 1121.2L927.7 1109.4L928.2 1129.0L928.7 1126.2L929.3 1116.6L929.8 1122.5L930.3 1122.1L930.8 1113.2L931.3 1125.8L931.8 1113.8L932.3 1122.9L932.9 1106.2L933.4 1117.5L933.9 1120.9L934.4 1108.1L934.9 1112.1L935.4 1110.9L935.9 1124.5L936.4 1109.1L937.0 1121.5L937.5 1133.2L938.0 1120.7L938.5 1099.7L939.0 1118.4L939.5 1128.2L940.0 1114.1L940.6 1129.0L941.1 1123.8L941.6 1121.8L942.1 1114.5L942.6 1111.9L943.1 1114.7L943.6 1118.2L944.2 1123.1L944.7 1122.1L945.2 1114.4L945.7 1118.4L946.2 1121.9L946.7 1100.4L947.2 1109.6L947.7 1109.3L948.3 1115.7L948.8 1115.0L949.3 1115.2L949.8 1108.7L950.3 1125.2L950.8 1121.1L951.3 1100.6L951.9 1118.3L952.4 1106.2L952.9 1136.4L953.4 1113.4L953.9 1114.1L954.4 1119.3L954.9 1116.3L955.5 1117.8L956.0 1135.0L956.5 1120.9L957.0 1127.5L957.5 1130.6L958.0 1108.3L958.5 1136.7L959.1 1126.1L959.6 1129.0L960.1 1109.6L960.6 1127.6L961.1 1123.3L961.6 1113.2L962.1 1143.3L962.6 1125.0L963.2 1116.5L963.7 1121.1L964.2 1128.8L964.7 1131.2L965.2 1125.4L965.7 1132.2L966.2 1134.9L966.8 1106.1L967.3 1114.2L967.8 1109.4L968.3 1120.4L968.8 1134.8L969.3 1126.4L969.8 1108.4L970.4 1116.4L970.9 1130.5L971.4 1114.0L971.9 1118.6L972.4 1122.9L972.9 1100.3L973.4 1128.1L973.9 1123.4L974.5 1125.9L975.0 1109.4L975.5 1111.7L976.0 1113.6L976.5 1122.6L977.0 1120.7L977.5 1121.4L978.1 1139.1L978.6 1134.0L979.1 1112.5L979.6 1113.2L980.1 1138.4L980.6 1116.8L981.1 1134.9L981.7 1137.3L982.2 1114.5L982.7 1117.5L983.2 1121.2L983.7 1111.2L984.2 1110.0L984.7 1116.2L985.3 1129.5L985.8 1115.7L986.3 1118.3L986.8 1115.6L987.3 1106.1L987.8 1136.4L988.3 1095.7L988.8 1113.7L989.4 1126.6L989.9 1105.9L990.4 1127.2L990.9 1134.1L991.4 1111.6L991.9 1123.0L992.4 1109.0L993.0 1126.2L993.5 1121.8L994.0 1123.2L994.5 1135.4L995.0 1125.9L995.5 1135.2L996.0 1127.7L996.6 1108.2L997.1 1123.8L997.6 1126.2L998.1 1105.6L998.6 1135.2L999.1 1121.8L999.6 1125.0L1000.1 1111.5L1000.7 1121.9L1001.2 1124.3L1001.7 1117.6L1002.2 1122.0L1002.7 1098.6L1003.2 1135.6L1003.7 1109.3L1004.3 1098.0L1004.8 1111.0L1005.3 1112.3L1005.8 1126.9L1006.3 1111.5L1006.8 1124.2L1007.3 1111.0L1007.9 1144.6L1008.4 1127.0L1008.9 1142.0L1009.4 1110.4L1009.9 1128.2L1010.4 1111.0L1010.9 1127.3L1011.5 1128.4L1012.0 1104.2L1012.5 1109.1L1013.0 1108.8L1013.5 1105.2L1014.0 1113.4L1014.5 1111.0L1015.0 1105.8L1015.6 1122.2L1016.1 1126.9L1016.6 1107.2L1017.1 1115.2L1017.6 1121.2L1018.1 1118.6L1018.6 1113.7L1019.2 1129.7L1019.7 1130.1L1020.2 1128.3L1020.7 1118.8L1021.2 1142.2L1021.7 1139.5L1022.2 1116.8L1022.8 1119.7L1023.3 1133.6L1023.8 1112.5L1024.3 1125.2L1024.8 1121.5L1025.3 1113.5L1025.8 1118.5L1026.3 1104.2L1026.9 1115.2L1027.4 1099.7L1027.9 1145.1L1028.4 1136.9L1028.9 1133.9L1029.4 1124.1L1029.9 1131.5L1030.5 1134.4L1031.0 1131.6L1031.5 1130.6L1032.0 1111.1L1032.5 1125.3L1033.0 1115.1L1033.5 1108.2L1034.1 1108.6L1034.6 1125.3L1035.1 1131.9L1035.6 1106.2L1036.1 1139.2L1036.6 1136.3L1037.1 1116.6L1037.6 1115.7L1038.2 1119.8L1038.7 1131.0L1039.2 1116.5L1039.7 1108.8L1040.2 1124.2L1040.7 1098.6L1041.2 1122.0L1041.8 1132.8L1042.3 1123.7L1042.8 1128.8L1043.3 1125.7L1043.8 1128.2L1044.3 1122.0L1044.8 1111.6L1045.4 1118.0L1045.9 1119.6L1046.4 1133.8L1046.9 1137.7L1047.4 1124.8L1047.9 1112.3L1048.4 1112.6L1049.0 1118.3L1049.5 1135.1L1050.0 1123.9L1050.5 1119.7L1051.0 1112.1L1051.5 1129.6L1052.0 1123.3L1052.5 1119.7L1053.1 1121.3L1053.6 1138.2L1054.1 1118.5L1054.6 1138.2L1055.1 1133.4L1055.6 1120.7L1056.1 1129.6L1056.7 1118.8L1057.2 1111.3L1057.7 1117.3L1058.2 1110.5L1058.7 1125.6L1059.2 1120.3L1059.7 1126.1L1060.3 1128.9L1060.8 1086.9L1061.3 1123.4L1061.8 1100.9L1062.3 1121.8L1062.8 1110.7L1063.3 1121.2L1063.8 1134.6L1064.4 1101.9L1064.9 1122.1L1065.4 1119.2L1065.9 1099.9L1066.4 1126.9L1066.9 1120.4L1067.4 1114.6L1068.0 1112.3L1068.5 1154.2L1069.0 1115.8L1069.5 1100.8L1070.0 1110.1L1070.5 1116.1L1071.0 1115.9L1071.6 1119.2L1072.1 1108.9L1072.6 1125.8L1073.1 1114.9L1073.6 1105.5L1074.1 1111.3L1074.6 1115.9L1075.2 1129.0L1075.7 1125.2L1076.2 1116.4L1076.7 1120.2L1077.2 1122.3L1077.7 1141.7L1078.2 1113.4L1078.7 1125.0L1079.3 1127.7L1079.8 1109.9L1080.3 1122.0L1080.8 1121.8L1081.3 1115.0L1081.8 1126.1L1082.3 1131.0L1082.9 1132.1L1083.4 1118.0L1083.9 1122.1L1084.4 1145.1L1084.9 1108.3L1085.4 1122.4L1085.9 1129.5L1086.5 1121.7L1087.0 1127.1L1087.5 1121.9L1088.0 1128.1L1088.5 1133.7L1089.0 1117.7L1089.5 1122.2L1090.0 1119.5L1090.6 1115.8L1091.1 1119.9L1091.6 1108.1L1092.1 1128.1L1092.6 1138.3L1093.1 1138.3L1093.6 1133.7L1094.2 1109.9L1094.7 1136.3L1095.2 1112.6L1095.7 1119.6L1096.2 1139.8L1096.7 1108.8L1097.2 1129.2L1097.8 1123.2L1098.3 1118.6L1098.8 1110.9L1099.3 1124.7L1099.8 1115.3L1100.3 1131.4L1100.8 1133.3L1101.4 1105.6L1101.9 1114.9L1102.4 1116.9L1102.9 1107.7L1103.4 1108.4L1103.9 1121.3L1104.4 1118.1L1104.9 1102.8L1105.5 1114.6L1106.0 1125.9L1106.5 1107.6L1107.0 1110.6L1107.5 1137.3L1108.0 1134.4L1108.5 1103.2L1109.1 1106.1L1109.6 1124.5L1110.1 1107.8L1110.6 1117.8L1111.1 1115.7L1111.6 1126.5L1112.1 1093.6L1112.7 1097.1L1113.2 1107.5L1113.7 1131.3L1114.2 1118.9L1114.7 1102.4L1115.2 1125.8L1115.7 1128.1L1116.2 1118.0L1116.8 1117.1L1117.3 1125.3L1117.8 1133.5L1118.3 1122.3L1118.8 1126.3L1119.3 1120.2L1119.8 1116.6L1120.4 1111.0L1120.9 1123.4L1121.4 1117.5L1121.9 1118.2L1122.4 1130.6L1122.9 1126.0L1123.4 1130.0L1124.0 1104.1L1124.5 1126.8L1125.0 1114.6L1125.5 1112.3L1126.0 1111.8L1126.5 1133.7L1127.0 1129.7L1127.5 1113.3L1128.1 1108.8L1128.6 1121.1L1129.1 1116.1L1129.6 1138.6L1130.1 1105.4L1130.6 1101.5L1131.1 1118.3L1131.7 1121.1L1132.2 1122.4L1132.7 1129.1L1133.2 1143.1L1133.7 1117.4L1134.2 1115.3L1134.7 1102.4L1135.3 1123.7L1135.8 1130.2L1136.3 1118.4L1136.8 1133.8L1137.3 1121.6L1137.8 1137.4L1138.3 1124.8L1138.9 1110.1L1139.4 1114.6L1139.9 1105.1L1140.4 1103.0L1140.9 1124.3L1141.4 1130.7L1141.9 1142.2L1142.4 1120.9L1143.0 1119.0L1143.5 1109.8L1144.0 1132.1L1144.5 1125.8L1145.0 1115.4L1145.5 1129.0L1146.0 1127.7L1146.6 1102.0L1147.1 1129.7L1147.6 1123.3L1148.1 1117.8L1148.6 1117.5L1149.1 1140.6L1149.6 1138.3L1150.2 1141.5L1150.7 1109.9L1151.2 1115.2L1151.7 1131.8L1152.2 1109.4L1152.7 1114.7L1153.2 1103.2L1153.7 1142.0L1154.3 1133.7L1154.8 1127.3L1155.3 1124.8L1155.8 1118.1L1156.3 1118.4L1156.8 1129.2L1157.3 1115.2L1157.9 1135.8L1158.4 1117.6L1158.9 1113.6L1159.4 1136.7L1159.9 1121.4L1160.4 1128.9L1160.9 1118.7L1161.5 1099.3L1162.0 1128.9L1162.5 1108.9L1163.0 1134.7L1163.5 1106.9L1164.0 1103.6L1164.5 1126.7L1165.1 1128.0L1165.6 1124.6L1166.1 1110.7L1166.6 1133.0L1167.1 1108.1L1167.6 1118.8L1168.1 1115.4L1168.6 1119.8L1169.2 1132.9L1169.7 1117.2L1170.2 1129.9L1170.7 1131.4L1171.2 1105.9L1171.7 1111.8L1172.2 1120.1L1172.8 1117.9L1173.3 1127.5L1173.8 1103.9L1174.3 1132.0L1174.8 1132.3L1175.3 1122.7L1175.8 1109.9L1176.4 1124.6L1176.9 1118.9L1177.4 1130.7L1177.9 1123.8L1178.4 1132.5L1178.9 1120.2L1179.4 1140.1L1179.9 1100.5L1180.5 1114.2L1181.0 1130.2L1181.5 1109.1L1182.0 1132.9L1182.5 1112.3L1183.0 1126.2L1183.5 1115.6L1184.1 1120.6L1184.6 1127.2L1185.1 1124.3L1185.6 1121.4L1186.1 1148.2L1186.6 1125.6L1187.1 1115.3L1187.7 1135.4L1188.2 1134.3L1188.7 1138.6L1189.2 1144.6L1189.7 1115.8L1190.2 1137.0L1190.7 1137.9L1191.3 1125.9L1191.8 1128.5L1192.3 1094.3L1192.8 1119.9L1193.3 1144.9L1193.8 1107.2L1194.3 1120.5L1194.8 1129.2L1195.4 1132.3L1195.9 1143.4L1196.4 1107.7L1196.9 1126.8L1197.4 1135.4L1197.9 1112.5L1198.4 1126.0L1199.0 1146.3L1199.5 1140.4L1200.0 1132.2L1200.5 1099.0L1201.0 1125.2L1201.5 1130.7L1202.0 1123.4L1202.6 1126.0L1203.1 1159.3L1203.6 1124.6L1204.1 1116.6L1204.6 1129.5L1205.1 1123.6L1205.6 1123.7L1206.1 1126.1L1206.7 1135.2L1207.2 1129.6L1207.7 1114.5L1208.2 1125.8L1208.7 1132.2L1209.2 1122.3L1209.7 1139.4L1210.3 1135.5L1210.8 1116.9L1211.3 1130.8L1211.8 1148.3L1212.3 1143.9L1212.8 1126.9L1213.3 1137.0L1213.9 1120.5L1214.4 1112.4L1214.9 1133.5L1215.4 1130.3L1215.9 1133.2L1216.4 1127.5L1216.9 1131.3L1217.4 1122.5L1218.0 1132.9L1218.5 1136.7L1219.0 1127.4L1219.5 1136.6L1220.0 1109.4L1220.5 1119.8L1221.0 1143.3L1221.6 1146.7L1222.1 1130.8L1222.6 1127.2L1223.1 1114.9L1223.6 1132.1L1224.1 1136.5L1224.6 1112.8L1225.2 1134.3L1225.7 1133.6L1226.2 1133.1L1226.7 1116.7L1227.2 1134.3L1227.7 1112.8L1228.2 1144.3L1228.8 1130.1L1229.3 1116.5L1229.8 1142.9L1230.3 1140.9L1230.8 1122.0L1231.3 1152.0L1231.8 1118.3L1232.3 1132.2L1232.9 1141.4L1233.4 1105.1L1233.9 1139.5L1234.4 1128.4L1234.9 1128.9L1235.4 1117.8L1235.9 1132.6L1236.5 1117.5L1237.0 1119.0L1237.5 1124.5L1238.0 1116.4L1238.5 1145.8L1239.0 1115.4L1239.5 1121.4L1240.1 1126.1L1240.6 1129.5L1241.1 1137.8L1241.6 1138.1L1242.1 1126.3L1242.6 1125.5L1243.1 1129.9L1243.6 1138.2L1244.2 1136.9L1244.7 1124.2L1245.2 1108.0L1245.7 1152.2L1246.2 1139.7L1246.7 1132.5L1247.2 1133.4L1247.8 1124.3L1248.3 1119.3L1248.8 1126.4L1249.3 1127.5L1249.8 1123.3L1250.3 1114.6L1250.8 1126.7L1251.4 1136.0L1251.9 1124.8L1252.4 1130.3L1252.9 1108.3L1253.4 1127.9L1253.9 1128.8L1254.4 1117.2L1255.0 1112.0L1255.5 1134.5L1256.0 1121.7L1256.5 1135.3L1257.0 1125.8L1257.5 1136.8L1258.0 1126.7L1258.5 1114.5L1259.1 1129.4L1259.6 1126.9L1260.1 1137.2L1260.6 1125.6L1261.1 1126.2L1261.6 1139.4L1262.1 1142.6L1262.7 1138.4L1263.2 1141.3L1263.7 1135.2L1264.2 1138.6L1264.7 1139.7L1265.2 1134.7L1265.7 1131.2L1266.3 1132.0L1266.8 1155.8L1267.3 1130.7L1267.8 1128.1L1268.3 1126.8L1268.8 1130.3L1269.3 1133.2L1269.8 1118.8L1270.4 1109.9L1270.9 1133.8L1271.4 1113.9L1271.9 1133.4L1272.4 1132.2L1272.9 1142.8L1273.4 1148.3L1274.0 1134.6L1274.5 1125.0L1275.0 1118.5L1275.5 1122.5L1276.0 1131.3L1276.5 1109.1L1277.0 1131.6L1277.6 1130.7L1278.1 1137.6L1278.6 1127.4L1279.1 1132.0L1279.6 1123.2L1280.1 1126.1L1280.6 1112.4L1281.2 1132.3L1281.7 1147.2L1282.2 1132.7L1282.7 1134.9L1283.2 1120.7L1283.7 1146.0L1284.2 1123.0L1284.7 1139.5L1285.3 1132.2L1285.8 1121.0L1286.3 1141.9L1286.8 1131.3L1287.3 1133.0L1287.8 1135.9L1288.3 1130.9L1288.9 1127.2L1289.4 1136.1L1289.9 1127.0L1290.4 1131.9L1290.9 1124.2L1291.4 1115.6L1291.9 1124.2L1292.5 1126.1L1293.0 1131.5L1293.5 1143.7L1294.0 1113.6L1294.5 1132.7L1295.0 1108.2L1295.5 1120.4L1296.0 1126.1L1296.6 1107.8L1297.1 1111.9L1297.6 1133.0L1298.1 1132.3L1298.6 1130.3L1299.1 1123.1L1299.6 1154.1L1300.2 1129.8L1300.7 1122.5L1301.2 1149.1L1301.7 1138.0L1302.2 1127.7L1302.7 1144.1L1303.2 1133.3L1303.8 1138.4L1304.3 1134.1L1304.8 1120.9L1305.3 1141.9L1305.8 1133.4L1306.3 1121.1L1306.8 1123.7L1307.3 1141.8L1307.9 1127.9L1308.4 1132.3L1308.9 1138.7L1309.4 1133.2L1309.9 1115.9L1310.4 1138.6L1310.9 1141.7L1311.5 1141.0L1312.0 1148.9L1312.5 1135.8L1313.0 1140.1L1313.5 1148.6L1314.0 1129.0L1314.5 1150.2L1315.1 1150.2L1315.6 1140.3L1316.1 1151.4L1316.6 1141.1L1317.1 1122.9L1317.6 1144.1L1318.1 1135.6L1318.7 1136.6L1319.2 1133.9L1319.7 1146.5L1320.2 1138.1L1320.7 1125.1L1321.2 1137.5L1321.7 1140.0L1322.2 1124.8L1322.8 1127.9L1323.3 1128.5L1323.8 1126.2L1324.3 1136.2L1324.8 1143.2L1325.3 1152.4L1325.8 1145.1L1326.4 1143.4L1326.9 1144.7L1327.4 1146.7L1327.9 1128.8L1328.4 1140.0L1328.9 1136.2L1329.4 1131.5L1330.0 1128.1L1330.5 1127.6L1331.0 1130.2L1331.5 1120.1L1332.0 1138.5L1332.5 1132.8L1333.0 1134.2L1333.5 1136.7L1334.1 1140.7L1334.6 1127.0L1335.1 1132.1L1335.6 1116.4L1336.1 1110.1L1336.6 1113.0L1337.1 1149.4L1337.7 1114.3L1338.2 1138.4L1338.7 1148.9L1339.2 1128.7L1339.7 1150.6L1340.2 1152.9L1340.7 1143.5L1341.3 1158.4L1341.8 1140.2L1342.3 1126.1L1342.8 1139.2L1343.3 1129.2L1343.8 1120.2L1344.3 1120.5L1344.9 1158.1L1345.4 1128.3L1345.9 1133.7L1346.4 1127.1L1346.9 1135.5L1347.4 1131.6L1347.9 1129.9L1348.4 1121.5L1349.0 1119.5L1349.5 1126.5L1350.0 1137.4L1350.5 1156.0L1351.0 1145.4L1351.5 1153.5L1352.0 1139.5L1352.6 1133.6L1353.1 1120.7L1353.6 1134.6L1354.1 1112.2L1354.6 1131.5L1355.1 1151.7L1355.6 1138.1L1356.2 1146.5L1356.7 1130.8L1357.2 1120.5L1357.7 1129.9L1358.2 1130.7L1358.7 1147.5L1359.2 1155.6L1359.7 1127.3L1360.3 1131.3L1360.8 1133.5L1361.3 1131.4L1361.8 1122.1L1362.3 1136.1L1362.8 1138.9L1363.3 1139.2L1363.9 1122.6L1364.4 1134.1L1364.9 1117.1L1365.4 1144.8L1365.9 1124.7L1366.4 1132.5L1366.9 1130.7L1367.5 1129.3L1368.0 1124.4L1368.5 1117.0L1369.0 1153.5L1369.5 1138.2L1370.0 1138.3L1370.5 1157.4L1371.1 1134.5L1371.6 1141.4L1372.1 1135.9L1372.6 1148.0L1373.1 1140.9L1373.6 1139.0L1374.1 1133.1L1374.6 1138.7L1375.2 1147.9L1375.7 1114.2L1376.2 1134.5L1376.7 1131.5L1377.2 1132.8L1377.7 1115.3L1378.2 1143.6L1378.8 1127.2L1379.3 1133.6L1379.8 1130.8L1380.3 1118.6L1380.8 1131.4L1381.3 1116.9L1381.8 1126.3L1382.4 1132.8L1382.9 1136.1L1383.4 1136.8L1383.9 1134.8L1384.4 1158.5L1384.9 1140.8L1385.4 1123.6L1385.9 1129.9L1386.5 1129.5L1387.0 1134.5L1387.5 1130.1L1388.0 1127.5L1388.5 1153.6L1389.0 1136.9L1389.5 1133.0L1390.1 1133.9L1390.6 1134.3L1391.1 1151.0L1391.6 1141.5L1392.1 1148.3L1392.6 1104.1L1393.1 1140.0L1393.7 1147.7L1394.2 1157.2L1394.7 1137.0L1395.2 1118.9L1395.7 1142.9L1396.2 1130.5L1396.7 1118.2L1397.2 1130.4L1397.8 1147.8L1398.3 1149.4L1398.8 1144.4L1399.3 1126.0L1399.8 1163.1L1400.3 1124.8L1400.8 1136.2L1401.4 1122.0L1401.9 1150.8L1402.4 1141.7L1402.9 1146.3L1403.4 1138.1L1403.9 1136.4L1404.4 1139.0L1405.0 1117.5L1405.5 1147.6L1406.0 1146.7L1406.5 1133.2L1407.0 1137.2L1407.5 1140.4L1408.0 1153.7L1408.6 1141.9L1409.1 1137.8L1409.6 1132.1L1410.1 1121.8L1410.6 1131.3L1411.1 1138.2L1411.6 1134.9L1412.1 1138.3L1412.7 1145.3L1413.2 1142.1L1413.7 1140.5L1414.2 1144.4L1414.7 1139.6L1415.2 1137.3L1415.7 1142.6L1416.3 1119.7L1416.8 1150.8L1417.3 1124.3L1417.8 1146.5L1418.3 1137.9L1418.8 1149.3L1419.3 1138.2L1419.9 1128.0L1420.4 1149.0L1420.9 1139.8L1421.4 1139.1L1421.9 1138.8L1422.4 1148.4L1422.9 1146.5L1423.4 1140.4L1424.0 1121.9L1424.5 1133.8L1425.0 1139.1L1425.5 1156.7L1426.0 1142.1L1426.5 1137.1L1427.0 1150.6L1427.6 1137.0L1428.1 1137.9L1428.6 1139.8L1429.1 1122.6L1429.6 1148.2L1430.1 1142.6L1430.6 1135.3L1431.2 1126.4L1431.7 1140.5L1432.2 1152.8L1432.7 1131.6L1433.2 1127.3L1433.7 1142.7L1434.2 1121.7L1434.8 1115.3L1435.3 1133.7L1435.8 1131.2L1436.3 1135.5L1436.8 1132.7L1437.3 1141.9L1437.8 1136.1L1438.3 1132.2L1438.9 1133.7L1439.4 1145.0L1439.9 1148.4L1440.4 1147.9L1440.9 1145.7L1441.4 1104.2L1441.9 1128.1L1442.5 1135.2L1443.0 1140.7L1443.5 1121.7L1444.0 1153.3L1444.5 1141.7L1445.0 1132.1L1445.5 1140.3L1446.1 1135.0L1446.6 1130.7L1447.1 1143.8L1447.6 1133.9L1448.1 1123.9L1448.6 1132.0L1449.1 1137.4L1449.6 1127.4L1450.2 1151.7L1450.7 1127.3L1451.2 1156.9L1451.7 1147.9L1452.2 1128.9L1452.7 1140.0L1453.2 1150.9L1453.8 1136.7L1454.3 1126.3L1454.8 1139.8L1455.3 1159.3L1455.8 1123.2L1456.3 1144.4L1456.8 1138.8L1457.4 1137.5L1457.9 1134.6L1458.4 1135.4L1458.9 1149.5L1459.4 1144.9L1459.9 1128.3L1460.4 1154.9L1461.0 1125.2L1461.5 1145.6L1462.0 1140.6L1462.5 1151.2L1463.0 1142.4L1463.5 1149.7L1464.0 1138.5L1464.5 1148.8L1465.1 1142.3L1465.6 1161.1L1466.1 1131.5L1466.6 1151.1L1467.1 1143.6L1467.6 1140.6L1468.1 1132.9L1468.7 1143.4L1469.2 1123.4L1469.7 1124.5L1470.2 1146.1L1470.7 1122.6L1471.2 1153.7L1471.7 1135.9L1472.3 1141.4L1472.8 1139.5L1473.3 1143.1L1473.8 1135.9L1474.3 1135.0L1474.8 1137.5L1475.3 1149.7L1475.8 1150.6L1476.4 1152.0L1476.9 1142.6L1477.4 1136.7L1477.9 1121.3L1478.4 1145.5L1478.9 1147.5L1479.4 1134.6L1480.0 1147.2L1480.5 1152.2L1481.0 1139.8L1481.5 1149.8L1482.0 1142.0L1482.5 1120.8L1483.0 1133.9L1483.6 1134.5L1484.1 1144.3L1484.6 1129.8L1485.1 1134.2L1485.6 1128.8L1486.1 1138.4L1486.6 1139.5L1487.1 1148.9L1487.7 1147.1L1488.2 1140.5L1488.7 1141.3L1489.2 1139.9L1489.7 1140.0L1490.2 1154.9L1490.7 1113.0L1491.3 1137.0L1491.8 1142.0L1492.3 1150.5L1492.8 1127.4L1493.3 1142.4L1493.8 1147.8L1494.3 1134.2L1494.9 1119.0L1495.4 1135.1L1495.9 1126.3L1496.4 1145.6L1496.9 1130.0L1497.4 1157.3L1497.9 1140.3L1498.5 1130.4L1499.0 1133.6L1499.5 1127.5L1500.0 1142.8L1500.5 1154.3L1501.0 1136.6L1501.5 1148.4L1502.0 1129.0L1502.6 1142.0L1503.1 1162.7L1503.6 1124.2L1504.1 1151.6L1504.6 1151.0L1505.1 1119.3L1505.6 1123.9L1506.2 1128.7L1506.7 1148.9L1507.2 1134.3L1507.7 1137.1L1508.2 1146.1L1508.7 1140.0L1509.2 1141.1L1509.8 1135.5L1510.3 1150.5L1510.8 1130.7L1511.3 1156.2L1511.8 1135.3L1512.3 1130.5L1512.8 1145.5L1513.3 1143.5L1513.9 1118.2L1514.4 1141.1L1514.9 1124.8L1515.4 1130.2L1515.9 1146.9L1516.4 1129.8L1516.9 1142.5L1517.5 1134.8L1518.0 1158.8L1518.5 1137.8L1519.0 1126.6L1519.5 1127.3L1520.0 1129.3L1520.5 1140.1L1521.1 1138.7L1521.6 1148.8L1522.1 1140.5L1522.6 1140.1L1523.1 1142.1L1523.6 1137.4L1524.1 1141.7L1524.7 1146.8L1525.2 1146.8L1525.7 1133.0L1526.2 1120.3L1526.7 1130.3L1527.2 1141.6L1527.7 1112.8L1528.2 1133.7L1528.8 1143.3L1529.3 1132.8L1529.8 1127.0L1530.3 1156.9L1530.8 1153.0L1531.3 1136.0L1531.8 1152.4L1532.4 1152.1L1532.9 1126.9L1533.4 1166.5L1533.9 1128.9L1534.4 1135.9L1534.9 1127.2L1535.4 1139.4L1536.0 1124.9L1536.5 1138.5L1537.0 1149.8L1537.5 1140.8L1538.0 1135.8L1538.5 1154.6L1539.0 1129.3L1539.5 1148.6L1540.1 1135.4L1540.6 1140.8L1541.1 1138.9L1541.6 1139.9L1542.1 1138.0L1542.6 1130.4L1543.1 1132.6L1543.7 1143.1L1544.2 1137.4L1544.7 1126.4L1545.2 1131.2L1545.7 1131.3L1546.2 1137.9L1546.7 1140.3L1547.3 1139.4L1547.8 1131.7L1548.3 1138.6L1548.8 1124.2L1549.3 1108.5L1549.8 1137.9L1550.3 1121.3L1550.9 1128.6L1551.4 1125.9L1551.9 1145.0L1552.4 1125.9L1552.9 1141.3L1553.4 1133.3L1553.9 1125.6L1554.4 1122.1L1555.0 1143.2L1555.5 1142.4L1556.0 1146.4L1556.5 1157.4L1557.0 1141.2L1557.5 1141.3L1558.0 1137.1L1558.6 1139.5L1559.1 1134.8L1559.6 1129.1L1560.1 1159.1L1560.6 1119.1L1561.1 1141.1L1561.6 1143.0L1562.2 1140.0L1562.7 1128.5L1563.2 1136.5L1563.7 1133.7L1564.2 1127.3L1564.7 1138.0L1565.2 1134.3L1565.7 1132.8L1566.3 1145.6L1566.8 1127.5L1567.3 1143.1L1567.8 1132.2L1568.3 1143.0L1568.8 1139.3L1569.3 1141.1L1569.9 1128.4L1570.4 1130.6L1570.9 1129.7L1571.4 1140.4L1571.9 1146.4L1572.4 1149.8L1572.9 1133.5L1573.5 1139.6L1574.0 1122.0L1574.5 1115.8L1575.0 1129.8L1575.5 1131.9L1576.0 1122.7L1576.5 1120.4L1577.0 1144.4L1577.6 1130.5L1578.1 1121.5L1578.6 1162.9L1579.1 1140.7L1579.6 1135.6L1580.1 1146.0L1580.6 1131.1L1581.2 1155.4L1581.7 1123.1L1582.2 1125.5L1582.7 1137.6L1583.2 1131.2L1583.7 1153.7L1584.2 1122.5L1584.8 1131.6L1585.3 1141.6L1585.8 1145.0L1586.3 1149.6L1586.8 1142.8L1587.3 1162.0L1587.8 1134.4L1588.4 1141.1L1588.9 1148.2L1589.4 1136.1L1589.9 1136.3L1590.4 1134.6L1590.9 1132.8L1591.4 1127.8L1591.9 1133.7L1592.5 1123.5L1593.0 1143.4L1593.5 1123.1L1594.0 1160.9L1594.5 1157.2L1595.0 1151.0L1595.5 1137.5L1596.1 1133.6L1596.6 1152.4L1597.1 1141.6L1597.6 1145.6L1598.1 1132.4L1598.6 1150.8L1599.1 1131.6L1599.7 1141.0L1600.2 1122.1L1600.7 1133.2L1601.2 1145.2L1601.7 1135.4L1602.2 1135.5L1602.7 1148.2L1603.2 1139.4L1603.8 1153.0L1604.3 1115.3L1604.8 1146.1L1605.3 1145.5L1605.8 1124.4L1606.3 1127.0L1606.8 1149.4L1607.4 1129.4L1607.9 1133.9L1608.4 1146.6L1608.9 1137.1L1609.4 1145.5L1609.9 1131.6L1610.4 1143.7L1611.0 1151.8L1611.5 1144.0L1612.0 1118.1L1612.5 1147.5L1613.0 1141.4L1613.5 1131.5L1614.0 1155.2L1614.6 1123.0L1615.1 1160.2L1615.6 1134.5L1616.1 1157.2L1616.6 1140.6L1617.1 1127.4L1617.6 1142.1L1618.1 1144.6L1618.7 1146.8L1619.2 1152.2L1619.7 1132.0L1620.2 1146.4L1620.7 1148.9L1621.2 1138.6L1621.7 1131.8L1622.3 1131.6L1622.8 1149.2L1623.3 1149.7L1623.8 1133.0L1624.3 1127.8L1624.8 1154.4L1625.3 1125.7L1625.9 1143.3L1626.4 1133.5L1626.9 1123.7L1627.4 1143.1L1627.9 1139.9L1628.4 1156.7L1628.9 1165.2L1629.4 1140.0L1630.0 1152.5L1630.5 1152.7L1631.0 1136.7L1631.5 1133.2L1632.0 1158.6L1632.5 1138.4L1633.0 1141.9L1633.6 1139.2L1634.1 1140.9L1634.6 1136.1L1635.1 1150.0L1635.6 1155.2L1636.1 1138.5L1636.6 1128.2L1637.2 1142.9L1637.7 1127.2L1638.2 1135.9L1638.7 1155.1L1639.2 1166.4L1639.7 1146.4L1640.2 1131.7L1640.8 1150.6L1641.3 1119.6L1641.8 1135.6L1642.3 1158.4L1642.8 1150.4L1643.3 1128.7L1643.8 1125.8L1644.3 1151.7L1644.9 1142.4L1645.4 1136.9L1645.9 1147.2L1646.4 1137.1L1646.9 1123.3L1647.4 1151.4L1647.9 1136.5L1648.5 1132.9L1649.0 1129.5L1649.5 1145.8L1650.0 1135.0L1650.5 1149.7L1651.0 1140.6L1651.5 1154.5L1652.1 1139.5L1652.6 1136.8L1653.1 1123.3L1653.6 1132.3L1654.1 1150.9L1654.6 1174.9L1655.1 1130.8L1655.6 1133.1L1656.2 1147.2L1656.7 1148.7L1657.2 1136.9L1657.7 1144.6L1658.2 1127.4L1658.7 1140.9L1659.2 1153.2L1659.8 1160.7L1660.3 1142.3L1660.8 1141.4L1661.3 1148.8L1661.8 1155.5L1662.3 1149.2L1662.8 1136.6L1663.4 1147.9L1663.9 1154.2L1664.4 1137.1L1664.9 1130.7L1665.4 1149.7L1665.9 1148.2L1666.4 1154.4L1666.9 1145.5L1667.5 1138.0L1668.0 1140.2L1668.5 1134.2L1669.0 1135.1L1669.5 1139.0L1670.0 1139.9L1670.5 1156.3L1671.1 1132.4L1671.6 1144.5L1672.1 1139.0L1672.6 1160.2L1673.1 1147.8L1673.6 1141.3L1674.1 1153.5L1674.7 1145.9L1675.2 1140.4L1675.7 1161.0L1676.2 1152.6L1676.7 1163.0L1677.2 1157.2L1677.7 1153.4L1678.3 1146.9L1678.8 1134.5L1679.3 1152.8L1679.8 1146.4L1680.3 1152.6L1680.8 1145.6L1681.3 1138.7L1681.8 1135.5L1682.4 1153.0L1682.9 1159.1L1683.4 1143.0L1683.9 1150.6L1684.4 1160.1L1684.9 1137.6L1685.4 1142.6L1686.0 1134.7L1686.5 1158.2L1687.0 1148.9L1687.5 1141.6L1688.0 1129.4L1688.5 1144.5L1689.0 1156.6L1689.6 1143.4L1690.1 1142.2L1690.6 1153.0L1691.1 1134.0L1691.6 1147.1L1692.1 1152.7L1692.6 1138.7L1693.1 1138.3L1693.7 1149.3L1694.2 1145.8L1694.7 1144.4L1695.2 1149.0L1695.7 1149.2L1696.2 1137.5L1696.7 1140.2L1697.3 1151.6L1697.8 1158.5L1698.3 1160.9L1698.8 1138.5L1699.3 1158.3L1699.8 1154.9L1700.3 1146.9L1700.9 1152.2L1701.4 1155.8L1701.9 1165.5L1702.4 1136.7L1702.9 1153.5L1703.4 1146.0L1703.9 1145.4L1704.5 1159.2L1705.0 1155.9L1705.5 1137.3L1706.0 1144.8L1706.5 1150.0L1707.0 1133.4L1707.5 1156.5L1708.0 1147.0L1708.6 1149.5L1709.1 1151.2L1709.6 1166.2L1710.1 1148.3L1710.6 1144.3L1711.1 1165.6L1711.6 1142.9L1712.2 1142.7L1712.7 1134.0L1713.2 1159.0L1713.7 1150.9L1714.2 1152.9L1714.7 1149.8L1715.2 1146.8L1715.8 1140.3L1716.3 1140.3L1716.8 1152.6L1717.3 1149.6L1717.8 1164.8L1718.3 1140.7L1718.8 1143.4L1719.3 1138.1L1719.9 1162.4L1720.4 1136.0L1720.9 1156.3L1721.4 1163.1L1721.9 1147.1L1722.4 1155.9L1722.9 1127.0L1723.5 1144.7L1724.0 1131.8L1724.5 1150.4L1725.0 1148.7L1725.5 1140.9L1726.0 1158.2L1726.5 1152.3L1727.1 1143.4L1727.6 1143.6L1728.1 1133.9L1728.6 1146.9L1729.1 1170.2L1729.6 1141.6L1730.1 1153.1L1730.7 1143.3L1731.2 1157.0L1731.7 1153.3L1732.2 1146.5L1732.7 1130.9L1733.2 1143.7L1733.7 1161.1L1734.2 1146.5L1734.8 1155.3L1735.3 1144.1L1735.8 1130.2L1736.3 1153.3L1736.8 1152.3L1737.3 1143.2L1737.8 1145.3L1738.4 1152.0L1738.9 1143.1L1739.4 1152.6L1739.9 1147.1L1740.4 1125.3L1740.9 1147.7L1741.4 1143.2L1742.0 1140.7L1742.5 1153.3L1743.0 1144.3L1743.5 1154.7L1744.0 1160.3L1744.5 1150.7L1745.0 1133.7L1745.5 1141.9L1746.1 1158.5L1746.6 1146.7L1747.1 1141.2L1747.6 1148.5L1748.1 1154.5L1748.6 1152.0L1749.1 1155.9L1749.7 1141.1L1750.2 1146.7L1750.7 1146.9L1751.2 1149.2L1751.7 1128.3L1752.2 1147.1L1752.7 1136.0L1753.3 1163.6L1753.8 1165.2L1754.3 1166.5L1754.8 1157.7L1755.3 1144.7L1755.8 1159.3L1756.3 1147.6L1756.8 1155.8L1757.4 1140.5L1757.9 1143.7L1758.4 1154.4L1758.9 1167.6L1759.4 1149.4L1759.9 1172.5L1760.4 1177.5L1761.0 1136.8L1761.5 1149.5L1762.0 1140.1L1762.5 1148.4L1763.0 1144.4L1763.5 1149.1L1764.0 1159.5L1764.6 1159.3L1765.1 1152.4L1765.6 1149.9L1766.1 1151.0L1766.6 1151.1L1767.1 1155.7L1767.6 1149.9L1768.2 1155.0L1768.7 1136.7L1769.2 1157.9L1769.7 1167.6L1770.2 1151.8L1770.7 1135.7L1771.2 1163.6L1771.7 1146.6L1772.3 1119.8L1772.8 1147.8L1773.3 1156.1L1773.8 1153.9L1774.3 1162.6L1774.8 1156.3L1775.3 1151.3L1775.9 1130.1L1776.4 1138.8L1776.9 1151.9L1777.4 1156.9L1777.9 1139.7L1778.4 1143.9L1778.9 1154.9L1779.5 1130.9L1780.0 1130.5L1780.5 1147.8L1781.0 1152.7L1781.5 1145.3L1782.0 1127.0L1782.5 1150.4L1783.0 1136.8L1783.6 1156.8L1784.1 1149.2L1784.6 1152.9L1785.1 1156.7L1785.6 1144.9L1786.1 1158.6L1786.6 1162.8L1787.2 1154.3L1787.7 1163.7L1788.2 1144.0L1788.7 1159.6L1789.2 1153.0L1789.7 1140.4L1790.2 1149.6L1790.8 1145.0L1791.3 1144.8L1791.8 1151.3L1792.3 1161.1L1792.8 1147.2L1793.3 1151.7L1793.8 1135.6L1794.4 1151.5L1794.9 1162.1L1795.4 1158.6L1795.9 1155.3L1796.4 1145.2L1796.9 1140.6L1797.4 1149.5L1797.9 1137.0L1798.5 1138.0L1799.0 1160.0L1799.5 1141.3L1800.0 1168.7L1800.5 1136.1L1801.0 1154.9L1801.5 1138.7L1802.1 1152.3L1802.6 1140.1L1803.1 1151.0L1803.6 1149.0L1804.1 1146.1L1804.6 1155.8L1805.1 1165.9L1805.7 1144.7L1806.2 1159.6L1806.7 1151.5L1807.2 1150.4L1807.7 1172.8L1808.2 1128.8L1808.7 1143.8L1809.2 1132.4L1809.8 1147.6L1810.3 1148.4L1810.8 1189.3L1811.3 1154.3L1811.8 1168.9L1812.3 1163.9L1812.8 1146.3L1813.4 1155.6L1813.9 1167.7L1814.4 1152.6L1814.9 1152.9L1815.4 1155.9L1815.9 1135.7L1816.4 1142.7L1817.0 1154.3L1817.5 1156.4L1818.0 1141.6L1818.5 1147.6L1819.0 1149.7L1819.5 1149.4L1820.0 1157.9L1820.6 1152.0L1821.1 1152.6L1821.6 1136.7L1822.1 1140.3L1822.6 1154.2L1823.1 1134.9L1823.6 1153.7L1824.1 1144.3L1824.7 1142.8L1825.2 1157.6L1825.7 1144.2L1826.2 1142.4L1826.7 1144.2L1827.2 1151.6L1827.7 1178.8L1828.3 1129.6L1828.8 1150.9L1829.3 1148.6L1829.8 1160.7L1830.3 1147.3L1830.8 1126.1L1831.3 1164.5L1831.9 1140.1L1832.4 1150.5L1832.9 1137.3L1833.4 1140.0L1833.9 1146.1L1834.4 1159.8L1834.9 1159.7L1835.4 1145.1L1836.0 1156.2L1836.5 1147.4L1837.0 1152.3L1837.5 1152.7L1838.0 1157.4L1838.5 1144.9L1839.0 1149.8L1839.6 1153.4L1840.1 1152.1L1840.6 1143.1L1841.1 1168.6L1841.6 1146.5L1842.1 1158.9L1842.6 1153.3L1843.2 1163.6L1843.7 1129.1L1844.2 1172.0L1844.7 1149.1L1845.2 1138.8L1845.7 1152.6L1846.2 1174.1L1846.7 1156.4L1847.3 1138.8L1847.8 1146.6L1848.3 1164.8L1848.8 1137.1L1849.3 1149.5L1849.8 1148.3L1850.3 1173.3L1850.9 1148.4L1851.4 1164.6L1851.9 1144.5L1852.4 1143.2L1852.9 1161.5L1853.4 1157.7L1853.9 1133.9L1854.5 1157.9L1855.0 1157.9L1855.5 1145.2L1856.0 1153.6L1856.5 1154.1L1857.0 1146.5L1857.5 1145.5L1858.1 1144.7L1858.6 1148.7L1859.1 1138.0L1859.6 1151.0L1860.1 1136.4L1860.6 1152.2L1861.1 1150.6L1861.6 1141.0L1862.2 1160.1L1862.7 1171.1L1863.2 1164.9L1863.7 1137.7L1864.2 1164.4L1864.7 1153.8L1865.2 1151.0L1865.8 1145.5L1866.3 1151.5L1866.8 1165.6L1867.3 1157.1L1867.8 1147.4L1868.3 1144.8L1868.8 1147.4L1869.4 1157.6L1869.9 1170.5L1870.4 1141.0L1870.9 1151.6L1871.4 1147.8L1871.9 1144.1L1872.4 1155.7L1872.9 1157.3L1873.5 1137.4L1874.0 1141.3L1874.5 1163.8L1875.0 1154.9L1875.5 1157.0L1876.0 1146.7L1876.5 1147.9L1877.1 1156.4L1877.6 1146.8L1878.1 1140.6L1878.6 1151.8L1879.1 1161.0L1879.6 1141.4L1880.1 1162.5L1880.7 1158.9L1881.2 1143.2L1881.7 1152.0L1882.2 1151.5L1882.7 1158.3L1883.2 1158.6L1883.7 1138.8L1884.3 1138.4L1884.8 1162.3L1885.3 1153.1L1885.8 1156.2L1886.3 1155.4L1886.8 1167.4L1887.3 1139.9L1887.8 1163.0L1888.4 1143.8L1888.9 1159.4L1889.4 1165.6L1889.9 1138.2L1890.4 1156.2L1890.9 1149.3L1891.4 1149.2L1892.0 1152.6L1892.5 1141.6L1893.0 1142.5L1893.5 1158.8L1894.0 1160.7L1894.5 1146.5L1895.0 1137.6L1895.6 1175.5L1896.1 1163.3L1896.6 1155.9L1897.1 1141.9L1897.6 1146.4L1898.1 1154.7L1898.6 1142.7L1899.1 1168.4L1899.7 1153.7L1900.2 1156.3L1900.7 1142.0L1901.2 1143.3L1901.7 1144.5L1902.2 1155.2L1902.7 1149.8L1903.3 1149.6L1903.8 1155.6L1904.3 1154.7L1904.8 1167.4L1905.3 1150.5L1905.8 1142.4L1906.3 1152.4L1906.9 1167.2L1907.4 1147.0L1907.9 1153.1L1908.4 1149.0L1908.9 1156.7L1909.4 1155.2L1909.9 1144.6L1910.5 1150.4L1911.0 1162.1L1911.5 1163.7L1912.0 1162.0L1912.5 1161.4L1913.0 1149.5L1913.5 1149.2L1914.0 1162.1L1914.6 1141.1L1915.1 1152.3L1915.6 1134.3L1916.1 1149.1L1916.6 1145.9L1917.1 1140.9L1917.6 1158.8L1918.2 1145.7L1918.7 1149.4L1919.2 1150.5L1919.7 1145.7L1920.2 1167.3L1920.7 1148.2L1921.2 1155.1L1921.8 1140.2L1922.3 1148.5L1922.8 1150.0L1923.3 1150.2L1923.8 1147.5L1924.3 1154.8L1924.8 1168.9L1925.3 1152.1L1925.9 1152.0L1926.4 1149.6L1926.9 1178.8L1927.4 1169.6L1927.9 1159.1L1928.4 1160.6L1928.9 1146.5L1929.5 1152.1L1930.0 1155.8L1930.5 1154.9L1931.0 1145.2L1931.5 1146.0L1932.0 1159.0L1932.5 1157.0L1933.1 1132.9L1933.6 1154.8L1934.1 1166.6L1934.6 1147.6L1935.1 1156.4L1935.6 1139.6L1936.1 1162.4L1936.6 1143.0L1937.2 1141.7L1937.7 1151.1L1938.2 1177.8L1938.7 1148.2L1939.2 1141.8L1939.7 1159.0L1940.2 1156.7L1940.8 1170.9L1941.3 1141.9L1941.8 1138.7L1942.3 1151.4L1942.8 1158.4L1943.3 1158.2L1943.8 1165.5L1944.4 1139.9L1944.9 1146.5L1945.4 1153.5L1945.9 1163.2L1946.4 1159.6L1946.9 1150.7L1947.4 1144.8L1948.0 1163.8L1948.5 1164.5L1949.0 1182.0L1949.5 1153.3L1950.0 1171.3L1950.5 1143.2L1951.0 1149.8L1951.5 1148.6L1952.1 1150.7L1952.6 1146.7L1953.1 1150.0L1953.6 1154.9L1954.1 1151.0L1954.6 1162.1L1955.1 1154.7L1955.7 1155.6L1956.2 1170.3L1956.7 1158.8L1957.2 1157.3L1957.7 1155.6L1958.2 1156.5L1958.7 1161.6L1959.3 1148.0L1959.8 1167.3L1960.3 1171.6L1960.8 1167.5L1961.3 1151.2L1961.8 1140.3L1962.3 1151.8L1962.8 1157.7L1963.4 1164.5L1963.9 1154.5L1964.4 1153.3L1964.9 1171.5L1965.4 1149.8L1965.9 1167.0L1966.4 1165.5L1967.0 1143.4L1967.5 1159.4L1968.0 1151.1L1968.5 1147.3" stroke="#FF00FF"/>
<path d="M170.5 1028.4L171.0 1030.7L171.5 1048.1L172.0 1040.9L172.6 1046.6L173.1 1034.6L173.6 1041.0L174.1 1041.3L174.6 1029.9L175.1 1028.7L175.6 1047.2L176.2 1044.5L176.7 1034.8L177.2 1042.0L177.7 1048.7L178.2 1058.9L178.7 1034.7L179.2 1047.9L179.7 1061.1L180.3 1042.8L180.8 1055.1L181.3 1019.1L181.8 1054.7L182.3 1041.7L182.8 1025.0L183.3 1048.5L183.9 1050.8L184.4 1052.1L184.9 1051.9L185.4 1041.0L185.9 1034.5L186.4 1037.0L186.9 1040.7L187.5 1044.5L188.0 1036.6L188.5 1041.3L189.0 1048.6L189.5 1043.6L190.0 1061.1L190.5 1059.8L191.0 1030.4L191.6 1035.5L192.1 1028.9L192.6 1030.2L193.1 1045.3L193.6 1031.6L194.1 1031.1L194.6 1038.0L195.2 1047.5L195.7 1037.2L196.2 1037.1L196.7 1048.4L197.2 1044.5L197.7 1044.3L198.2 1048.6L198.8 1031.2L199.3 1042.1L199.8 1034.5L200.3 1049.3L200.8 1047.4L201.3 1030.8L201.8 1052.0L202.4 1029.6L202.9 1050.4L203.4 1041.8L203.9 1032.2L204.4 1030.0L204.9 1037.2L205.4 1039.7L205.9 1033.5L206.5 1044.9L207.0 1027.3L207.5 1039.7L208.0 1039.8L208.5 1023.1L209.0 1042.5L209.5 1028.4L210.1 1017.4L210.6 1034.2L211.1 1037.6L211.6 1047.7L212.1 1035.2L212.6 1052.7L213.1 1052.4L213.7 1049.2L214.2 1051.3L214.7 1042.6L215.2 1034.4L215.7 1045.2L216.2 1048.0L216.7 1041.5L217.2 1037.1L217.8 1025.3L218.3 1045.3L218.8 1042.4L219.3 1027.6L219.8 1040.1L220.3 1045.6L220.8 1038.1L221.4 1046.1L221.9 1045.8L222.4 1025.8L222.9 1036.3L223.4 1043.3L223.9 1047.2L224.4 1051.5L225.0 1021.7L225.5 1038.3L226.0 1045.3L226.5 1049.8L227.0 1053.9L227.5 1030.4L228.0 1035.4L228.5 1029.3L229.1 1046.0L229.6 1026.8L230.1 1049.2L230.6 1047.0L231.1 1043.0L231.6 1019.1L232.1 1032.5L232.7 1045.2L233.2 1025.8L233.7 1036.3L234.2 1037.5L234.7 1046.4L235.2 1041.0L235.7 1040.9L236.3 1034.4L236.8 1038.4L237.3 1037.1L237.8 1044.9L238.3 1036.7L238.8 1047.5L239.3 1023.0L239.9 1049.0L240.4 1036.7L240.9 1048.3L241.4 1038.9L241.9 1045.8L242.4 1051.5L242.9 1033.1L243.4 1038.7L244.0 1036.5L244.5 1039.8L245.0 1023.4L245.5 1036.3L246.0 1035.6L246.5 1030.7L247.0 1036.0L247.6 1023.9L248.1 1050.2L248.6 1041.6L249.1 1054.4L249.6 1029.6L250.1 1026.8L250.6 1039.7L251.2 1022.0L251.7 1038.9L252.2 1030.4L252.7 1033.5L253.2 1038.7L253.7 1036.6L254.2 1052.7L254.7 1041.5L255.3 1023.9L255.8 1044.2L256.3 1023.1L256.8 1035.7L257.3 1023.4L257.8 1026.9L258.3 1046.0L258.9 1028.9L259.4 1027.8L259.9 1028.3L260.4 1030.3L260.9 1045.8L261.4 1021.9L261.9 1021.1L262.5 1037.2L263.0 1017.3L263.5 1028.2L264.0 1041.4L264.5 1030.9L265.0 1026.3L265.5 1024.0L266.1 1021.8L266.6 1024.5L267.1 1030.9L267.6 1040.6L268.1 1037.8L268.6 1023.7L269.1 1021.8L269.6 1034.4L270.2 1011.3L270.7 1023.4L271.2 1024.1L271.7 1016.6L272.2 1017.2L272.7 1029.0L273.2 1010.4L273.8 1016.8L274.3 1018.8L274.8 1025.0L275.3 1011.4L275.8 1033.4L276.3 1020.2L276.8 1020.3L277.4 1019.0L277.9 1015.8L278.4 1012.6L278.9 1031.7L279.4 1022.7L279.9 1019.5L280.4 1029.3L280.9 1013.4L281.5 1025.4L282.0 1019.6L282.5 1011.0L283.0 1025.9L283.5 1005.1L284.0 1024.6L284.5 1010.4L285.1 1022.2L285.6 1031.0L286.1 1023.6L286.6 1012.9L287.1 1018.1L287.6 1015.0L288.1 1007.6L288.7 1008.3L289.2 1018.8L289.7 1023.3L290.2 1002.3L290.7 1017.8L291.2 1023.1L291.7 1019.5L292.3 1009.3L292.8 1028.0L293.3 1007.4L293.8 1024.5L294.3 1033.2L294.8 1000.0L295.3 1021.0L295.8 1021.5L296.4 1020.8L296.9 1011.8L297.4 1015.9L297.9 1006.1L298.4 1020.0L298.9 1023.8L299.4 1012.8L300.0 1010.5L300.5 1014.7L301.0 1018.9L301.5 1019.6L302.0 1018.1L302.5 1019.7L303.0 1007.1L303.6 994.3L304.1 1024.7L304.6 1032.0L305.1 1006.2L305.6 1013.1L306.1 1021.9L306.6 1027.8L307.1 1025.0L307.7 1030.7L308.2 1018.6L308.7 1022.9L309.2 1022.9L309.7 1015.2L310.2 1030.0L310.7 1024.8L311.3 1028.0L311.8 1015.6L312.3 1028.5L312.8 1009.5L313.3 1022.7L313.8 995.4L314.3 1009.9L314.9 1025.8L315.4 1015.0L315.9 1020.6L316.4 1004.1L316.9 1032.6L317.4 1023.6L317.9 1017.6L318.4 1021.1L319.0 1019.8L319.5 1029.2L320.0 1017.7L320.5 1001.8L321.0 1012.3L321.5 1025.7L322.0 1018.7L322.6 1009.1L323.1 1018.0L323.6 1013.0L324.1 1017.0L324.6 996.6L325.1 1002.5L325.6 1016.5L326.2 1008.0L326.7 1012.9L327.2 1027.3L327.7 1006.2L328.2 1010.9L328.7 1003.3L329.2 1002.4L329.8 1007.1L330.3 994.2L330.8 987.9L331.3 1019.4L331.8 1005.7L332.3 1016.7L332.8 1007.2L333.3 1007.2L333.9 1011.7L334.4 1011.8L334.9 993.9L335.4 1015.8L335.9 995.5L336.4 1006.0L336.9 1027.4L337.5 1004.3L338.0 1018.7L338.5 999.8L339.0 1008.4L339.5 1003.0L340.0 1006.0L340.5 994.0L341.1 993.2L341.6 1004.4L342.1 986.6L342.6 992.9L343.1 1006.3L343.6 994.4L344.1 991.5L344.6 989.2L345.2 1000.4L345.7 995.4L346.2 999.8L346.7 996.3L347.2 1014.8L347.7 993.3L348.2 978.9L348.8 997.7L349.3 996.3L349.8 997.3L350.3 980.7L350.8 1005.6L351.3 994.5L351.8 994.0L352.4 979.4L352.9 998.0L353.4 992.7L353.9 1005.4L354.4 988.6L354.9 980.6L355.4 992.9L356.0 982.8L356.5 994.7L357.0 980.4L357.5 988.9L358.0 987.5L358.5 988.9L359.0 984.0L359.5 980.8L360.1 987.4L360.6 982.1L361.1 988.5L361.6 984.1L362.1 965.2L362.6 985.1L363.1 998.2L363.7 987.6L364.2 989.9L364.7 988.1L365.2 979.0L365.7 970.4L366.2 989.9L366.7 991.7L367.3 986.6L367.8 984.8L368.3 984.0L368.8 979.5L369.3 981.8L369.8 978.8L370.3 981.2L370.8 968.8L371.4 971.2L371.9 981.8L372.4 972.7L372.9 952.7L373.4 975.9L373.9 952.8L374.4 991.5L375.0 979.7L375.5 978.7L376.0 965.5L376.5 960.6L377.0 968.5L377.5 970.1L378.0 962.1L378.6 970.1L379.1 974.5L379.6 973.0L380.1 957.0L380.6 945.8L381.1 965.5L381.6 958.6L382.2 968.3L382.7 978.9L383.2 978.2L383.7 964.8L384.2 971.9L384.7 976.2L385.2 960.4L385.7 961.8L386.3 966.5L386.8 957.4L387.3 952.2L387.8 949.0L388.3 955.4L388.8 948.6L389.3 961.2L389.9 949.7L390.4 965.8L390.9 962.6L391.4 938.5L391.9 959.6L392.4 944.7L392.9 960.7L393.5 951.7L394.0 945.5L394.5 951.4L395.0 938.9L395.5 946.5L396.0 946.1L396.5 940.2L397.0 944.5L397.6 930.4L398.1 944.4L398.6 926.7L399.1 943.4L399.6 941.2L400.1 942.7L400.6 929.8L401.2 963.5L401.7 931.5L402.2 934.5L402.7 925.1L403.2 945.4L403.7 926.5L404.2 939.9L404.8 920.7L405.3 932.1L405.8 925.0L406.3 936.9L406.8 924.5L407.3 918.4L407.8 930.5L408.3 914.1L408.9 915.8L409.4 931.8L409.9 905.8L410.4 930.6L410.9 918.9L411.4 913.4L411.9 924.0L412.5 927.2L413.0 915.0L413.5 918.4L414.0 927.3L414.5 926.3L415.0 918.0L415.5 910.6L416.1 908.4L416.6 911.3L417.1 923.1L417.6 921.6L418.1 918.5L418.6 928.5L419.1 911.6L419.7 910.4L420.2 909.8L420.7 931.6L421.2 892.7L421.7 914.9L422.2 916.0L422.7 911.8L423.2 933.3L423.8 921.6L424.3 917.2L424.8 900.6L425.3 913.6L425.8 904.7L426.3 908.3L426.8 909.4L427.4 902.3L427.9 912.7L428.4 921.9L428.9 915.7L429.4 907.3L429.9 886.0L430.4 914.9L431.0 914.4L431.5 901.6L432.0 898.4L432.5 909.0L433.0 894.3L433.5 909.5L434.0 890.8L434.5 892.0L435.1 900.7L435.6 885.9L436.1 899.7L436.6 904.4L437.1 886.0L437.6 907.4L438.1 892.5L438.7 902.9L439.2 899.3L439.7 892.3L440.2 891.2L440.7 879.3L441.2 888.7L441.7 887.6L442.3 910.7L442.8 904.2L443.3 880.5L443.8 901.3L444.3 895.3L444.8 889.0L445.3 896.9L445.9 899.7L446.4 886.0L446.9 888.5L447.4 892.5L447.9 880.9L448.4 892.0L448.9 889.0L449.4 882.8L450.0 880.8L450.5 891.7L451.0 896.9L451.5 891.2L452.0 879.2L452.5 894.6L453.0 888.6L453.6 892.3L454.1 897.6L454.6 876.9L455.1 884.0L455.6 879.1L456.1 876.0L456.6 903.9L457.2 893.0L457.7 866.0L458.2 887.1L458.7 877.1L459.2 893.4L459.7 882.5L460.2 879.5L460.7 882.1L461.3 884.0L461.8 880.0L462.3 877.0L462.8 877.2L463.3 883.0L463.8 866.2L464.3 876.6L464.9 874.8L465.4 870.5L465.9 881.8L466.4 861.1L466.9 869.6L467.4 864.1L467.9 877.3L468.5 866.7L469.0 871.3L469.5 874.2L470.0 854.2L470.5 874.1L471.0 861.9L471.5 866.4L472.1 867.5L472.6 876.3L473.1 875.3L473.6 885.2L474.1 869.1L474.6 862.4L475.1 861.8L475.6 873.1L476.2 882.2L476.7 869.4L477.2 860.1L477.7 868.3L478.2 867.9L478.7 865.4L479.2 857.5L479.8 839.4L480.3 859.1L480.8 874.7L481.3 866.1L481.8 841.8L482.3 863.7L482.8 845.0L483.4 883.0L483.9 864.9L484.4 850.8L484.9 870.6L485.4 854.6L485.9 867.8L486.4 862.2L486.9 850.0L487.5 868.2L488.0 848.0L488.5 874.6L489.0 861.6L489.5 850.5L490.0 842.5L490.5 876.5L491.1 874.7L491.6 847.4L492.1 876.2L492.6 861.3L493.1 857.2L493.6 858.3L494.1 856.3L494.7 873.1L495.2 860.2L495.7 840.0L496.2 879.2L496.7 866.9L497.2 847.0L497.7 854.2L498.2 848.5L498.8 857.9L499.3 861.2L499.8 859.4L500.3 850.9L500.8 848.7L501.3 865.0L501.8 855.3L502.4 878.7L502.9 847.9L503.4 863.7L503.9 856.1L504.4 847.9L504.9 869.0L505.4 856.4L506.0 846.0L506.5 851.6L507.0 864.8L507.5 842.2L508.0 868.1L508.5 861.0L509.0 851.1L509.6 867.3L510.1 871.1L510.6 859.3L511.1 854.7L511.6 871.4L512.1 867.6L512.6 843.1L513.1 850.2L513.7 849.9L514.2 847.9L514.7 836.9L515.2 861.1L515.7 853.0L516.2 853.2L516.7 866.6L517.3 847.0L517.8 852.4L518.3 856.0L518.8 849.3L519.3 852.9L519.8 862.1L520.3 854.8L520.9 868.7L521.4 848.2L521.9 858.3L522.4 842.4L522.9 856.1L523.4 850.7L523.9 872.0L524.4 866.2L525.0 864.4L525.5 878.3L526.0 874.7L526.5 867.9L527.0 854.1L527.5 846.9L528.0 861.5L528.6 858.6L529.1 856.0L529.6 859.9L530.1 846.6L530.6 878.4L531.1 852.4L531.6 857.4L532.2 870.2L532.7 848.4L533.2 874.3L533.7 874.8L534.2 862.6L534.7 855.2L535.2 861.6L535.8 848.1L536.3 880.8L536.8 867.8L537.3 860.1L537.8 858.7L538.3 873.9L538.8 883.5L539.3 855.9L539.9 863.2L540.4 851.6L540.9 876.3L541.4 871.4L541.9 892.8L542.4 869.2L542.9 866.3L543.5 863.8L544.0 879.8L544.5 855.1L545.0 879.3L545.5 874.5L546.0 867.2L546.5 863.5L547.1 883.3L547.6 891.7L548.1 868.8L548.6 878.8L549.1 891.2L549.6 867.8L550.1 871.7L550.6 862.2L551.2 873.2L551.7 874.1L552.2 870.9L552.7 867.9L553.2 859.7L553.7 862.3L554.2 866.2L554.8 882.6L555.3 871.3L555.8 868.1L556.3 883.4L556.8 882.7L557.3 869.7L557.8 871.2L558.4 884.3L558.9 881.6L559.4 869.8L559.9 880.8L560.4 878.3L560.9 890.0L561.4 870.4L562.0 888.1L562.5 883.9L563.0 869.7L563.5 890.6L564.0 889.4L564.5 867.3L565.0 900.6L565.5 869.5L566.1 872.1L566.6 878.3L567.1 889.6L567.6 888.0L568.1 881.5L568.6 896.4L569.1 887.1L569.7 897.3L570.2 911.9L570.7 885.9L571.2 858.4L571.7 880.0L572.2 874.1L572.7 886.2L573.3 886.6L573.8 873.7L574.3 874.8L574.8 884.1L575.3 885.2L575.8 861.5L576.3 897.9L576.8 888.9L577.4 889.0L577.9 892.7L578.4 879.9L578.9 890.3L579.4 901.8L579.9 902.8L580.4 897.2L581.0 890.4L581.5 885.6L582.0 907.7L582.5 900.4L583.0 891.5L583.5 874.5L584.0 888.2L584.6 878.2L585.1 910.8L585.6 900.7L586.1 891.9L586.6 897.2L587.1 926.7L587.6 913.4L588.1 888.2L588.7 901.0L589.2 890.5L589.7 886.2L590.2 905.9L590.7 929.0L591.2 921.0L591.7 906.3L592.3 902.7L592.8 909.1L593.3 918.1L593.8 893.6L594.3 890.1L594.8 928.4L595.3 912.9L595.9 926.8L596.4 913.7L596.9 926.7L597.4 906.3L597.9 918.0L598.4 929.2L598.9 924.4L599.5 910.1L600.0 924.3L600.5 909.1L601.0 902.0L601.5 922.2L602.0 931.5L602.5 926.5L603.0 905.8L603.6 927.8L604.1 926.3L604.6 915.4L605.1 895.5L605.6 931.2L606.1 930.4L606.6 926.9L607.2 905.0L607.7 907.9L608.2 933.6L608.7 931.9L609.2 929.3L609.7 922.3L610.2 929.2L610.8 920.3L611.3 923.0L611.8 917.9L612.3 929.7L612.8 923.3L613.3 937.5L613.8 935.6L614.3 920.7L614.9 947.7L615.4 918.4L615.9 934.7L616.4 941.4L616.9 943.8L617.4 909.2L617.9 941.8L618.5 944.4L619.0 947.0L619.5 910.7L620.0 926.6L620.5 932.8L621.0 929.7L621.5 948.0L622.1 928.1L622.6 947.6L623.1 941.2L623.6 921.4L624.1 926.4L624.6 932.0L625.1 938.0L625.7 947.3L626.2 935.8L626.7 947.1L627.2 922.5L627.7 908.1L628.2 935.5L628.7 943.8L629.2 935.9L629.8 929.7L630.3 944.3L630.8 959.7L631.3 939.6L631.8 933.7L632.3 932.8L632.8 961.1L633.4 941.4L633.9 948.2L634.4 954.5L634.9 953.3L635.4 933.6L635.9 952.6L636.4 951.8L637.0 948.5L637.5 953.9L638.0 938.5L638.5 943.7L639.0 939.4L639.5 952.5L640.0 938.7L640.5 949.3L641.1 934.8L641.6 944.7L642.1 942.6L642.6 945.3L643.1 948.0L643.6 945.1L644.1 945.0L644.7 926.9L645.2 958.7L645.7 941.8L646.2 945.8L646.7 940.3L647.2 958.7L647.7 940.1L648.3 954.3L648.8 961.3L649.3 966.2L649.8 961.9L650.3 956.5L650.8 938.8L651.3 963.7L651.9 962.9L652.4 959.7L652.9 959.6L653.4 952.7L653.9 947.1L654.4 963.1L654.9 965.3L655.4 942.7L656.0 962.3L656.5 955.9L657.0 962.5L657.5 956.7L658.0 965.2L658.5 964.7L659.0 963.5L659.6 941.5L660.1 963.4L660.6 956.1L661.1 944.8L661.6 963.1L662.1 942.9L662.6 965.4L663.2 973.5L663.7 952.2L664.2 966.4L664.7 962.1L665.2 964.3L665.7 945.0L666.2 964.4L666.7 960.1L667.3 966.2L667.8 959.4L668.3 970.2L668.8 962.5L669.3 966.7L669.8 973.7L670.3 962.4L670.9 970.6L671.4 963.4L671.9 966.5L672.4 956.6L672.9 969.5L673.4 974.2L673.9 961.7L674.5 970.5L675.0 967.2L675.5 952.6L676.0 967.0L676.5 976.6L677.0 959.4L677.5 947.1L678.0 966.6L678.6 958.6L679.1 983.4L679.6 964.9L680.1 965.5L680.6 959.7L681.1 968.4L681.6 960.8L682.2 957.8L682.7 966.1L683.2 959.1L683.7 979.8L684.2 956.1L684.7 966.8L685.2 961.1L685.8 954.7L686.3 984.1L686.8 948.2L687.3 982.5L687.8 955.2L688.3 969.8L688.8 990.8L689.4 949.0L689.9 956.4L690.4 982.2L690.9 971.5L691.4 964.8L691.9 969.9L692.4 961.2L692.9 971.8L693.5 985.0L694.0 967.3L694.5 972.4L695.0 982.7L695.5 990.4L696.0 966.0L696.5 974.6L697.1 966.6L697.6 965.9L698.1 968.4L698.6 966.4L699.1 956.0L699.6 953.7L700.1 965.9L700.7 974.2L701.2 984.6L701.7 968.2L702.2 971.8L702.7 979.8L703.2 980.6L703.7 972.6L704.2 973.3L704.8 991.7L705.3 970.9L705.8 969.5L706.3 958.8L706.8 978.5L707.3 972.0L707.8 992.7L708.4 971.5L708.9 982.5L709.4 983.8L709.9 990.6L710.4 962.7L710.9 990.0L711.4 975.4L712.0 974.4L712.5 972.5L713.0 971.8L713.5 972.4L714.0 953.6L714.5 980.7L715.0 976.5L715.6 967.0L716.1 975.5L716.6 998.0L717.1 979.9L717.6 972.7L718.1 992.7L718.6 969.0L719.1 975.2L719.7 971.5L720.2 974.6L720.7 983.9L721.2 982.5L721.7 970.2L722.2 976.0L722.7 978.1L723.3 973.6L723.8 977.2L724.3 970.8L724.8 970.8L725.3 978.3L725.8 968.2L726.3 982.0L726.9 976.3L727.4 969.6L727.9 972.6L728.4 974.0L728.9 977.1L729.4 979.7L729.9 976.8L730.4 970.7L731.0 992.5L731.5 987.6L732.0 980.2L732.5 988.2L733.0 982.5L733.5 977.1L734.0 980.4L734.6 1004.7L735.1 989.1L735.6 989.7L736.1 976.3L736.6 985.8L737.1 1001.4L737.6 984.3L738.2 990.5L738.7 992.3L739.2 986.6L739.7 995.4L740.2 982.9L740.7 985.5L741.2 975.1L741.8 1005.7L742.3 984.0L742.8 982.2L743.3 994.3L743.8 976.8L744.3 981.4L744.8 974.2L745.3 981.8L745.9 978.0L746.4 986.8L746.9 980.6L747.4 976.3L747.9 979.2L748.4 980.9L748.9 977.3L749.5 990.8L750.0 988.4L750.5 983.6L751.0 971.2L751.5 987.2L752.0 970.5L752.5 984.2L753.1 983.0L753.6 977.1L754.1 974.9L754.6 976.2L755.1 1001.8L755.6 980.3L756.1 980.9L756.6 991.8L757.2 986.9L757.7 992.8L758.2 971.7L758.7 973.0L759.2 1014.1L759.7 982.8L760.2 980.6L760.8 984.8L761.3 992.6L761.8 972.4L762.3 986.1L762.8 983.3L763.3 989.9L763.8 985.3L764.4 978.8L764.9 975.8L765.4 961.3L765.9 993.0L766.4 970.4L766.9 980.3L767.4 999.5L767.9 980.3L768.5 989.9L769.0 982.4L769.5 990.9L770.0 984.7L770.5 979.8L771.0 997.1L771.5 982.2L772.1 972.3L772.6 981.7L773.1 989.8L773.6 974.6L774.1 992.2L774.6 992.1L775.1 1004.7L775.7 979.2L776.2 991.3L776.7 969.8L777.2 981.4L777.7 986.3L778.2 989.2L778.7 985.0L779.3 984.7L779.8 979.9L780.3 981.5L780.8 988.5L781.3 990.9L781.8 991.7L782.3 995.0L782.8 996.8L783.4 969.3L783.9 981.1L784.4 984.5L784.9 980.1L785.4 995.7L785.9 992.9L786.4 985.1L787.0 987.2L787.5 997.8L788.0 983.0L788.5 983.3L789.0 994.5L789.5 990.5L790.0 999.3L790.6 989.6L791.1 993.1L791.6 981.2L792.1 977.6L792.6 986.2L793.1 961.9L793.6 990.0L794.1 995.1L794.7 986.9L795.2 984.2L795.7 996.2L796.2 985.8L796.7 995.2L797.2 1006.3L797.7 992.8L798.3 994.7L798.8 990.6L799.3 988.3L799.8 988.5L800.3 986.6L800.8 995.9L801.3 971.1L801.9 983.4L802.4 991.8L802.9 978.0L803.4 984.8L803.9 979.3L804.4 989.7L804.9 993.5L805.5 998.9L806.0 990.1L806.5 978.9L807.0 987.7L807.5 990.6L808.0 998.2L808.5 965.5L809.0 988.6L809.6 968.3L810.1 991.6L810.6 989.1L811.1 989.5L811.6 993.0L812.1 988.3L812.6 978.8L813.2 987.9L813.7 995.6L814.2 983.5L814.7 984.7L815.2 973.3L815.7 994.9L816.2 979.6L816.8 977.3L817.3 980.0L817.8 976.1L818.3 981.6L818.8 995.6L819.3 991.1L819.8 996.8L820.3 997.3L820.9 975.3L821.4 987.9L821.9 997.2L822.4 1004.4L822.9 970.3L823.4 970.1L823.9 987.4L824.5 979.9L825.0 973.8L825.5 986.3L826.0 975.4L826.5 961.7L827.0 982.2L827.5 983.4L828.1 988.0L828.6 990.6L829.1 983.5L829.6 979.5L830.1 975.4L830.6 966.2L831.1 977.2L831.7 990.2L832.2 986.9L832.7 999.6L833.2 979.1L833.7 963.9L834.2 987.8L834.7 989.5L835.2 969.1L835.8 964.8L836.3 980.8L836.8 985.8L837.3 968.7L837.8 975.7L838.3 971.5L838.8 967.6L839.4 966.2L839.9 979.4L840.4 974.5L840.9 971.5L841.4 953.5L841.9 993.5L842.4 968.5L843.0 975.7L843.5 966.3L844.0 980.1L844.5 962.5L845.0 977.1L845.5 974.4L846.0 984.4L846.5 965.6L847.1 969.6L847.6 973.3L848.1 994.7L848.6 961.5L849.1 977.7L849.6 968.8L850.1 977.5L850.7 980.5L851.2 975.6L851.7 976.6L852.2 976.6L852.7 968.4L853.2 971.6L853.7 958.1L854.3 970.0L854.8 966.0L855.3 970.5L855.8 979.5L856.3 976.1L856.8 976.8L857.3 982.5L857.8 950.0L858.4 975.9L858.9 971.6L859.4 970.8L859.9 959.4L860.4 976.5L860.9 982.0L861.4 980.8L862.0 970.4L862.5 977.1L863.0 979.7L863.5 988.0L864.0 982.4L864.5 972.4L865.0 971.9L865.6 972.6L866.1 973.2L866.6 966.5L867.1 978.3L867.6 964.7L868.1 963.7L868.6 974.4L869.2 965.8L869.7 968.9L870.2 952.0L870.7 978.6L871.2 971.2L871.7 970.1L872.2 975.6L872.7 973.3L873.3 964.9L873.8 990.1L874.3 967.3L874.8 980.6L875.3 988.6L875.8 965.9L876.3 972.6L876.9 964.2L877.4 981.5L877.9 968.7L878.4 961.7L878.9 984.2L879.4 980.5L879.9 963.9L880.5 983.2L881.0 974.2L881.5 997.8L882.0 988.8L882.5 968.1L883.0 971.1L883.5 965.9L884.0 975.6L884.6 975.3L885.1 982.1L885.6 976.6L886.1 962.7L886.6 969.3L887.1 990.4L887.6 988.5L888.2 977.0L888.7 977.8L889.2 978.0L889.7 980.3L890.2 965.2L890.7 989.4L891.2 975.7L891.8 983.6L892.3 959.6L892.8 985.4L893.3 996.0L893.8 963.7L894.3 998.5L894.8 989.3L895.4 978.7L895.9 971.2L896.4 996.7L896.9 988.8L897.4 992.2L897.9 984.7L898.4 980.2L898.9 995.8L899.5 979.5L900.0 996.7L900.5 973.6L901.0 980.7L901.5 976.2L902.0 1001.7L902.5 974.0L903.1 979.9L903.6 996.6L904.1 992.9L904.6 1011.1L905.1 1008.2L905.6 997.3L906.1 998.3L906.7 975.7L907.2 984.5L907.7 989.9L908.2 991.5L908.7 980.9L909.2 985.2L909.7 986.2L910.2 1003.8L910.8 998.3L911.3 991.7L911.8 992.4L912.3 997.8L912.8 989.0L913.3 993.2L913.8 980.2L914.4 1002.1L914.9 1004.9L915.4 999.6L915.9 1000.8L916.4 1000.0L916.9 1015.3L917.4 998.7L918.0 985.0L918.5 987.6L919.0 1003.6L919.5 1007.0L920.0 1004.4L920.5 1005.1L921.0 999.3L921.6 984.2L922.1 991.3L922.6 981.4L923.1 994.4L923.6 985.6L924.1 998.9L924.6 996.6L925.1 980.5L925.7 1004.9L926.2 1005.3L926.7 985.8L927.2 999.8L927.7 1005.0L928.2 996.0L928.7 1006.4L929.3 1000.4L929.8 1008.5L930.3 1000.5L930.8 997.3L931.3 1003.5L931.8 1006.0L932.3 1001.1L932.9 994.8L933.4 991.7L933.9 995.5L934.4 993.7L934.9 1000.8L935.4 1000.4L935.9 998.1L936.4 998.8L937.0 1000.4L937.5 1013.0L938.0 1009.7L938.5 993.4L939.0 1002.4L939.5 995.5L940.0 997.5L940.6 996.1L941.1 992.5L941.6 985.7L942.1 975.6L942.6 999.8L943.1 1008.7L943.6 989.5L944.2 1002.3L944.7 994.1L945.2 1000.1L945.7 990.1L946.2 995.2L946.7 996.2L947.2 975.4L947.7 999.1L948.3 995.8L948.8 974.3L949.3 1002.8L949.8 996.5L950.3 998.7L950.8 1000.1L951.3 992.9L951.9 986.8L952.4 992.6L952.9 992.7L953.4 1016.9L953.9 1013.4L954.4 992.0L954.9 992.7L955.5 999.4L956.0 1001.6L956.5 990.0L957.0 987.2L957.5 1014.1L958.0 1006.0L958.5 982.0L959.1 980.0L959.6 988.6L960.1 998.2L960.6 1001.2L961.1 993.0L961.6 981.3L962.1 998.1L962.6 1001.6L963.2 996.0L963.7 991.4L964.2 1001.2L964.7 995.4L965.2 985.5L965.7 996.7L966.2 983.8L966.8 1004.6L967.3 1000.0L967.8 986.4L968.3 997.5L968.8 1007.0L969.3 975.6L969.8 994.1L970.4 1010.5L970.9 980.9L971.4 993.6L971.9 981.9L972.4 994.3L972.9 972.6L973.4 979.7L973.9 989.7L974.5 995.8L975.0 998.0L975.5 998.3L976.0 1004.9L976.5 1000.6L977.0 1000.9L977.5 984.8L978.1 992.3L978.6 1023.2L979.1 1014.6L979.6 1001.1L980.1 1000.1L980.6 1002.3L981.1 989.2L981.7 1011.1L982.2 989.2L982.7 991.8L983.2 1012.7L983.7 972.8L984.2 995.5L984.7 975.8L985.3 985.6L985.8 990.6L986.3 988.0L986.8 992.7L987.3 983.7L987.8 989.7L988.3 979.3L988.8 986.5L989.4 976.9L989.9 995.8L990.4 977.3L990.9 995.7L991.4 985.0L991.9 985.8L992.4 999.5L993.0 989.1L993.5 970.0L994.0 992.3L994.5 959.9L995.0 989.6L995.5 983.0L996.0 973.3L996.6 987.0L997.1 983.1L997.6 1004.7L998.1 981.3L998.6 1003.6L999.1 998.0L999.6 978.8L1000.1 976.6L1000.7 996.6L1001.2 982.4L1001.7 984.9L1002.2 980.7L1002.7 971.3L1003.2 978.9L1003.7 973.0L1004.3 967.3L1004.8 978.7L1005.3 998.2L1005.8 996.3L1006.3 980.0L1006.8 981.6L1007.3 984.8L1007.9 992.6L1008.4 982.4L1008.9 974.4L1009.4 975.0L1009.9 989.3L1010.4 1003.1L1010.9 971.8L1011.5 957.8L1012.0 985.0L1012.5 976.2L1013.0 978.0L1013.5 988.3L1014.0 976.8L1014.5 963.2L1015.0 956.8L1015.6 975.0L1016.1 964.0L1016.6 977.7L1017.1 962.4L1017.6 971.1L1018.1 960.0L1018.6 970.5L1019.2 969.4L1019.7 979.2L1020.2 986.2L1020.7 971.3L1021.2 964.5L1021.7 991.5L1022.2 975.9L1022.8 978.0L1023.3 977.8L1023.8 985.8L1024.3 981.2L1024.8 977.8L1025.3 978.5L1025.8 962.5L1026.3 964.7L1026.9 969.4L1027.4 971.1L1027.9 970.1L1028.4 972.7L1028.9 969.8L1029.4 965.1L1029.9 953.3L1030.5 976.9L1031.0 974.2L1031.5 959.7L1032.0 972.8L1032.5 971.6L1033.0 968.2L1033.5 949.4L1034.1 955.4L1034.6 961.1L1035.1 982.6L1035.6 958.4L1036.1 963.4L1036.6 956.0L1037.1 962.2L1037.6 970.5L1038.2 947.3L1038.7 940.3L1039.2 974.8L1039.7 969.1L1040.2 963.4L1040.7 979.2L1041.2 979.8L1041.8 950.5L1042.3 969.8L1042.8 982.6L1043.3 965.9L1043.8 969.7L1044.3 982.4L1044.8 970.9L1045.4 962.3L1045.9 967.6L1046.4 961.8L1046.9 980.4L1047.4 958.8L1047.9 985.5L1048.4 960.3L1049.0 977.1L1049.5 962.9L1050.0 974.4L1050.5 987.7L1051.0 989.0L1051.5 991.2L1052.0 978.1L1052.5 980.4L1053.1 982.0L1053.6 986.0L1054.1 976.6L1054.6 991.4L1055.1 984.3L1055.6 992.5L1056.1 986.4L1056.7 988.7L1057.2 975.5L1057.7 978.8L1058.2 970.7L1058.7 980.5L1059.2 981.9L1059.7 991.9L1060.3 972.0L1060.8 1015.4L1061.3 983.4L1061.8 996.8L1062.3 994.9L1062.8 960.9L1063.3 982.8L1063.8 999.6L1064.4 962.4L1064.9 993.2L1065.4 977.2L1065.9 981.6L1066.4 988.4L1066.9 968.5L1067.4 988.4L1068.0 980.5L1068.5 979.6L1069.0 993.6L1069.5 1020.6L1070.0 990.5L1070.5 992.6L1071.0 986.9L1071.6 980.6L1072.1 990.1L1072.6 1002.3L1073.1 989.7L1073.6 996.5L1074.1 985.9L1074.6 1012.3L1075.2 972.5L1075.7 994.0L1076.2 993.7L1076.7 991.2L1077.2 978.0L1077.7 977.9L1078.2 986.7L1078.7 990.0L1079.3 977.5L1079.8 979.0L1080.3 994.7L1080.8 999.3L1081.3 984.2L1081.8 983.0L1082.3 982.8L1082.9 1013.5L1083.4 994.6L1083.9 989.4L1084.4 999.7L1084.9 1012.1L1085.4 1001.5L1085.9 976.8L1086.5 989.7L1087.0 986.7L1087.5 987.4L1088.0 979.2L1088.5 987.1L1089.0 980.6L1089.5 994.3L1090.0 991.6L1090.6 977.7L1091.1 975.0L1091.6 986.8L1092.1 997.7L1092.6 996.3L1093.1 991.0L1093.6 960.2L1094.2 987.1L1094.7 984.8L1095.2 988.7L1095.7 980.3L1096.2 987.9L1096.7 985.8L1097.2 1018.1L1097.8 999.0L1098.3 990.5L1098.8 991.9L1099.3 991.3L1099.8 994.3L1100.3 988.6L1100.8 992.4L1101.4 1002.4L1101.9 1000.6L1102.4 995.6L1102.9 1005.4L1103.4 994.9L1103.9 983.4L1104.4 976.1L1104.9 986.2L1105.5 992.3L1106.0 996.7L1106.5 1003.2L1107.0 987.5L1107.5 985.3L1108.0 1000.4L1108.5 1004.3L1109.1 988.6L1109.6 996.4L1110.1 1006.3L1110.6 996.3L1111.1 992.7L1111.6 973.4L1112.1 1005.9L1112.7 999.4L1113.2 994.5L1113.7 988.9L1114.2 981.5L1114.7 992.4L1115.2 992.4L1115.7 1003.9L1116.2 981.9L1116.8 1007.2L1117.3 993.8L1117.8 1004.8L1118.3 984.3L1118.8 996.9L1119.3 1005.2L1119.8 994.7L1120.4 979.6L1120.9 990.5L1121.4 998.8L1121.9 980.4L1122.4 979.9L1122.9 996.0L1123.4 984.7L1124.0 1000.3L1124.5 982.6L1125.0 976.3L1125.5 986.4L1126.0 1008.1L1126.5 985.6L1127.0 993.8L1127.5 996.2L1128.1 984.9L1128.6 1004.3L1129.1 995.6L1129.6 998.2L1130.1 978.0L1130.6 977.4L1131.1 967.8L1131.7 992.3L1132.2 991.9L1132.7 1001.0L1133.2 1008.3L1133.7 991.7L1134.2 991.6L1134.7 998.5L1135.3 1008.8L1135.8 986.4L1136.3 1000.2L1136.8 991.9L1137.3 991.1L1137.8 1002.1L1138.3 986.8L1138.9 984.2L1139.4 1000.7L1139.9 994.2L1140.4 992.0L1140.9 993.2L1141.4 999.2L1141.9 991.0L1142.4 1001.8L1143.0 998.5L1143.5 1008.7L1144.0 1006.7L1144.5 1002.8L1145.0 992.8L1145.5 995.9L1146.0 989.2L1146.6 1021.9L1147.1 992.8L1147.6 1000.2L1148.1 1007.9L1148.6 982.0L1149.1 987.2L1149.6 991.3L1150.2 985.7L1150.7 983.1L1151.2 990.3L1151.7 1007.5L1152.2 1002.2L1152.7 995.7L1153.2 995.7L1153.7 979.7L1154.3 1002.1L1154.8 999.6L1155.3 985.3L1155.8 997.6L1156.3 993.9L1156.8 990.8L1157.3 986.4L1157.9 989.4L1158.4 986.9L1158.9 1000.3L1159.4 999.5L1159.9 999.1L1160.4 994.4L1160.9 992.3L1161.5 1015.6L1162.0 978.6L1162.5 1007.7L1163.0 999.7L1163.5 997.1L1164.0 991.6L1164.5 994.4L1165.1 985.3L1165.6 983.4L1166.1 995.6L1166.6 981.0L1167.1 1004.7L1167.6 1007.4L1168.1 964.2L1168.6 982.2L1169.2 999.5L1169.7 999.0L1170.2 998.1L1170.7 1001.1L1171.2 1004.2L1171.7 1005.4L1172.2 1014.2L1172.8 997.5L1173.3 1005.5L1173.8 981.9L1174.3 996.1L1174.8 985.8L1175.3 1010.6L1175.8 1019.6L1176.4 1002.6L1176.9 985.2L1177.4 996.5L1177.9 997.8L1178.4 999.5L1178.9 1007.9L1179.4 1006.7L1179.9 972.6L1180.5 1010.6L1181.0 993.0L1181.5 992.4L1182.0 1011.2L1182.5 995.2L1183.0 984.8L1183.5 985.2L1184.1 998.3L1184.6 1006.4L1185.1 1012.0L1185.6 996.2L1186.1 993.3L1186.6 1013.1L1187.1 993.4L1187.7 1011.6L1188.2 1000.0L1188.7 1000.0L1189.2 995.6L1189.7 1000.6L1190.2 993.4L1190.7 991.4L1191.3 996.5L1191.8 991.6L1192.3 1000.7L1192.8 998.6L1193.3 995.3L1193.8 995.9L1194.3 995.6L1194.8 1014.3L1195.4 997.7L1195.9 992.2L1196.4 995.0L1196.9 1004.1L1197.4 995.9L1197.9 996.4L1198.4 995.4L1199.0 999.3L1199.5 1001.5L1200.0 1002.0L1200.5 982.3L1201.0 987.7L1201.5 972.9L1202.0 1005.4L1202.6 1008.3L1203.1 1010.1L1203.6 999.1L1204.1 1008.7L1204.6 997.4L1205.1 996.6L1205.6 983.2L1206.1 990.4L1206.7 992.2L1207.2 1006.5L1207.7 1013.5L1208.2 993.3L1208.7 1001.3L1209.2 1000.4L1209.7 990.4L1210.3 981.5L1210.8 990.6L1211.3 984.2L1211.8 994.8L1212.3 996.4L1212.8 996.1L1213.3 996.2L1213.9 1002.3L1214.4 988.9L1214.9 1006.2L1215.4 981.9L1215.9 998.3L1216.4 1001.4L1216.9 990.3L1217.4 982.7L1218.0 1003.8L1218.5 991.4L1219.0 1005.1L1219.5 1005.0L1220.0 997.7L1220.5 997.7L1221.0 1007.1L1221.6 1001.3L1222.1 988.9L1222.6 999.3L1223.1 1003.0L1223.6 999.7L1224.1 999.5L1224.6 996.3L1225.2 996.6L1225.7 988.9L1226.2 984.2L1226.7 1008.4L1227.2 991.7L1227.7 999.8L1228.2 983.6L1228.8 999.2L1229.3 989.9L1229.8 1025.7L1230.3 988.1L1230.8 988.6L1231.3 1006.6L1231.8 1008.4L1232.3 977.8L1232.9 1000.1L1233.4 1005.9L1233.9 986.1L1234.4 1004.1L1234.9 992.6L1235.4 988.2L1235.9 994.3L1236.5 993.2L1237.0 984.5L1237.5 1018.6L1238.0 993.2L1238.5 990.5L1239.0 1005.5L1239.5 996.8L1240.1 1010.0L1240.6 994.9L1241.1 1000.7L1241.6 998.3L1242.1 999.0L1242.6 995.4L1243.1 996.4L1243.6 1013.1L1244.2 990.9L1244.7 992.2L1245.2 994.0L1245.7 1002.6L1246.2 1001.0L1246.7 1006.0L1247.2 984.6L1247.8 999.6L1248.3 995.5L1248.8 994.5L1249.3 998.7L1249.8 978.6L1250.3 999.7L1250.8 998.4L1251.4 983.6L1251.9 996.1L1252.4 1011.6L1252.9 993.4L1253.4 1002.6L1253.9 994.9L1254.4 989.3L1255.0 988.3L1255.5 993.2L1256.0 1009.1L1256.5 1004.6L1257.0 990.2L1257.5 1006.3L1258.0 995.7L1258.5 990.4L1259.1 1000.9L1259.6 988.3L1260.1 982.1L1260.6 1009.0L1261.1 979.6L1261.6 1001.9L1262.1 982.5L1262.7 996.5L1263.2 994.9L1263.7 992.6L1264.2 976.2L1264.7 995.7L1265.2 996.4L1265.7 988.3L1266.3 996.1L1266.8 1006.1L1267.3 990.0L1267.8 999.2L1268.3 986.0L1268.8 1000.3L1269.3 1002.7L1269.8 1020.0L1270.4 1005.2L1270.9 1000.8L1271.4 1009.9L1271.9 987.4L1272.4 1006.8L1272.9 991.7L1273.4 991.0L1274.0 1007.0L1274.5 999.0L1275.0 1009.2L1275.5 983.2L1276.0 999.3L1276.5 991.9L1277.0 994.3L1277.6 979.0L1278.1 1005.5L1278.6 998.8L1279.1 987.6L1279.6 984.2L1280.1 988.7L1280.6 1009.9L1281.2 995.9L1281.7 993.7L1282.2 1001.4L1282.7 996.9L1283.2 999.0L1283.7 1003.8L1284.2 999.9L1284.7 1005.0L1285.3 985.7L1285.8 997.4L1286.3 993.5L1286.8 997.9L1287.3 996.5L1287.8 991.0L1288.3 993.6L1288.9 1005.7L1289.4 991.7L1289.9 985.3L1290.4 1002.4L1290.9 1006.0L1291.4 994.4L1291.9 998.1L1292.5 989.1L1293.0 995.0L1293.5 1007.2L1294.0 1004.4L1294.5 998.3L1295.0 994.4L1295.5 981.8L1296.0 999.9L1296.6 1001.2L1297.1 1006.8L1297.6 1015.7L1298.1 1000.5L1298.6 1005.9L1299.1 986.6L1299.6 1008.2L1300.2 1005.0L1300.7 1009.6L1301.2 1003.3L1301.7 1001.2L1302.2 1010.7L1302.7 990.8L1303.2 1003.0L1303.8 1007.1L1304.3 989.7L1304.8 986.3L1305.3 1001.0L1305.8 998.2L1306.3 1002.7L1306.8 1003.0L1307.3 990.0L1307.9 1000.2L1308.4 1007.5L1308.9 993.8L1309.4 994.4L1309.9 986.7L1310.4 1004.6L1310.9 1015.1L1311.5 984.4L1312.0 1004.1L1312.5 1005.5L1313.0 991.9L1313.5 993.7L1314.0 987.5L1314.5 989.9L1315.1 998.7L1315.6 1003.2L1316.1 998.2L1316.6 1005.0L1317.1 999.0L1317.6 986.3L1318.1 1010.6L1318.7 1008.1L1319.2 990.6L1319.7 1013.5L1320.2 1001.5L1320.7 998.4L1321.2 1014.9L1321.7 974.1L1322.2 982.3L1322.8 1003.8L1323.3 994.9L1323.8 988.4L1324.3 1011.1L1324.8 1001.7L1325.3 985.4L1325.8 991.1L1326.4 1005.0L1326.9 1013.7L1327.4 978.7L1327.9 999.5L1328.4 993.7L1328.9 981.1L1329.4 995.7L1330.0 982.4L1330.5 992.3L1331.0 1012.2L1331.5 1002.0L1332.0 1004.5L1332.5 1002.8L1333.0 1000.6L1333.5 1006.3L1334.1 986.5L1334.6 994.0L1335.1 1005.2L1335.6 990.6L1336.1 993.3L1336.6 1008.5L1337.1 1011.5L1337.7 991.7L1338.2 989.8L1338.7 1002.7L1339.2 999.8L1339.7 991.1L1340.2 1002.9L1340.7 1002.5L1341.3 998.1L1341.8 1024.5L1342.3 1009.9L1342.8 1004.9L1343.3 1006.8L1343.8 1024.8L1344.3 1007.5L1344.9 990.7L1345.4 1000.3L1345.9 998.1L1346.4 992.1L1346.9 999.8L1347.4 999.7L1347.9 996.9L1348.4 992.9L1349.0 1005.1L1349.5 982.6L1350.0 1005.0L1350.5 997.5L1351.0 999.9L1351.5 975.4L1352.0 1013.0L1352.6 981.3L1353.1 989.4L1353.6 1003.3L1354.1 991.7L1354.6 993.6L1355.1 976.6L1355.6 993.2L1356.2 999.2L1356.7 1003.5L1357.2 994.6L1357.7 999.2L1358.2 1001.2L1358.7 990.9L1359.2 990.1L1359.7 1015.3L1360.3 989.1L1360.8 1008.4L1361.3 997.6L1361.8 1010.6L1362.3 990.9L1362.8 1001.6L1363.3 999.9L1363.9 994.6L1364.4 999.6L1364.9 989.5L1365.4 995.8L1365.9 992.8L1366.4 1003.6L1366.9 995.6L1367.5 983.4L1368.0 992.9L1368.5 995.4L1369.0 987.8L1369.5 1008.5L1370.0 999.9L1370.5 1003.9L1371.1 988.9L1371.6 992.2L1372.1 1005.2L1372.6 982.5L1373.1 999.1L1373.6 996.5L1374.1 990.9L1374.6 996.4L1375.2 985.4L1375.7 997.5L1376.2 984.0L1376.7 983.4L1377.2 1008.2L1377.7 988.6L1378.2 975.4L1378.8 1004.1L1379.3 987.7L1379.8 962.0L1380.3 994.3L1380.8 1003.4L1381.3 998.0L1381.8 1010.7L1382.4 993.4L1382.9 1000.1L1383.4 985.0L1383.9 995.9L1384.4 1008.6L1384.9 999.0L1385.4 995.7L1385.9 975.7L1386.5 990.6L1387.0 982.0L1387.5 1001.3L1388.0 987.0L1388.5 997.3L1389.0 984.5L1389.5 1011.4L1390.1 982.7L1390.6 995.0L1391.1 1018.2L1391.6 995.6L1392.1 985.4L1392.6 999.2L1393.1 1002.7L1393.7 1001.6L1394.2 974.9L1394.7 995.3L1395.2 973.3L1395.7 1011.0L1396.2 993.9L1396.7 988.8L1397.2 999.4L1397.8 997.7L1398.3 981.9L1398.8 1008.3L1399.3 990.7L1399.8 976.4L1400.3 1006.0L1400.8 1007.3L1401.4 1004.6L1401.9 997.9L1402.4 984.3L1402.9 1001.5L1403.4 1010.1L1403.9 1000.3L1404.4 1007.6L1405.0 985.2L1405.5 1002.1L1406.0 1001.3L1406.5 978.4L1407.0 977.1L1407.5 985.6L1408.0 993.1L1408.6 996.6L1409.1 990.1L1409.6 991.6L1410.1 991.1L1410.6 993.0L1411.1 997.6L1411.6 996.8L1412.1 991.5L1412.7 994.4L1413.2 987.7L1413.7 999.5L1414.2 987.1L1414.7 1007.4L1415.2 991.6L1415.7 994.4L1416.3 984.6L1416.8 988.5L1417.3 993.2L1417.8 991.8L1418.3 985.7L1418.8 980.6L1419.3 991.9L1419.9 993.0L1420.4 996.7L1420.9 1003.2L1421.4 988.4L1421.9 972.5L1422.4 990.0L1422.9 973.8L1423.4 979.1L1424.0 1001.0L1424.5 996.6L1425.0 985.0L1425.5 985.1L1426.0 990.2L1426.5 974.4L1427.0 995.6L1427.6 987.7L1428.1 1008.4L1428.6 980.9L1429.1 1000.4L1429.6 984.4L1430.1 1000.5L1430.6 981.5L1431.2 997.7L1431.7 986.5L1432.2 982.8L1432.7 989.2L1433.2 995.1L1433.7 994.4L1434.2 1005.5L1434.8 998.3L1435.3 965.4L1435.8 986.6L1436.3 971.5L1436.8 986.7L1437.3 996.3L1437.8 977.6L1438.3 979.1L1438.9 991.6L1439.4 987.5L1439.9 1005.2L1440.4 993.2L1440.9 995.2L1441.4 1006.8L1441.9 985.3L1442.5 990.0L1443.0 980.6L1443.5 992.5L1444.0 999.8L1444.5 1003.0L1445.0 989.6L1445.5 983.1L1446.1 982.6L1446.6 976.6L1447.1 991.0L1447.6 1002.7L1448.1 967.2L1448.6 969.0L1449.1 1003.1L1449.6 974.4L1450.2 992.8L1450.7 977.6L1451.2 997.1L1451.7 997.1L1452.2 991.2L1452.7 997.4L1453.2 990.0L1453.8 994.9L1454.3 1006.9L1454.8 999.9L1455.3 983.1L1455.8 981.7L1456.3 987.1L1456.8 987.1L1457.4 990.0L1457.9 983.5L1458.4 995.4L1458.9 989.5L1459.4 992.6L1459.9 989.2L1460.4 994.9L1461.0 977.6L1461.5 1004.1L1462.0 992.3L1462.5 993.2L1463.0 994.7L1463.5 999.2L1464.0 995.8L1464.5 991.0L1465.1 986.9L1465.6 972.9L1466.1 990.6L1466.6 985.5L1467.1 985.4L1467.6 1011.4L1468.1 970.5L1468.7 988.8L1469.2 999.7L1469.7 997.3L1470.2 999.8L1470.7 975.7L1471.2 978.6L1471.7 993.6L1472.3 984.8L1472.8 1003.9L1473.3 989.6L1473.8 989.1L1474.3 991.4L1474.8 984.4L1475.3 988.1L1475.8 980.3L1476.4 986.3L1476.9 981.9L1477.4 988.9L1477.9 972.7L1478.4 971.9L1478.9 990.5L1479.4 988.1L1480.0 976.5L1480.5 983.5L1481.0 975.5L1481.5 1005.0L1482.0 970.2L1482.5 1001.5L1483.0 977.1L1483.6 988.9L1484.1 982.2L1484.6 980.9L1485.1 993.4L1485.6 992.1L1486.1 981.3L1486.6 975.2L1487.1 1003.7L1487.7 997.2L1488.2 984.9L1488.7 980.5L1489.2 986.1L1489.7 983.9L1490.2 994.5L1490.7 973.6L1491.3 982.9L1491.8 975.0L1492.3 995.0L1492.8 999.6L1493.3 981.2L1493.8 987.1L1494.3 995.3L1494.9 978.7L1495.4 972.4L1495.9 991.2L1496.4 985.9L1496.9 978.8L1497.4 994.7L1497.9 982.7L1498.5 963.1L1499.0 983.4L1499.5 979.3L1500.0 997.8L1500.5 979.3L1501.0 977.2L1501.5 983.2L1502.0 981.1L1502.6 964.9L1503.1 979.5L1503.6 974.9L1504.1 991.5L1504.6 1000.9L1505.1 966.6L1505.6 967.9L1506.2 968.9L1506.7 970.4L1507.2 969.9L1507.7 976.9L1508.2 986.7L1508.7 963.3L1509.2 960.8L1509.8 957.6L1510.3 986.0L1510.8 987.9L1511.3 960.0L1511.8 958.8L1512.3 975.7L1512.8 984.9L1513.3 983.9L1513.9 975.8L1514.4 980.3L1514.9 976.7L1515.4 968.0L1515.9 991.7L1516.4 973.0L1516.9 962.0L1517.5 968.1L1518.0 957.5L1518.5 972.5L1519.0 982.9L1519.5 959.8L1520.0 982.9L1520.5 992.2L1521.1 975.4L1521.6 960.4L1522.1 963.2L1522.6 968.2L1523.1 958.9L1523.6 959.1L1524.1 968.7L1524.7 969.4L1525.2 977.0L1525.7 959.3L1526.2 989.2L1526.7 981.3L1527.2 979.6L1527.7 964.6L1528.2 987.9L1528.8 967.6L1529.3 988.7L1529.8 981.4L1530.3 962.3L1530.8 966.7L1531.3 989.5L1531.8 981.1L1532.4 969.9L1532.9 973.6L1533.4 973.6L1533.9 964.3L1534.4 970.1L1534.9 965.7L1535.4 968.2L1536.0 977.0L1536.5 963.4L1537.0 979.9L1537.5 974.1L1538.0 980.7L1538.5 982.1L1539.0 985.8L1539.5 980.0L1540.1 981.0L1540.6 972.6L1541.1 980.1L1541.6 966.1L1542.1 972.6L1542.6 982.5L1543.1 975.0L1543.7 980.0L1544.2 965.7L1544.7 989.4L1545.2 970.8L1545.7 980.4L1546.2 976.6L1546.7 986.1L1547.3 973.5L1547.8 967.7L1548.3 959.2L1548.8 974.9L1549.3 966.4L1549.8 983.4L1550.3 992.3L1550.9 957.0L1551.4 966.2L1551.9 981.8L1552.4 990.9L1552.9 982.0L1553.4 982.3L1553.9 984.2L1554.4 985.0L1555.0 995.4L1555.5 985.6L1556.0 967.8L1556.5 975.3L1557.0 982.0L1557.5 972.3L1558.0 977.7L1558.6 975.3L1559.1 973.7L1559.6 987.3L1560.1 977.0L1560.6 970.3L1561.1 974.0L1561.6 981.5L1562.2 1001.7L1562.7 983.8L1563.2 995.8L1563.7 986.3L1564.2 960.9L1564.7 985.5L1565.2 973.7L1565.7 968.9L1566.3 971.7L1566.8 999.5L1567.3 967.1L1567.8 976.5L1568.3 993.8L1568.8 989.1L1569.3 966.2L1569.9 981.8L1570.4 978.0L1570.9 981.2L1571.4 990.5L1571.9 977.7L1572.4 980.3L1572.9 997.6L1573.5 965.7L1574.0 980.1L1574.5 988.3L1575.0 971.8L1575.5 977.8L1576.0 971.3L1576.5 985.6L1577.0 978.2L1577.6 991.9L1578.1 994.3L1578.6 984.9L1579.1 980.9L1579.6 987.1L1580.1 985.2L1580.6 973.0L1581.2 995.2L1581.7 987.1L1582.2 992.6L1582.7 971.9L1583.2 993.6L1583.7 1005.6L1584.2 991.2L1584.8 971.3L1585.3 985.7L1585.8 984.8L1586.3 987.6L1586.8 983.3L1587.3 990.4L1587.8 981.1L1588.4 987.9L1588.9 979.0L1589.4 986.7L1589.9 995.4L1590.4 981.1L1590.9 992.3L1591.4 977.3L1591.9 982.3L1592.5 983.7L1593.0 998.0L1593.5 978.6L1594.0 997.8L1594.5 971.9L1595.0 984.6L1595.5 995.0L1596.1 992.9L1596.6 976.4L1597.1 974.4L1597.6 994.7L1598.1 974.1L1598.6 991.9L1599.1 981.3L1599.7 986.2L1600.2 1008.8L1600.7 1001.4L1601.2 994.6L1601.7 973.1L1602.2 989.6L1602.7 987.0L1603.2 985.6L1603.8 999.5L1604.3 969.9L1604.8 989.7L1605.3 987.8L1605.8 979.4L1606.3 1003.4L1606.8 974.4L1607.4 987.0L1607.9 987.5L1608.4 965.5L1608.9 972.9L1609.4 977.4L1609.9 994.5L1610.4 996.0L1611.0 992.6L1611.5 989.2L1612.0 965.6L1612.5 989.0L1613.0 982.0L1613.5 998.3L1614.0 1000.0L1614.6 1008.7L1615.1 993.9L1615.6 994.9L1616.1 977.0L1616.6 987.8L1617.1 975.1L1617.6 995.8L1618.1 975.5L1618.7 985.0L1619.2 979.2L1619.7 982.6L1620.2 991.6L1620.7 981.7L1621.2 989.3L1621.7 977.5L1622.3 1000.8L1622.8 981.0L1623.3 997.1L1623.8 1008.0L1624.3 963.6L1624.8 977.7L1625.3 985.3L1625.9 998.7L1626.4 982.6L1626.9 991.0L1627.4 980.3L1627.9 992.8L1628.4 975.6L1628.9 995.5L1629.4 958.3L1630.0 969.0L1630.5 1005.1L1631.0 989.1L1631.5 978.7L1632.0 1008.9L1632.5 997.7L1633.0 998.5L1633.6 983.4L1634.1 993.6L1634.6 992.5L1635.1 971.4L1635.6 993.3L1636.1 985.8L1636.6 1000.1L1637.2 1000.3L1637.7 981.3L1638.2 981.7L1638.7 989.5L1639.2 994.0L1639.7 983.6L1640.2 986.5L1640.8 993.6L1641.3 991.8L1641.8 999.0L1642.3 990.0L1642.8 979.0L1643.3 970.5L1643.8 995.6L1644.3 984.4L1644.9 984.3L1645.4 984.9L1645.9 972.4L1646.4 983.9L1646.9 962.3L1647.4 983.8L1647.9 979.0L1648.5 1005.8L1649.0 992.2L1649.5 985.7L1650.0 989.4L1650.5 995.0L1651.0 980.4L1651.5 985.6L1652.1 984.4L1652.6 1012.2L1653.1 988.6L1653.6 968.6L1654.1 995.7L1654.6 1013.3L1655.1 978.5L1655.6 1022.0L1656.2 987.3L1656.7 997.7L1657.2 982.4L1657.7 985.3L1658.2 975.8L1658.7 977.6L1659.2 966.9L1659.8 999.2L1660.3 976.7L1660.8 991.6L1661.3 991.2L1661.8 981.6L1662.3 988.5L1662.8 987.1L1663.4 983.1L1663.9 988.5L1664.4 988.5L1664.9 978.0L1665.4 975.3L1665.9 979.7L1666.4 989.3L1666.9 1001.7L1667.5 1002.6L1668.0 991.2L1668.5 997.4L1669.0 989.3L1669.5 999.0L1670.0 989.4L1670.5 992.0L1671.1 985.3L1671.6 988.1L1672.1 1006.9L1672.6 976.3L1673.1 988.2L1673.6 982.3L1674.1 997.7L1674.7 1006.1L1675.2 985.1L1675.7 960.8L1676.2 994.3L1676.7 994.3L1677.2 971.6L1677.7 985.8L1678.3 987.6L1678.8 965.4L1679.3 994.9L1679.8 992.6L1680.3 990.6L1680.8 977.7L1681.3 981.2L1681.8 982.0L1682.4 993.0L1682.9 978.5L1683.4 1002.8L1683.9 992.0L1684.4 966.7L1684.9 1005.0L1685.4 989.9L1686.0 982.8L1686.5 989.3L1687.0 970.2L1687.5 990.2L1688.0 963.9L1688.5 978.2L1689.0 1001.8L1689.6 1000.8L1690.1 984.9L1690.6 978.7L1691.1 997.6L1691.6 987.8L1692.1 990.4L1692.6 994.6L1693.1 977.6L1693.7 996.2L1694.2 967.3L1694.7 1002.9L1695.2 972.7L1695.7 982.1L1696.2 981.7L1696.7 995.6L1697.3 995.8L1697.8 991.9L1698.3 993.7L1698.8 993.0L1699.3 987.6L1699.8 969.3L1700.3 965.4L1700.9 965.4L1701.4 987.9L1701.9 986.1L1702.4 987.0L1702.9 990.6L1703.4 986.0L1703.9 978.4L1704.5 973.4L1705.0 969.4L1705.5 1000.5L1706.0 997.4L1706.5 974.8L1707.0 985.6L1707.5 992.7L1708.0 1004.2L1708.6 982.3L1709.1 990.1L1709.6 999.9L1710.1 971.0L1710.6 981.0L1711.1 987.9L1711.6 981.1L1712.2 1009.4L1712.7 997.0L1713.2 990.3L1713.7 978.7L1714.2 997.0L1714.7 994.6L1715.2 983.2L1715.8 984.0L1716.3 973.7L1716.8 987.5L1717.3 997.0L1717.8 998.3L1718.3 994.1L1718.8 996.5L1719.3 982.4L1719.9 983.6L1720.4 1000.3L1720.9 992.8L1721.4 980.3L1721.9 993.3L1722.4 996.6L1722.9 995.3L1723.5 989.3L1724.0 983.1L1724.5 992.2L1725.0 1005.2L1725.5 989.7L1726.0 981.6L1726.5 991.6L1727.1 975.9L1727.6 990.5L1728.1 985.2L1728.6 997.7L1729.1 989.2L1729.6 998.7L1730.1 1011.1L1730.7 986.0L1731.2 979.8L1731.7 992.7L1732.2 987.3L1732.7 989.5L1733.2 982.1L1733.7 993.7L1734.2 988.8L1734.8 966.6L1735.3 985.7L1735.8 991.4L1736.3 999.8L1736.8 982.3L1737.3 980.1L1737.8 999.5L1738.4 982.0L1738.9 989.1L1739.4 992.7L1739.9 995.3L1740.4 988.1L1740.9 976.9L1741.4 998.0L1742.0 983.6L1742.5 982.8L1743.0 1007.9L1743.5 996.7L1744.0 977.4L1744.5 983.1L1745.0 985.5L1745.5 980.4L1746.1 968.8L1746.6 995.8L1747.1 995.6L1747.6 990.3L1748.1 983.8L1748.6 989.9L1749.1 994.2L1749.7 977.4L1750.2 984.5L1750.7 982.2L1751.2 994.7L1751.7 990.4L1752.2 974.8L1752.7 981.6L1753.3 1005.3L1753.8 978.1L1754.3 989.2L1754.8 981.4L1755.3 1000.1L1755.8 987.0L1756.3 983.3L1756.8 976.0L1757.4 985.2L1757.9 995.8L1758.4 994.3L1758.9 974.5L1759.4 1003.1L1759.9 985.1L1760.4 977.1L1761.0 988.8L1761.5 981.4L1762.0 981.8L1762.5 981.2L1763.0 986.6L1763.5 982.5L1764.0 970.5L1764.6 992.6L1765.1 982.3L1765.6 999.3L1766.1 992.7L1766.6 993.5L1767.1 989.2L1767.6 1000.2L1768.2 984.1L1768.7 977.5L1769.2 990.8L1769.7 960.4L1770.2 983.7L1770.7 989.5L1771.2 983.2L1771.7 999.8L1772.3 994.2L1772.8 988.4L1773.3 983.3L1773.8 998.1L1774.3 980.5L1774.8 983.1L1775.3 994.6L1775.9 993.1L1776.4 1007.4L1776.9 985.1L1777.4 968.6L1777.9 993.7L1778.4 999.6L1778.9 985.5L1779.5 1002.6L1780.0 1004.8L1780.5 980.6L1781.0 982.4L1781.5 974.8L1782.0 992.5L1782.5 994.2L1783.0 993.1L1783.6 974.9L1784.1 979.6L1784.6 972.9L1785.1 971.2L1785.6 973.8L1786.1 971.4L1786.6 985.3L1787.2 991.3L1787.7 993.2L1788.2 986.9L1788.7 980.4L1789.2 986.9L1789.7 992.7L1790.2 984.1L1790.8 987.6L1791.3 984.0L1791.8 981.9L1792.3 987.4L1792.8 976.0L1793.3 997.4L1793.8 971.6L1794.4 991.6L1794.9 973.6L1795.4 1001.9L1795.9 995.6L1796.4 979.0L1796.9 982.6L1797.4 975.9L1797.9 986.4L1798.5 991.1L1799.0 1012.2L1799.5 973.5L1800.0 999.2L1800.5 981.3L1801.0 989.7L1801.5 995.7L1802.1 992.4L1802.6 991.2L1803.1 985.1L1803.6 986.9L1804.1 988.5L1804.6 998.8L1805.1 972.5L1805.7 982.2L1806.2 974.7L1806.7 977.5L1807.2 979.1L1807.7 997.8L1808.2 1008.1L1808.7 1000.3L1809.2 975.3L1809.8 987.7L1810.3 975.8L1810.8 991.4L1811.3 999.5L1811.8 992.8L1812.3 995.6L1812.8 985.5L1813.4 967.6L1813.9 967.5L1814.4 986.0L1814.9 992.7L1815.4 999.5L1815.9 983.6L1816.4 987.7L1817.0 989.5L1817.5 997.5L1818.0 986.3L1818.5 976.2L1819.0 997.6L1819.5 991.0L1820.0 990.8L1820.6 974.5L1821.1 986.9L1821.6 970.1L1822.1 967.3L1822.6 984.7L1823.1 982.7L1823.6 992.6L1824.1 1001.2L1824.7 986.7L1825.2 1004.6L1825.7 981.2L1826.2 994.5L1826.7 974.5L1827.2 988.2L1827.7 983.9L1828.3 984.9L1828.8 992.8L1829.3 968.5L1829.8 988.1L1830.3 979.0L1830.8 988.1L1831.3 990.9L1831.9 983.3L1832.4 983.3L1832.9 975.7L1833.4 992.4L1833.9 980.4L1834.4 991.4L1834.9 973.0L1835.4 1000.4L1836.0 977.0L1836.5 998.4L1837.0 982.6L1837.5 992.4L1838.0 985.6L1838.5 993.7L1839.0 987.0L1839.6 999.5L1840.1 993.6L1840.6 993.7L1841.1 1003.4L1841.6 980.1L1842.1 999.8L1842.6 987.7L1843.2 972.5L1843.7 991.7L1844.2 985.0L1844.7 1003.6L1845.2 982.2L1845.7 987.5L1846.2 989.3L1846.7 968.3L1847.3 992.0L1847.8 977.2L1848.3 1000.8L1848.8 1003.4L1849.3 986.9L1849.8 971.4L1850.3 988.8L1850.9 988.7L1851.4 994.1L1851.9 984.1L1852.4 975.3L1852.9 985.6L1853.4 977.9L1853.9 1004.4L1854.5 980.1L1855.0 980.6L1855.5 986.5L1856.0 974.8L1856.5 982.6L1857.0 985.7L1857.5 982.2L1858.1 984.5L1858.6 999.2L1859.1 991.3L1859.6 973.9L1860.1 982.8L1860.6 994.3L1861.1 980.6L1861.6 987.8L1862.2 986.7L1862.7 992.2L1863.2 985.2L1863.7 985.6L1864.2 978.6L1864.7 990.5L1865.2 977.9L1865.8 1004.0L1866.3 986.8L1866.8 984.8L1867.3 994.7L1867.8 986.2L1868.3 987.9L1868.8 986.5L1869.4 979.9L1869.9 978.0L1870.4 980.1L1870.9 998.1L1871.4 980.8L1871.9 983.0L1872.4 982.6L1872.9 993.9L1873.5 1006.4L1874.0 977.9L1874.5 992.4L1875.0 988.2L1875.5 984.1L1876.0 992.0L1876.5 974.6L1877.1 995.2L1877.6 989.2L1878.1 977.3L1878.6 1002.7L1879.1 995.4L1879.6 998.5L1880.1 972.8L1880.7 984.4L1881.2 982.0L1881.7 993.2L1882.2 1000.4L1882.7 968.4L1883.2 987.3L1883.7 985.9L1884.3 996.9L1884.8 986.7L1885.3 974.7L1885.8 985.2L1886.3 977.0L1886.8 979.5L1887.3 987.6L1887.8 982.5L1888.4 989.9L1888.9 972.3L1889.4 1009.9L1889.9 999.6L1890.4 994.2L1890.9 974.6L1891.4 966.1L1892.0 978.8L1892.5 985.0L1893.0 1009.1L1893.5 1000.1L1894.0 982.1L1894.5 999.1L1895.0 999.3L1895.6 987.5L1896.1 999.2L1896.6 990.6L1897.1 980.9L1897.6 975.8L1898.1 986.1L1898.6 997.1L1899.1 974.1L1899.7 971.6L1900.2 992.8L1900.7 960.8L1901.2 1005.2L1901.7 983.1L1902.2 994.6L1902.7 1005.6L1903.3 973.3L1903.8 977.2L1904.3 1009.4L1904.8 984.7L1905.3 986.2L1905.8 989.7L1906.3 997.9L1906.9 1000.5L1907.4 988.6L1907.9 984.3L1908.4 987.2L1908.9 990.5L1909.4 1000.4L1909.9 988.9L1910.5 1005.4L1911.0 979.2L1911.5 992.8L1912.0 1004.8L1912.5 1000.2L1913.0 990.9L1913.5 979.0L1914.0 980.7L1914.6 986.1L1915.1 990.7L1915.6 985.3L1916.1 973.5L1916.6 980.5L1917.1 992.8L1917.6 995.9L1918.2 974.1L1918.7 984.2L1919.2 971.4L1919.7 982.3L1920.2 1022.4L1920.7 988.4L1921.2 984.4L1921.8 982.0L1922.3 976.0L1922.8 969.6L1923.3 987.4L1923.8 985.1L1924.3 1002.3L1924.8 971.8L1925.3 992.1L1925.9 1001.0L1926.4 968.7L1926.9 994.3L1927.4 972.1L1927.9 993.0L1928.4 1002.3L1928.9 987.9L1929.5 990.7L1930.0 981.1L1930.5 990.8L1931.0 999.0L1931.5 986.1L1932.0 986.6L1932.5 991.8L1933.1 996.0L1933.6 972.0L1934.1 988.5L1934.6 981.3L1935.1 992.8L1935.6 998.1L1936.1 991.0L1936.6 1000.6L1937.2 978.3L1937.7 984.0L1938.2 978.3L1938.7 988.6L1939.2 988.9L1939.7 986.1L1940.2 976.1L1940.8 987.3L1941.3 983.7L1941.8 993.9L1942.3 985.4L1942.8 999.4L1943.3 990.3L1943.8 969.8L1944.4 986.3L1944.9 974.0L1945.4 997.5L1945.9 1002.0L1946.4 987.7L1946.9 992.3L1947.4 973.9L1948.0 966.0L1948.5 982.6L1949.0 985.5L1949.5 973.2L1950.0 988.9L1950.5 991.1L1951.0 994.3L1951.5 1003.2L1952.1 995.9L1952.6 984.4L1953.1 989.0L1953.6 993.9L1954.1 977.8L1954.6 1001.0L1955.1 996.8L1955.7 985.8L1956.2 981.8L1956.7 1025.3L1957.2 996.3L1957.7 997.2L1958.2 1005.6L1958.7 997.6L1959.3 990.1L1959.8 994.9L1960.3 979.1L1960.8 995.0L1961.3 973.0L1961.8 992.2L1962.3 993.5L1962.8 972.8L1963.4 1006.8L1963.9 976.8L1964.4 998.3L1964.9 982.9L1965.4 991.1L1965.9 981.6L1966.4 1012.5L1967.0 998.2L1967.5 1005.8L1968.0 995.8L1968.5 994.9" stroke="#0000FF"/>
<path d="M170.5 825.0L171.0 820.3L171.5 830.6L172.0 825.1L172.6 821.3L173.1 806.4L173.6 819.5L174.1 830.6L174.6 817.5L175.1 827.5L175.6 821.5L176.2 810.7L176.7 812.2L177.2 814.3L177.7 819.8L178.2 820.2L178.7 837.1L179.2 810.3L179.7 798.6L180.3 832.0L180.8 818.2L181.3 822.4L181.8 855.1L182.3 841.9L182.8 831.3L183.3 835.8L183.9 825.8L184.4 836.1L184.9 817.1L185.4 816.0L185.9 819.1L186.4 844.1L186.9 843.9L187.5 817.6L188.0 839.3L188.5 823.3L189.0 838.4L189.5 821.5L190.0 837.1L190.5 824.1L191.0 822.0L191.6 825.3L192.1 827.6L192.6 818.6L193.1 809.1L193.6 846.5L194.1 821.1L194.6 803.8L195.2 798.3L195.7 791.8L196.2 818.6L196.7 842.7L197.2 806.3L197.7 822.3L198.2 803.9L198.8 839.8L199.3 830.8L199.8 830.4L200.3 842.9L200.8 846.6L201.3 839.1L201.8 819.6L202.4 810.5L202.9 814.0L203.4 805.4L203.9 848.9L204.4 824.6L204.9 828.5L205.4 829.4L205.9 851.7L206.5 820.3L207.0 841.6L207.5 831.0L208.0 825.5L208.5 804.0L209.0 838.7L209.5 818.5L210.1 822.1L210.6 830.5L211.1 829.0L211.6 841.7L212.1 820.0L212.6 830.3L213.1 831.9L213.7 828.9L214.2 837.1L214.7 825.9L215.2 843.8L215.7 820.7L216.2 811.9L216.7 829.2L217.2 844.2L217.8 823.8L218.3 822.6L218.8 826.2L219.3 832.6L219.8 828.6L220.3 834.7L220.8 810.2L221.4 849.5L221.9 838.5L222.4 821.1L222.9 848.4L223.4 837.3L223.9 849.9L224.4 817.8L225.0 852.3L225.5 832.8L226.0 807.3L226.5 841.6L227.0 828.8L227.5 820.2L228.0 829.9L228.5 808.9L229.1 839.6L229.6 829.8L230.1 829.2L230.6 849.6L231.1 832.8L231.6 824.2L232.1 820.6L232.7 831.4L233.2 845.0L233.7 824.9L234.2 819.2L234.7 842.9L235.2 832.3L235.7 831.2L236.3 856.7L236.8 816.5L237.3 833.5L237.8 809.3L238.3 827.2L238.8 837.8L239.3 844.2L239.9 814.9L240.4 840.4L240.9 839.7L241.4 828.5L241.9 859.8L242.4 829.7L242.9 818.8L243.4 834.6L244.0 806.6L244.5 848.2L245.0 841.1L245.5 824.0L246.0 836.3L246.5 835.2L247.0 852.2L247.6 821.0L248.1 812.6L248.6 803.5L249.1 824.6L249.6 809.0L250.1 825.9L250.6 833.0L251.2 822.4L251.7 816.2L252.2 842.2L252.7 825.1L253.2 830.3L253.7 839.0L254.2 811.3L254.7 815.9L255.3 857.6L255.8 825.1L256.3 814.2L256.8 823.7L257.3 819.7L257.8 811.6L258.3 821.6L258.9 826.3L259.4 826.2L259.9 832.9L260.4 805.1L260.9 807.9L261.4 835.8L261.9 820.6L262.5 840.9L263.0 829.6L263.5 808.6L264.0 832.4L264.5 813.3L265.0 828.9L265.5 840.7L266.1 851.4L266.6 824.7L267.1 834.0L267.6 829.1L268.1 835.1L268.6 794.2L269.1 820.6L269.6 828.9L270.2 831.0L270.7 816.0L271.2 835.3L271.7 838.7L272.2 826.1L272.7 822.4L273.2 820.8L273.8 826.8L274.3 839.6L274.8 843.4L275.3 819.3L275.8 813.7L276.3 815.3L276.8 837.1L277.4 827.7L277.9 828.6L278.4 830.9L278.9 829.5L279.4 823.4L279.9 812.2L280.4 817.3L280.9 826.3L281.5 829.6L282.0 820.3L282.5 819.7L283.0 841.5L283.5 819.0L284.0 827.4L284.5 820.7L285.1 814.1L285.6 806.0L286.1 817.9L286.6 814.4L287.1 834.7L287.6 810.2L288.1 819.1L288.7 831.9L289.2 822.4L289.7 829.6L290.2 833.5L290.7 802.8L291.2 817.8L291.7 810.8L292.3 838.7L292.8 820.5L293.3 827.7L293.8 842.0L294.3 816.6L294.8 821.5L295.3 825.2L295.8 816.5L296.4 834.8L296.9 829.0L297.4 830.9L297.9 818.8L298.4 813.6L298.9 813.0L299.4 812.5L300.0 796.4L300.5 820.6L301.0 825.7L301.5 815.2L302.0 808.8L302.5 814.9L303.0 816.8L303.6 817.7L304.1 835.4L304.6 802.4L305.1 817.0L305.6 820.7L306.1 812.8L306.6 808.6L307.1 798.6L307.7 803.5L308.2 819.1L308.7 828.0L309.2 801.7L309.7 815.2L310.2 815.5L310.7 821.2L311.3 811.4L311.8 813.5L312.3 818.7L312.8 793.0L313.3 807.6L313.8 785.0L314.3 782.1L314.9 795.8L315.4 786.7L315.9 811.5L316.4 817.2L316.9 800.8L317.4 802.5L317.9 801.0L318.4 800.3L319.0 804.9L319.5 807.2L320.0 796.8L320.5 792.5L321.0 795.4L321.5 811.4L322.0 795.9L322.6 818.7L323.1 797.5L323.6 817.0L324.1 785.0L324.6 790.9L325.1 805.0L325.6 804.8L326.2 796.5L326.7 823.4L327.2 798.7L327.7 801.1L328.2 790.2L328.7 817.5L329.2 807.3L329.8 801.5L330.3 775.9L330.8 800.3L331.3 789.8L331.8 800.2L332.3 806.3L332.8 785.5L333.3 797.2L333.9 805.1L334.4 795.9L334.9 789.5L335.4 780.2L335.9 784.8L336.4 777.0L336.9 804.7L337.5 793.4L338.0 776.8L338.5 791.4L339.0 775.2L339.5 750.1L340.0 805.5L340.5 804.7L341.1 771.5L341.6 780.5L342.1 791.5L342.6 783.8L343.1 777.5L343.6 781.4L344.1 784.3L344.6 780.0L345.2 789.0L345.7 783.0L346.2 775.8L346.7 785.0L347.2 763.3L347.7 801.3L348.2 760.8L348.8 780.7L349.3 785.2L349.8 785.3L350.3 782.5L350.8 794.3L351.3 763.5L351.8 775.8L352.4 777.7L352.9 768.8L353.4 766.8L353.9 789.7L354.4 763.7L354.9 766.0L355.4 767.9L356.0 768.1L356.5 772.2L357.0 767.0L357.5 773.8L358.0 770.3L358.5 774.2L359.0 785.0L359.5 756.5L360.1 787.6L360.6 760.6L361.1 774.3L361.6 767.4L362.1 761.1L362.6 739.5L363.1 784.2L363.7 753.6L364.2 752.5L364.7 775.3L365.2 762.1L365.7 784.5L366.2 780.8L366.7 767.3L367.3 760.1L367.8 765.2L368.3 737.1L368.8 754.5L369.3 752.5L369.8 742.9L370.3 750.6L370.8 727.0L371.4 755.9L371.9 759.5L372.4 725.0L372.9 742.4L373.4 759.4L373.9 743.7L374.4 723.8L375.0 723.3L375.5 746.2L376.0 757.9L376.5 719.0L377.0 732.6L377.5 721.0L378.0 726.5L378.6 733.2L379.1 727.7L379.6 718.3L380.1 753.8L380.6 723.2L381.1 721.9L381.6 737.8L382.2 722.4L382.7 718.6L383.2 732.7L383.7 705.7L384.2 728.1L384.7 730.9L385.2 725.1L385.7 713.1L386.3 714.4L386.8 691.0L387.3 711.0L387.8 715.7L388.3 722.5L388.8 712.1L389.3 704.4L389.9 697.7L390.4 707.4L390.9 709.1L391.4 722.7L391.9 706.1L392.4 698.7L392.9 703.2L393.5 697.6L394.0 700.3L394.5 673.5L395.0 681.0L395.5 685.7L396.0 707.2L396.5 699.4L397.0 701.8L397.6 714.7L398.1 684.7L398.6 713.3L399.1 702.6L399.6 687.4L400.1 716.2L400.6 676.6L401.2 680.0L401.7 691.7L402.2 699.3L402.7 690.7L403.2 664.0L403.7 687.9L404.2 690.1L404.8 724.7L405.3 708.3L405.8 690.8L406.3 673.8L406.8 692.3L407.3 671.4L407.8 689.0L408.3 690.5L408.9 679.4L409.4 687.4L409.9 678.9L410.4 674.9L410.9 702.5L411.4 688.9L411.9 676.1L412.5 669.1L413.0 681.1L413.5 685.6L414.0 688.7L414.5 696.3L415.0 681.8L415.5 659.6L416.1 701.5L416.6 689.0L417.1 683.7L417.6 689.8L418.1 650.5L418.6 664.9L419.1 662.2L419.7 684.5L420.2 651.4L420.7 662.3L421.2 686.6L421.7 673.9L422.2 658.9L422.7 689.1L423.2 644.3L423.8 667.8L424.3 657.6L424.8 666.8L425.3 655.1L425.8 646.5L426.3 660.0L426.8 638.0L427.4 662.5L427.9 650.0L428.4 666.2L428.9 646.5L429.4 642.6L429.9 656.7L430.4 667.5L431.0 621.1L431.5 650.7L432.0 657.1L432.5 628.1L433.0 634.9L433.5 655.4L434.0 634.4L434.5 636.4L435.1 668.5L435.6 630.9L436.1 631.4L436.6 610.7L437.1 627.1L437.6 624.6L438.1 665.0L438.7 657.6L439.2 622.4L439.7 666.9L440.2 649.7L440.7 635.9L441.2 649.2L441.7 642.7L442.3 626.2L442.8 611.8L443.3 623.1L443.8 635.2L444.3 629.8L444.8 623.9L445.3 647.3L445.9 618.2L446.4 645.1L446.9 625.4L447.4 633.1L447.9 615.4L448.4 630.5L448.9 619.2L449.4 605.2L450.0 629.0L450.5 628.1L451.0 640.1L451.5 632.1L452.0 613.5L452.5 618.8L453.0 592.1L453.6 611.1L454.1 644.8L454.6 647.6L455.1 636.8L455.6 630.1L456.1 633.8L456.6 632.2L457.2 600.7L457.7 612.6L458.2 641.4L458.7 641.1L459.2 627.7L459.7 619.7L460.2 618.5L460.7 616.0L461.3 610.4L461.8 596.1L462.3 625.3L462.8 616.6L463.3 619.8L463.8 646.9L464.3 630.9L464.9 612.5L465.4 630.4L465.9 600.8L466.4 636.8L466.9 625.5L467.4 618.9L467.9 629.5L468.5 641.9L469.0 614.5L469.5 607.0L470.0 650.8L470.5 620.9L471.0 641.7L471.5 610.7L472.1 625.5L472.6 610.9L473.1 628.9L473.6 615.8L474.1 610.1L474.6 641.6L475.1 624.3L475.6 590.5L476.2 615.9L476.7 606.1L477.2 601.8L477.7 610.8L478.2 612.3L478.7 619.5L479.2 607.8L479.8 592.6L480.3 611.6L480.8 631.8L481.3 600.0L481.8 628.4L482.3 626.3L482.8 613.6L483.4 624.7L483.9 609.8L484.4 615.1L484.9 606.6L485.4 628.0L485.9 641.2L486.4 612.4L486.9 639.4L487.5 592.5L488.0 610.6L488.5 609.2L489.0 648.4L489.5 616.0L490.0 635.9L490.5 596.1L491.1 627.2L491.6 634.1L492.1 625.9L492.6 588.3L493.1 630.0L493.6 639.6L494.1 647.5L494.7 635.2L495.2 606.3L495.7 628.1L496.2 644.6L496.7 621.1L497.2 641.5L497.7 627.7L498.2 636.6L498.8 646.9L499.3 627.2L499.8 678.5L500.3 641.2L500.8 644.8L501.3 630.4L501.8 642.6L502.4 638.9L502.9 623.0L503.4 622.9L503.9 649.2L504.4 644.8L504.9 609.9L505.4 617.5L506.0 644.0L506.5 648.2L507.0 658.5L507.5 633.4L508.0 659.8L508.5 648.1L509.0 646.1L509.6 652.0L510.1 668.6L510.6 663.4L511.1 668.8L511.6 647.6L512.1 654.1L512.6 642.7L513.1 651.9L513.7 654.9L514.2 654.8L514.7 671.9L515.2 668.7L515.7 674.1L516.2 666.2L516.7 680.0L517.3 667.5L517.8 680.0L518.3 674.4L518.8 678.3L519.3 667.9L519.8 652.5L520.3 650.3L520.9 697.9L521.4 677.0L521.9 678.4L522.4 670.7L522.9 667.3L523.4 713.7L523.9 659.4L524.4 674.6L525.0 675.3L525.5 661.0L526.0 659.7L526.5 668.0L527.0 673.4L527.5 672.0L528.0 690.3L528.6 663.5L529.1 685.6L529.6 700.6L530.1 693.2L530.6 665.9L531.1 641.5L531.6 693.8L532.2 689.5L532.7 675.2L533.2 701.0L533.7 678.5L534.2 685.9L534.7 670.7L535.2 689.6L535.8 679.9L536.3 679.3L536.8 701.3L537.3 690.0L537.8 667.2L538.3 697.4L538.8 699.8L539.3 677.7L539.9 684.1L540.4 690.7L540.9 687.2L541.4 692.8L541.9 700.4L542.4 685.6L542.9 721.0L543.5 683.8L544.0 686.7L544.5 721.2L545.0 727.4L545.5 696.3L546.0 693.9L546.5 682.6L547.1 713.1L547.6 700.6L548.1 687.5L548.6 705.0L549.1 718.6L549.6 710.0L550.1 731.1L550.6 717.6L551.2 708.5L551.7 702.8L552.2 711.2L552.7 720.7L553.2 716.5L553.7 719.8L554.2 709.2L554.8 717.1L555.3 723.7L555.8 705.9L556.3 691.4L556.8 732.3L557.3 717.7L557.8 704.6L558.4 714.2L558.9 708.4L559.4 689.7L559.9 710.5L560.4 694.6L560.9 716.9L561.4 713.3L562.0 730.4L562.5 714.4L563.0 721.6L563.5 713.3L564.0 712.9L564.5 700.0L565.0 732.2L565.5 722.0L566.1 712.7L566.6 723.8L567.1 716.2L567.6 712.8L568.1 726.2L568.6 739.6L569.1 720.7L569.7 706.2L570.2 717.5L570.7 749.8L571.2 716.2L571.7 743.1L572.2 725.1L572.7 738.6L573.3 728.1L573.8 709.6L574.3 725.5L574.8 759.2L575.3 730.5L575.8 740.3L576.3 729.2L576.8 732.5L577.4 739.1L577.9 741.8L578.4 765.2L578.9 736.8L579.4 735.3L579.9 729.8L580.4 722.0L581.0 718.8L581.5 749.0L582.0 717.0L582.5 760.0L583.0 753.6L583.5 739.3L584.0 728.9L584.6 744.9L585.1 745.5L585.6 760.4L586.1 737.0L586.6 742.3L587.1 747.2L587.6 745.0L588.1 741.2L588.7 727.9L589.2 729.5L589.7 742.5L590.2 749.0L590.7 765.3L591.2 782.8L591.7 775.8L592.3 759.5L592.8 779.1L593.3 754.3L593.8 749.7L594.3 786.6L594.8 744.1L595.3 753.0L595.9 755.6L596.4 778.2L596.9 752.7L597.4 770.9L597.9 756.4L598.4 746.8L598.9 766.0L599.5 765.8L600.0 749.7L600.5 754.1L601.0 755.7L601.5 778.6L602.0 772.9L602.5 770.8L603.0 774.7L603.6 763.1L604.1 775.9L604.6 762.9L605.1 754.4L605.6 763.1L606.1 775.2L606.6 774.4L607.2 787.2L607.7 753.4L608.2 772.5L608.7 780.9L609.2 764.5L609.7 780.3L610.2 772.7L610.8 764.4L611.3 793.1L611.8 762.4L612.3 792.8L612.8 775.8L613.3 769.8L613.8 771.1L614.3 773.5L614.9 772.7L615.4 787.1L615.9 761.1L616.4 800.3L616.9 795.7L617.4 803.1L617.9 774.2L618.5 758.1L619.0 779.6L619.5 785.7L620.0 791.9L620.5 782.2L621.0 788.0L621.5 791.2L622.1 770.6L622.6 812.4L623.1 776.6L623.6 794.0L624.1 804.4L624.6 781.8L625.1 791.8L625.7 812.2L626.2 788.9L626.7 805.5L627.2 796.5L627.7 796.1L628.2 802.4L628.7 791.0L629.2 791.5L629.8 806.2L630.3 797.8L630.8 801.0L631.3 780.5L631.8 795.6L632.3 810.6L632.8 807.0L633.4 800.4L633.9 790.1L634.4 789.1L634.9 802.3L635.4 814.5L635.9 797.9L636.4 813.5L637.0 794.1L637.5 812.7L638.0 786.0L638.5 800.7L639.0 785.6L639.5 806.9L640.0 806.1L640.5 787.7L641.1 790.4L641.6 794.3L642.1 781.7L642.6 788.8L643.1 789.7L643.6 810.0L644.1 817.6L644.7 795.5L645.2 797.6L645.7 803.9L646.2 795.1L646.7 798.3L647.2 812.0L647.7 804.8L648.3 801.2L648.8 795.4L649.3 820.5L649.8 795.3L650.3 804.5L650.8 790.6L651.3 796.1L651.9 804.7L652.4 799.0L652.9 810.4L653.4 804.9L653.9 787.5L654.4 776.4L654.9 816.7L655.4 797.7L656.0 823.0L656.5 805.3L657.0 796.0L657.5 812.3L658.0 802.4L658.5 806.0L659.0 794.7L659.6 813.9L660.1 819.6L660.6 800.1L661.1 828.2L661.6 799.9L662.1 809.9L662.6 787.3L663.2 783.9L663.7 832.8L664.2 824.8L664.7 821.6L665.2 787.3L665.7 810.7L666.2 813.2L666.7 809.2L667.3 812.0L667.8 797.5L668.3 806.8L668.8 795.1L669.3 804.8L669.8 813.7L670.3 799.9L670.9 806.2L671.4 804.4L671.9 810.0L672.4 821.1L672.9 813.0L673.4 815.1L673.9 793.1L674.5 806.2L675.0 820.6L675.5 800.5L676.0 805.9L676.5 799.6L677.0 827.5L677.5 806.1L678.0 803.0L678.6 819.4L679.1 825.4L679.6 818.3L680.1 824.3L680.6 815.2L681.1 811.3L681.6 807.8L682.2 807.1L682.7 806.3L683.2 818.1L683.7 812.5L684.2 815.1L684.7 821.5L685.2 813.8L685.8 798.2L686.3 805.4L686.8 801.7L687.3 792.4L687.8 816.8L688.3 801.3L688.8 800.6L689.4 803.2L689.9 826.8L690.4 812.9L690.9 828.8L691.4 815.9L691.9 812.0L692.4 824.2L692.9 824.8L693.5 819.2L694.0 805.7L694.5 812.8L695.0 804.4L695.5 815.6L696.0 820.0L696.5 836.9L697.1 836.2L697.6 827.6L698.1 831.1L698.6 822.7L699.1 853.2L699.6 838.5L700.1 852.1L700.7 825.2L701.2 825.8L701.7 833.6L702.2 823.5L702.7 825.1L703.2 809.8L703.7 832.9L704.2 823.5L704.8 831.7L705.3 819.6L705.8 801.2L706.3 828.5L706.8 836.5L707.3 807.5L707.8 811.4L708.4 819.5L708.9 820.3L709.4 803.2L709.9 844.5L710.4 835.7L710.9 816.5L711.4 802.4L712.0 828.5L712.5 847.9L713.0 834.3L713.5 838.3L714.0 813.5L714.5 827.6L715.0 807.2L715.6 848.7L716.1 832.1L716.6 800.4L717.1 803.6L717.6 831.4L718.1 827.5L718.6 822.3L719.1 833.4L719.7 850.1L720.2 830.7L720.7 805.1L721.2 824.7L721.7 811.2L722.2 817.3L722.7 830.8L723.3 825.1L723.8 814.6L724.3 827.0L724.8 817.7L725.3 833.8L725.8 824.8L726.3 832.4L726.9 824.7L727.4 836.8L727.9 826.4L728.4 828.0L728.9 821.5L729.4 830.0L729.9 807.4L730.4 860.1L731.0 820.5L731.5 829.8L732.0 823.1L732.5 823.0L733.0 833.6L733.5 822.9L734.0 824.0L734.6 812.8L735.1 818.2L735.6 815.4L736.1 850.6L736.6 813.6L737.1 816.8L737.6 831.8L738.2 846.5L738.7 809.7L739.2 811.4L739.7 831.3L740.2 833.9L740.7 813.2L741.2 808.8L741.8 818.8L742.3 839.0L742.8 829.8L743.3 839.1L743.8 829.1L744.3 830.1L744.8 837.8L745.3 829.2L745.9 833.4L746.4 819.9L746.9 823.7L747.4 836.4L747.9 828.1L748.4 822.1L748.9 838.8L749.5 837.5L750.0 831.0L750.5 822.2L751.0 841.8L751.5 860.7L752.0 821.6L752.5 813.2L753.1 822.2L753.6 820.4L754.1 816.5L754.6 817.5L755.1 841.5L755.6 841.7L756.1 849.1L756.6 840.4L757.2 826.0L757.7 844.5L758.2 824.5L758.7 827.6L759.2 817.9L759.7 846.2L760.2 843.6L760.8 826.2L761.3 828.0L761.8 832.1L762.3 834.1L762.8 841.7L763.3 832.5L763.8 836.4L764.4 814.0L764.9 828.1L765.4 810.5L765.9 852.6L766.4 848.1L766.9 840.0L767.4 844.7L767.9 855.2L768.5 842.6L769.0 812.7L769.5 829.0L770.0 803.6L770.5 821.8L771.0 816.7L771.5 831.2L772.1 835.9L772.6 820.3L773.1 827.9L773.6 834.5L774.1 829.3L774.6 829.1L775.1 802.7L775.7 825.9L776.2 840.4L776.7 834.1L777.2 813.5L777.7 827.8L778.2 834.1L778.7 819.4L779.3 838.9L779.8 821.4L780.3 826.9L780.8 829.5L781.3 857.1L781.8 827.0L782.3 824.0L782.8 839.2L783.4 825.1L783.9 833.0L784.4 804.0L784.9 834.2L785.4 830.4L785.9 815.4L786.4 846.6L787.0 827.8L787.5 828.3L788.0 815.0L788.5 811.4L789.0 823.8L789.5 812.6L790.0 836.4L790.6 840.8L791.1 823.1L791.6 811.6L792.1 826.0L792.6 818.2L793.1 832.8L793.6 833.0L794.1 825.9L794.7 831.9L795.2 843.4L795.7 851.3L796.2 825.2L796.7 840.0L797.2 828.7L797.7 819.2L798.3 846.9L798.8 836.5L799.3 833.7L799.8 836.3L800.3 830.3L800.8 819.9L801.3 853.4L801.9 843.2L802.4 835.8L802.9 844.1L803.4 848.0L803.9 830.6L804.4 840.0L804.9 829.3L805.5 840.8L806.0 830.3L806.5 862.0L807.0 829.2L807.5 839.5L808.0 838.9L808.5 829.6L809.0 844.5L809.6 832.5L810.1 828.6L810.6 833.4L811.1 824.5L811.6 847.3L812.1 840.4L812.6 844.4L813.2 816.7L813.7 835.5L814.2 823.0L814.7 832.8L815.2 846.6L815.7 834.2L816.2 828.8L816.8 843.8L817.3 842.2L817.8 851.7L818.3 807.5L818.8 833.0L819.3 823.9L819.8 818.1L820.3 829.4L820.9 813.9L821.4 800.9L821.9 816.3L822.4 823.6L822.9 848.5L823.4 817.5L823.9 811.9L824.5 802.0L825.0 821.1L825.5 822.1L826.0 826.5L826.5 807.3L827.0 815.1L827.5 796.9L828.1 825.7L828.6 804.7L829.1 790.4L829.6 836.7L830.1 828.6L830.6 826.5L831.1 826.2L831.7 809.4L832.2 834.3L832.7 808.8L833.2 843.8L833.7 823.4L834.2 798.5L834.7 830.6L835.2 843.6L835.8 816.7L836.3 832.3L836.8 816.7L837.3 811.5L837.8 787.9L838.3 833.4L838.8 813.0L839.4 822.7L839.9 804.3L840.4 806.8L840.9 830.9L841.4 812.7L841.9 812.3L842.4 801.8L843.0 819.2L843.5 825.8L844.0 810.7L844.5 813.8L845.0 801.1L845.5 832.4L846.0 807.9L846.5 813.3L847.1 835.2L847.6 812.0L848.1 795.8L848.6 803.1L849.1 809.8L849.6 835.4L850.1 816.5L850.7 810.9L851.2 823.4L851.7 829.0L852.2 804.0L852.7 830.4L853.2 823.3L853.7 818.3L854.3 784.1L854.8 815.1L855.3 829.5L855.8 809.3L856.3 840.6L856.8 813.5L857.3 800.3L857.8 819.9L858.4 816.3L858.9 822.8L859.4 810.1L859.9 828.6L860.4 806.1L860.9 814.5L861.4 797.9L862.0 803.3L862.5 815.6L863.0 805.2L863.5 807.8L864.0 810.9L864.5 816.5L865.0 822.9L865.6 823.0L866.1 826.2L866.6 816.4L867.1 807.4L867.6 794.9L868.1 810.0L868.6 804.7L869.2 792.4L869.7 834.6L870.2 792.4L870.7 819.2L871.2 821.8L871.7 812.3L872.2 846.7L872.7 815.7L873.3 806.3L873.8 837.2L874.3 806.3L874.8 798.9L875.3 804.5L875.8 809.3L876.3 818.1L876.9 822.1L877.4 800.1L877.9 823.4L878.4 846.8L878.9 811.8L879.4 819.5L879.9 830.2L880.5 837.1L881.0 815.2L881.5 812.4L882.0 812.7L882.5 838.8L883.0 837.3L883.5 801.2L884.0 802.3L884.6 814.0L885.1 811.6L885.6 835.3L886.1 833.8L886.6 855.3L887.1 842.1L887.6 834.7L888.2 848.0L888.7 823.9L889.2 818.5L889.7 836.1L890.2 847.5L890.7 817.5L891.2 848.0L891.8 848.1L892.3 832.5L892.8 841.0L893.3 836.3L893.8 841.1L894.3 850.2L894.8 831.7L895.4 854.0L895.9 852.5L896.4 853.5L896.9 820.0L897.4 821.8L897.9 852.5L898.4 837.8L898.9 837.1L899.5 836.7L900.0 830.3L900.5 843.2L901.0 838.5L901.5 839.7L902.0 853.4L902.5 834.3L903.1 861.8L903.6 822.7L904.1 878.6L904.6 833.5L905.1 856.6L905.6 860.7L906.1 850.2L906.7 859.3L907.2 849.5L907.7 830.4L908.2 855.3L908.7 865.0L909.2 845.3L909.7 832.1L910.2 845.2L910.8 856.3L911.3 856.3L911.8 866.0L912.3 859.8L912.8 859.4L913.3 830.3L913.8 880.0L914.4 854.7L914.9 864.4L915.4 850.5L915.9 853.0L916.4 855.6L916.9 873.5L917.4 873.0L918.0 862.7L918.5 878.8L919.0 851.1L919.5 862.0L920.0 850.7L920.5 871.3L921.0 856.7L921.6 867.8L922.1 876.6L922.6 832.3L923.1 882.0L923.6 860.4L924.1 853.0L924.6 834.4L925.1 853.3L925.7 829.9L926.2 857.9L926.7 854.8L927.2 878.2L927.7 853.0L928.2 869.4L928.7 870.5L929.3 881.0L929.8 853.9L930.3 865.8L930.8 839.0L931.3 843.9L931.8 853.7L932.3 856.6L932.9 842.6L933.4 852.0L933.9 865.1L934.4 851.5L934.9 855.1L935.4 846.4L935.9 873.1L936.4 877.8L937.0 859.3L937.5 855.6L938.0 876.5L938.5 862.5L939.0 849.0L939.5 841.1L940.0 850.0L940.6 882.6L941.1 849.8L941.6 890.7L942.1 856.7L942.6 854.1L943.1 872.1L943.6 853.6L944.2 860.9L944.7 844.1L945.2 841.6L945.7 847.5L946.2 858.7L946.7 848.2L947.2 832.8L947.7 861.4L948.3 853.7L948.8 852.3L949.3 848.2L949.8 828.8L950.3 873.9L950.8 849.4L951.3 861.2L951.9 871.3L952.4 868.0L952.9 856.9L953.4 854.5L953.9 857.8L954.4 864.7L954.9 860.6L955.5 848.3L956.0 858.7L956.5 857.6L957.0 861.1L957.5 855.1L958.0 868.6L958.5 854.5L959.1 862.4L959.6 852.1L960.1 844.5L960.6 839.8L961.1 848.9L961.6 856.8L962.1 865.2L962.6 848.8L963.2 843.4L963.7 843.2L964.2 864.3L964.7 849.9L965.2 842.4L965.7 856.8L966.2 832.0L966.8 848.8L967.3 846.5L967.8 845.1L968.3 832.6L968.8 857.6L969.3 865.6L969.8 829.4L970.4 846.2L970.9 852.1L971.4 870.9L971.9 838.6L972.4 831.8L972.9 842.7L973.4 866.4L973.9 842.7L974.5 844.6L975.0 862.3L975.5 815.0L976.0 814.2L976.5 850.6L977.0 848.6L977.5 822.2L978.1 844.6L978.6 838.5L979.1 840.1L979.6 827.4L980.1 831.2L980.6 825.7L981.1 836.4L981.7 832.6L982.2 855.3L982.7 842.2L983.2 815.2L983.7 838.8L984.2 850.7L984.7 836.3L985.3 845.7L985.8 831.7L986.3 840.2L986.8 820.0L987.3 840.4L987.8 813.8L988.3 845.7L988.8 811.3L989.4 803.6L989.9 835.3L990.4 826.3L990.9 829.4L991.4 832.8L991.9 826.8L992.4 816.0L993.0 828.9L993.5 830.2L994.0 831.5L994.5 849.3L995.0 815.7L995.5 825.0L996.0 830.6L996.6 817.9L997.1 808.3L997.6 815.6L998.1 835.1L998.6 818.3L999.1 828.7L999.6 811.7L1000.1 825.7L1000.7 811.5L1001.2 809.0L1001.7 820.3L1002.2 819.1L1002.7 836.1L1003.2 797.5L1003.7 823.3L1004.3 836.3L1004.8 832.7L1005.3 810.6L1005.8 806.3L1006.3 808.0L1006.8 817.2L1007.3 815.3L1007.9 816.7L1008.4 819.2L1008.9 797.9L1009.4 796.7L1009.9 794.9L1010.4 793.0L1010.9 808.0L1011.5 812.7L1012.0 840.0L1012.5 814.9L1013.0 808.2L1013.5 825.4L1014.0 798.5L1014.5 811.6L1015.0 819.3L1015.6 816.8L1016.1 811.9L1016.6 802.4L1017.1 791.1L1017.6 804.5L1018.1 798.8L1018.6 814.7L1019.2 804.2L1019.7 812.8L1020.2 785.6L1020.7 817.7L1021.2 794.9L1021.7 785.9L1022.2 788.1L1022.8 797.4L1023.3 819.2L1023.8 814.0L1024.3 790.4L1024.8 806.1L1025.3 803.7L1025.8 785.5L1026.3 792.7L1026.9 779.6L1027.4 794.2L1027.9 772.1L1028.4 795.2L1028.9 793.5L1029.4 795.3L1029.9 795.1L1030.5 819.8L1031.0 801.2L1031.5 808.6L1032.0 815.2L1032.5 817.1L1033.0 814.5L1033.5 799.3L1034.1 792.7L1034.6 796.8L1035.1 800.8L1035.6 806.9L1036.1 805.9L1036.6 820.9L1037.1 806.4L1037.6 830.5L1038.2 821.7L1038.7 803.8L1039.2 821.3L1039.7 776.1L1040.2 829.7L1040.7 818.8L1041.2 819.7L1041.8 795.2L1042.3 848.0L1042.8 814.9L1043.3 817.3L1043.8 833.8L1044.3 818.5L1044.8 811.5L1045.4 830.9L1045.9 811.5L1046.4 833.9L1046.9 827.5L1047.4 840.6L1047.9 813.3L1048.4 844.1L1049.0 833.7L1049.5 855.1L1050.0 824.4L1050.5 855.8L1051.0 842.9L1051.5 845.0L1052.0 827.8L1052.5 844.3L1053.1 846.6L1053.6 829.6L1054.1 826.7L1054.6 832.2L1055.1 859.8L1055.6 845.1L1056.1 855.2L1056.7 848.3L1057.2 846.9L1057.7 848.9L1058.2 842.0L1058.7 861.9L1059.2 850.0L1059.7 851.1L1060.3 832.6L1060.8 853.0L1061.3 841.8L1061.8 844.2L1062.3 862.8L1062.8 838.0L1063.3 848.9L1063.8 859.0L1064.4 865.5L1064.9 846.1L1065.4 856.3L1065.9 856.2L1066.4 839.8L1066.9 828.2L1067.4 831.0L1068.0 861.1L1068.5 855.5L1069.0 838.9L1069.5 847.5L1070.0 850.6L1070.5 851.5L1071.0 855.7L1071.6 882.2L1072.1 847.5L1072.6 858.7L1073.1 848.3L1073.6 850.3L1074.1 847.7L1074.6 855.6L1075.2 852.2L1075.7 863.1L1076.2 861.8L1076.7 849.2L1077.2 882.4L1077.7 846.7L1078.2 864.8L1078.7 886.3L1079.3 853.1L1079.8 877.2L1080.3 878.6L1080.8 866.4L1081.3 841.4L1081.8 879.8L1082.3 864.7L1082.9 857.7L1083.4 879.2L1083.9 856.4L1084.4 877.6L1084.9 859.3L1085.4 872.2L1085.9 853.9L1086.5 862.2L1087.0 856.6L1087.5 859.4L1088.0 870.1L1088.5 866.4L1089.0 870.9L1089.5 883.9L1090.0 868.2L1090.6 848.4L1091.1 866.9L1091.6 871.5L1092.1 882.7L1092.6 883.2L1093.1 882.6L1093.6 869.4L1094.2 879.8L1094.7 856.1L1095.2 887.8L1095.7 878.3L1096.2 879.4L1096.7 869.5L1097.2 874.8L1097.8 866.7L1098.3 881.2L1098.8 859.7L1099.3 886.3L1099.8 881.6L1100.3 898.7L1100.8 875.3L1101.4 874.8L1101.9 878.3L1102.4 876.6L1102.9 875.2L1103.4 863.9L1103.9 864.1L1104.4 870.4L1104.9 873.7L1105.5 863.6L1106.0 864.0L1106.5 874.2L1107.0 886.0L1107.5 875.5L1108.0 885.6L1108.5 889.1L1109.1 886.9L1109.6 873.4L1110.1 873.7L1110.6 857.2L1111.1 870.8L1111.6 884.1L1112.1 866.5L1112.7 894.4L1113.2 895.4L1113.7 875.0L1114.2 889.8L1114.7 863.3L1115.2 867.6L1115.7 875.4L1116.2 879.9L1116.8 877.8L1117.3 870.2L1117.8 902.5L1118.3 883.5L1118.8 883.6L1119.3 888.2L1119.8 882.5L1120.4 878.0L1120.9 874.4L1121.4 862.2L1121.9 897.9L1122.4 870.5L1122.9 862.2L1123.4 872.0L1124.0 863.1L1124.5 904.0L1125.0 885.6L1125.5 897.5L1126.0 898.1L1126.5 888.2L1127.0 888.3L1127.5 873.7L1128.1 881.0L1128.6 875.2L1129.1 882.6L1129.6 874.3L1130.1 896.6L1130.6 891.0L1131.1 881.2L1131.7 863.5L1132.2 890.3L1132.7 892.7L1133.2 881.9L1133.7 868.5L1134.2 887.8L1134.7 894.8L1135.3 861.3L1135.8 889.5L1136.3 862.6L1136.8 884.1L1137.3 903.0L1137.8 884.3L1138.3 888.8L1138.9 879.8L1139.4 883.4L1139.9 910.1L1140.4 898.7L1140.9 880.1L1141.4 879.4L1141.9 884.0L1142.4 908.6L1143.0 886.3L1143.5 896.5L1144.0 879.9L1144.5 869.7L1145.0 899.1L1145.5 883.3L1146.0 875.4L1146.6 876.4L1147.1 876.7L1147.6 877.5L1148.1 867.0L1148.6 898.0L1149.1 888.8L1149.6 895.5L1150.2 880.7L1150.7 888.5L1151.2 886.6L1151.7 898.0L1152.2 893.9L1152.7 888.8L1153.2 877.5L1153.7 871.3L1154.3 875.9L1154.8 877.8L1155.3 878.9L1155.8 871.1L1156.3 903.8L1156.8 888.1L1157.3 862.4L1157.9 872.9L1158.4 870.1L1158.9 887.9L1159.4 897.3L1159.9 874.2L1160.4 892.3L1160.9 882.3L1161.5 898.3L1162.0 900.8L1162.5 889.0L1163.0 893.6L1163.5 885.5L1164.0 881.4L1164.5 872.5L1165.1 889.3L1165.6 884.9L1166.1 881.4L1166.6 884.9L1167.1 883.7L1167.6 874.1L1168.1 879.9L1168.6 898.7L1169.2 883.3L1169.7 901.6L1170.2 873.0L1170.7 870.8L1171.2 887.5L1171.7 894.8L1172.2 878.7L1172.8 893.1L1173.3 896.6L1173.8 898.2L1174.3 885.0L1174.8 885.7L1175.3 867.8L1175.8 886.6L1176.4 889.5L1176.9 902.2L1177.4 872.2L1177.9 877.0L1178.4 875.3L1178.9 896.6L1179.4 858.3L1179.9 874.5L1180.5 909.7L1181.0 894.0L1181.5 871.9L1182.0 886.1L1182.5 896.3L1183.0 893.0L1183.5 884.4L1184.1 878.1L1184.6 896.3L1185.1 886.9L1185.6 896.1L1186.1 891.5L1186.6 881.9L1187.1 903.3L1187.7 881.7L1188.2 892.1L1188.7 880.3L1189.2 884.8L1189.7 884.6L1190.2 880.1L1190.7 890.2L1191.3 902.2L1191.8 908.4L1192.3 903.7L1192.8 885.8L1193.3 904.0L1193.8 892.5L1194.3 907.9L1194.8 874.0L1195.4 904.5L1195.9 881.4L1196.4 901.0L1196.9 883.0L1197.4 898.4L1197.9 885.2L1198.4 867.5L1199.0 877.7L1199.5 885.8L1200.0 888.8L1200.5 863.7L1201.0 875.4L1201.5 880.6L1202.0 886.5L1202.6 891.3L1203.1 879.8L1203.6 872.1L1204.1 892.4L1204.6 885.4L1205.1 899.0L1205.6 883.4L1206.1 896.4L1206.7 879.5L1207.2 892.4L1207.7 890.5L1208.2 894.5L1208.7 879.2L1209.2 888.3L1209.7 880.3L1210.3 888.0L1210.8 896.7L1211.3 922.9L1211.8 890.3L1212.3 897.9L1212.8 891.3L1213.3 902.6L1213.9 895.2L1214.4 901.7L1214.9 894.2L1215.4 916.8L1215.9 905.6L1216.4 871.5L1216.9 893.7L1217.4 891.3L1218.0 866.1L1218.5 881.0L1219.0 885.5L1219.5 882.5L1220.0 892.1L1220.5 870.9L1221.0 899.0L1221.6 899.3L1222.1 894.7L1222.6 887.2L1223.1 890.9L1223.6 885.8L1224.1 903.6L1224.6 896.6L1225.2 913.0L1225.7 887.0L1226.2 907.1L1226.7 884.7L1227.2 889.2L1227.7 879.6L1228.2 896.9L1228.8 890.5L1229.3 898.0L1229.8 907.6L1230.3 890.6L1230.8 895.4L1231.3 901.2L1231.8 890.6L1232.3 885.2L1232.9 895.2L1233.4 896.8L1233.9 899.9L1234.4 900.5L1234.9 884.0L1235.4 896.3L1235.9 904.9L1236.5 886.3L1237.0 895.4L1237.5 884.6L1238.0 893.3L1238.5 910.6L1239.0 893.3L1239.5 880.8L1240.1 895.3L1240.6 893.8L1241.1 903.8L1241.6 876.4L1242.1 881.4L1242.6 890.6L1243.1 874.4L1243.6 904.0L1244.2 869.2L1244.7 882.4L1245.2 875.3L1245.7 884.3L1246.2 900.4L1246.7 898.2L1247.2 901.8L1247.8 898.2L1248.3 869.2L1248.8 894.9L1249.3 871.3L1249.8 886.1L1250.3 887.3L1250.8 885.7L1251.4 897.1L1251.9 882.8L1252.4 910.7L1252.9 898.3L1253.4 904.7L1253.9 900.1L1254.4 901.6L1255.0 891.3L1255.5 913.4L1256.0 880.2L1256.5 896.8L1257.0 891.8L1257.5 889.3L1258.0 895.3L1258.5 883.6L1259.1 901.4L1259.6 900.5L1260.1 892.9L1260.6 900.0L1261.1 880.5L1261.6 872.0L1262.1 885.5L1262.7 889.3L1263.2 919.4L1263.7 889.5L1264.2 903.3L1264.7 901.3L1265.2 915.2L1265.7 893.3L1266.3 899.2L1266.8 889.9L1267.3 882.6L1267.8 881.1L1268.3 883.5L1268.8 907.9L1269.3 895.3L1269.8 890.5L1270.4 892.5L1270.9 886.1L1271.4 892.0L1271.9 891.9L1272.4 899.6L1272.9 902.5L1273.4 874.6L1274.0 895.1L1274.5 907.7L1275.0 881.5L1275.5 890.0L1276.0 894.6L1276.5 904.9L1277.0 899.4L1277.6 890.6L1278.1 898.5L1278.6 904.5L1279.1 897.4L1279.6 913.6L1280.1 897.9L1280.6 881.8L1281.2 884.8L1281.7 892.0L1282.2 891.3L1282.7 900.4L1283.2 897.6L1283.7 912.6L1284.2 902.7L1284.7 910.2L1285.3 885.6L1285.8 889.4L1286.3 901.6L1286.8 895.2L1287.3 901.1L1287.8 897.1L1288.3 887.6L1288.9 913.1L1289.4 907.1L1289.9 877.6L1290.4 887.9L1290.9 895.0L1291.4 902.3L1291.9 894.1L1292.5 880.1L1293.0 904.1L1293.5 892.8L1294.0 908.3L1294.5 898.5L1295.0 906.3L1295.5 904.5L1296.0 905.1L1296.6 889.9L1297.1 906.8L1297.6 897.8L1298.1 882.0L1298.6 891.4L1299.1 892.1L1299.6 900.9L1300.2 903.3L1300.7 883.7L1301.2 903.8L1301.7 895.3L1302.2 884.5L1302.7 905.1L1303.2 887.8L1303.8 883.1L1304.3 904.4L1304.8 906.0L1305.3 889.0L1305.8 907.7L1306.3 907.2L1306.8 890.6L1307.3 918.0L1307.9 895.6L1308.4 898.7L1308.9 870.3L1309.4 903.2L1309.9 889.5L1310.4 901.1L1310.9 877.6L1311.5 908.9L1312.0 912.1L1312.5 916.9L1313.0 864.1L1313.5 902.7L1314.0 900.0L1314.5 863.4L1315.1 888.3L1315.6 895.4L1316.1 911.8L1316.6 887.2L1317.1 898.5L1317.6 895.7L1318.1 900.3L1318.7 892.0L1319.2 906.0L1319.7 906.9L1320.2 881.5L1320.7 908.5L1321.2 888.1L1321.7 893.3L1322.2 908.5L1322.8 897.3L1323.3 902.5L1323.8 904.9L1324.3 902.8L1324.8 890.4L1325.3 885.9L1325.8 903.7L1326.4 904.5L1326.9 900.1L1327.4 894.2L1327.9 905.6L1328.4 895.9L1328.9 881.3L1329.4 899.3L1330.0 901.7L1330.5 904.6L1331.0 886.5L1331.5 888.0L1332.0 899.8L1332.5 891.3L1333.0 895.4L1333.5 906.4L1334.1 900.4L1334.6 916.0L1335.1 899.3L1335.6 914.8L1336.1 907.7L1336.6 923.8L1337.1 896.3L1337.7 895.2L1338.2 910.4L1338.7 890.5L1339.2 891.1L1339.7 898.8L1340.2 900.2L1340.7 880.9L1341.3 898.9L1341.8 892.8L1342.3 895.8L1342.8 898.0L1343.3 894.0L1343.8 907.8L1344.3 901.4L1344.9 894.1L1345.4 896.9L1345.9 907.4L1346.4 904.6L1346.9 909.9L1347.4 894.6L1347.9 897.6L1348.4 917.9L1349.0 895.7L1349.5 914.3L1350.0 905.2L1350.5 891.4L1351.0 880.9L1351.5 902.9L1352.0 888.4L1352.6 888.3L1353.1 877.2L1353.6 908.9L1354.1 897.1L1354.6 896.2L1355.1 900.2L1355.6 898.6L1356.2 896.9L1356.7 901.5L1357.2 892.9L1357.7 867.8L1358.2 903.8L1358.7 900.4L1359.2 896.0L1359.7 913.0L1360.3 880.5L1360.8 864.2L1361.3 911.8L1361.8 900.1L1362.3 877.7L1362.8 891.1L1363.3 902.2L1363.9 882.3L1364.4 901.5L1364.9 918.4L1365.4 910.5L1365.9 895.0L1366.4 898.8L1366.9 885.0L1367.5 896.7L1368.0 891.6L1368.5 884.4L1369.0 880.6L1369.5 916.1L1370.0 896.0L1370.5 883.9L1371.1 890.4L1371.6 911.1L1372.1 912.5L1372.6 888.2L1373.1 897.0L1373.6 904.5L1374.1 891.0L1374.6 881.9L1375.2 884.1L1375.7 894.8L1376.2 886.2L1376.7 880.5L1377.2 891.9L1377.7 904.6L1378.2 901.8L1378.8 891.9L1379.3 915.1L1379.8 885.7L1380.3 893.4L1380.8 879.4L1381.3 902.6L1381.8 892.7L1382.4 875.8L1382.9 885.0L1383.4 913.5L1383.9 901.8L1384.4 895.1L1384.9 903.2L1385.4 876.4L1385.9 884.7L1386.5 879.3L1387.0 884.6L1387.5 889.4L1388.0 899.3L1388.5 904.4L1389.0 904.1L1389.5 922.6L1390.1 888.0L1390.6 893.1L1391.1 898.8L1391.6 884.2L1392.1 890.0L1392.6 897.5L1393.1 883.4L1393.7 898.1L1394.2 906.3L1394.7 880.7L1395.2 868.0L1395.7 893.7L1396.2 881.4L1396.7 894.6L1397.2 887.7L1397.8 895.9L1398.3 904.9L1398.8 901.4L1399.3 888.5L1399.8 879.6L1400.3 865.2L1400.8 868.6L1401.4 883.5L1401.9 893.2L1402.4 884.7L1402.9 885.5L1403.4 874.5L1403.9 873.8L1404.4 872.9L1405.0 898.4L1405.5 869.9L1406.0 898.8L1406.5 881.5L1407.0 897.1L1407.5 893.8L1408.0 899.3L1408.6 904.0L1409.1 882.3L1409.6 880.2L1410.1 885.9L1410.6 882.2L1411.1 897.7L1411.6 889.2L1412.1 890.4L1412.7 894.8L1413.2 885.0L1413.7 902.1L1414.2 869.9L1414.7 892.5L1415.2 895.3L1415.7 881.4L1416.3 882.1L1416.8 899.5L1417.3 886.1L1417.8 868.5L1418.3 874.6L1418.8 900.4L1419.3 879.6L1419.9 903.5L1420.4 904.1L1420.9 886.8L1421.4 894.9L1421.9 879.8L1422.4 884.4L1422.9 881.1L1423.4 895.1L1424.0 874.5L1424.5 887.1L1425.0 889.0L1425.5 894.0L1426.0 865.0L1426.5 868.6L1427.0 878.4L1427.6 885.6L1428.1 889.5L1428.6 890.0L1429.1 909.9L1429.6 894.9L1430.1 894.0L1430.6 882.1L1431.2 896.0L1431.7 894.9L1432.2 894.6L1432.7 885.9L1433.2 893.9L1433.7 903.7L1434.2 878.1L1434.8 863.1L1435.3 895.7L1435.8 894.7L1436.3 884.0L1436.8 881.5L1437.3 916.6L1437.8 881.1L1438.3 872.7L1438.9 880.8L1439.4 891.4L1439.9 879.1L1440.4 881.4L1440.9 888.9L1441.4 880.7L1441.9 886.7L1442.5 884.8L1443.0 873.4L1443.5 885.8L1444.0 872.1L1444.5 895.0L1445.0 874.4L1445.5 881.9L1446.1 864.4L1446.6 879.3L1447.1 870.4L1447.6 900.4L1448.1 882.5L1448.6 889.5L1449.1 864.3L1449.6 869.8L1450.2 881.4L1450.7 868.2L1451.2 895.6L1451.7 878.4L1452.2 884.4L1452.7 885.9L1453.2 880.8L1453.8 890.8L1454.3 874.7L1454.8 886.0L1455.3 895.0L1455.8 884.0L1456.3 882.9L1456.8 877.7L1457.4 881.8L1457.9 888.5L1458.4 878.2L1458.9 862.2L1459.4 882.4L1459.9 878.8L1460.4 885.4L1461.0 880.5L1461.5 897.2L1462.0 866.5L1462.5 868.9L1463.0 886.6L1463.5 867.9L1464.0 882.6L1464.5 878.7L1465.1 857.1L1465.6 885.9L1466.1 893.4L1466.6 880.4L1467.1 862.6L1467.6 886.4L1468.1 866.1L1468.7 876.0L1469.2 881.7L1469.7 868.3L1470.2 858.1L1470.7 874.9L1471.2 875.7L1471.7 866.6L1472.3 867.2L1472.8 883.6L1473.3 874.3L1473.8 869.8L1474.3 868.2L1474.8 876.4L1475.3 875.3L1475.8 872.1L1476.4 858.4L1476.9 869.4L1477.4 866.3L1477.9 873.7L1478.4 885.4L1478.9 882.8L1479.4 879.2L1480.0 873.1L1480.5 868.0L1481.0 875.0L1481.5 865.8L1482.0 867.0L1482.5 861.3L1483.0 869.7L1483.6 869.2L1484.1 890.0L1484.6 875.6L1485.1 865.1L1485.6 877.5L1486.1 863.5L1486.6 879.6L1487.1 876.8L1487.7 899.8L1488.2 855.8L1488.7 866.7L1489.2 866.0L1489.7 870.3L1490.2 874.7L1490.7 855.9L1491.3 858.4L1491.8 869.5L1492.3 876.6L1492.8 853.3L1493.3 848.4L1493.8 877.8L1494.3 874.2L1494.9 876.6L1495.4 853.7L1495.9 862.0L1496.4 866.4L1496.9 868.5L1497.4 862.1L1497.9 862.6L1498.5 874.0L1499.0 857.8L1499.5 856.3L1500.0 857.3L1500.5 856.2L1501.0 863.0L1501.5 859.0L1502.0 856.2L1502.6 876.4L1503.1 863.8L1503.6 856.5L1504.1 873.9L1504.6 853.7L1505.1 859.5L1505.6 858.3L1506.2 852.8L1506.7 854.6L1507.2 859.6L1507.7 842.7L1508.2 854.0L1508.7 860.8L1509.2 860.9L1509.8 861.0L1510.3 883.3L1510.8 864.7L1511.3 855.7L1511.8 855.8L1512.3 857.0L1512.8 861.7L1513.3 853.6L1513.9 873.3L1514.4 844.6L1514.9 863.6L1515.4 862.1L1515.9 844.1L1516.4 863.5L1516.9 862.7L1517.5 849.6L1518.0 882.0L1518.5 864.4L1519.0 853.1L1519.5 851.5L1520.0 848.7L1520.5 859.7L1521.1 857.6L1521.6 841.6L1522.1 845.7L1522.6 849.3L1523.1 852.8L1523.6 853.4L1524.1 850.1L1524.7 864.5L1525.2 868.0L1525.7 858.5L1526.2 833.9L1526.7 856.3L1527.2 864.2L1527.7 857.4L1528.2 861.3L1528.8 859.6L1529.3 842.4L1529.8 831.3L1530.3 865.7L1530.8 853.5L1531.3 863.8L1531.8 856.1L1532.4 857.8L1532.9 874.6L1533.4 846.9L1533.9 860.0L1534.4 848.4L1534.9 861.2L1535.4 865.8L1536.0 867.9L1536.5 862.6L1537.0 846.2L1537.5 864.0L1538.0 871.2L1538.5 872.5L1539.0 885.1L1539.5 868.2L1540.1 851.3L1540.6 856.8L1541.1 863.6L1541.6 874.2L1542.1 850.7L1542.6 873.2L1543.1 870.6L1543.7 854.4L1544.2 870.6L1544.7 856.1L1545.2 864.6L1545.7 861.7L1546.2 867.8L1546.7 852.9L1547.3 871.6L1547.8 842.9L1548.3 862.3L1548.8 860.9L1549.3 884.3L1549.8 873.5L1550.3 862.9L1550.9 858.9L1551.4 869.3L1551.9 862.6L1552.4 893.6L1552.9 840.4L1553.4 871.2L1553.9 844.6L1554.4 882.4L1555.0 863.1L1555.5 889.2L1556.0 866.7L1556.5 884.5L1557.0 875.5L1557.5 886.3L1558.0 874.4L1558.6 842.9L1559.1 867.2L1559.6 858.7L1560.1 885.7L1560.6 881.7L1561.1 876.4L1561.6 881.5L1562.2 879.2L1562.7 871.3L1563.2 898.5L1563.7 880.6L1564.2 876.3L1564.7 863.1L1565.2 872.4L1565.7 879.3L1566.3 877.6L1566.8 874.7L1567.3 879.4L1567.8 868.3L1568.3 880.5L1568.8 864.3L1569.3 871.9L1569.9 873.4L1570.4 890.6L1570.9 886.8L1571.4 882.7L1571.9 870.1L1572.4 878.2L1572.9 891.1L1573.5 896.1L1574.0 867.6L1574.5 878.9L1575.0 884.8L1575.5 887.6L1576.0 884.2L1576.5 891.4L1577.0 869.4L1577.6 901.2L1578.1 873.0L1578.6 885.9L1579.1 891.0L1579.6 897.9L1580.1 895.4L1580.6 895.3L1581.2 899.7L1581.7 884.9L1582.2 894.6L1582.7 903.0L1583.2 879.1L1583.7 872.5L1584.2 876.8L1584.8 902.4L1585.3 900.7L1585.8 884.1L1586.3 890.5L1586.8 893.0L1587.3 899.2L1587.8 868.5L1588.4 882.5L1588.9 885.7L1589.4 891.9L1589.9 889.4L1590.4 885.4L1590.9 891.8L1591.4 861.8L1591.9 921.1L1592.5 897.5L1593.0 898.2L1593.5 882.0L1594.0 893.3L1594.5 910.6L1595.0 908.2L1595.5 889.9L1596.1 876.1L1596.6 890.9L1597.1 886.1L1597.6 898.2L1598.1 875.8L1598.6 887.3L1599.1 892.2L1599.7 884.5L1600.2 900.5L1600.7 877.5L1601.2 876.5L1601.7 885.8L1602.2 898.2L1602.7 886.3L1603.2 883.3L1603.8 898.1L1604.3 892.0L1604.8 884.1L1605.3 890.9L1605.8 887.2L1606.3 896.1L1606.8 891.2L1607.4 881.3L1607.9 884.7L1608.4 885.4L1608.9 893.7L1609.4 893.8L1609.9 881.1L1610.4 887.8L1611.0 893.1L1611.5 901.4L1612.0 892.5L1612.5 910.4L1613.0 890.2L1613.5 897.7L1614.0 886.5L1614.6 879.5L1615.1 891.1L1615.6 895.1L1616.1 893.4L1616.6 891.5L1617.1 886.5L1617.6 881.4L1618.1 886.9L1618.7 895.0L1619.2 900.1L1619.7 855.5L1620.2 896.5L1620.7 901.5L1621.2 903.4L1621.7 894.2L1622.3 897.2L1622.8 885.5L1623.3 889.3L1623.8 895.7L1624.3 878.7L1624.8 881.9L1625.3 892.3L1625.9 876.2L1626.4 890.8L1626.9 874.6L1627.4 892.3L1627.9 890.6L1628.4 884.4L1628.9 880.4L1629.4 885.0L1630.0 866.8L1630.5 886.2L1631.0 891.6L1631.5 903.1L1632.0 885.1L1632.5 888.6L1633.0 905.1L1633.6 908.8L1634.1 885.3L1634.6 901.5L1635.1 902.9L1635.6 896.0L1636.1 880.2L1636.6 880.6L1637.2 896.7L1637.7 915.2L1638.2 888.7L1638.7 907.2L1639.2 910.6L1639.7 877.5L1640.2 884.4L1640.8 906.6L1641.3 901.0L1641.8 896.6L1642.3 890.7L1642.8 897.5L1643.3 884.2L1643.8 917.2L1644.3 878.7L1644.9 872.0L1645.4 892.5L1645.9 906.2L1646.4 885.8L1646.9 890.5L1647.4 880.3L1647.9 890.3L1648.5 880.4L1649.0 880.6L1649.5 875.6L1650.0 885.4L1650.5 910.8L1651.0 890.6L1651.5 893.3L1652.1 914.9L1652.6 884.7L1653.1 880.9L1653.6 896.9L1654.1 878.5L1654.6 895.0L1655.1 903.7L1655.6 880.1L1656.2 886.1L1656.7 909.5L1657.2 880.5L1657.7 884.5L1658.2 894.2L1658.7 888.4L1659.2 882.8L1659.8 908.7L1660.3 885.7L1660.8 895.4L1661.3 887.6L1661.8 889.5L1662.3 877.5L1662.8 901.8L1663.4 887.5L1663.9 905.5L1664.4 879.8L1664.9 887.1L1665.4 897.2L1665.9 893.4L1666.4 885.3L1666.9 890.9L1667.5 878.7L1668.0 893.0L1668.5 864.5L1669.0 894.3L1669.5 906.8L1670.0 901.9L1670.5 901.5L1671.1 888.2L1671.6 897.8L1672.1 888.4L1672.6 891.8L1673.1 891.7L1673.6 857.3L1674.1 902.6L1674.7 897.7L1675.2 901.8L1675.7 882.9L1676.2 900.3L1676.7 898.1L1677.2 869.5L1677.7 874.5L1678.3 893.7L1678.8 886.1L1679.3 893.0L1679.8 886.5L1680.3 909.0L1680.8 873.3L1681.3 879.0L1681.8 883.1L1682.4 879.0L1682.9 887.3L1683.4 893.1L1683.9 879.4L1684.4 897.4L1684.9 907.4L1685.4 905.1L1686.0 914.8L1686.5 905.6L1687.0 893.4L1687.5 912.5L1688.0 901.2L1688.5 913.6L1689.0 891.8L1689.6 871.7L1690.1 881.6L1690.6 895.9L1691.1 899.8L1691.6 891.9L1692.1 904.6L1692.6 882.0L1693.1 886.7L1693.7 904.6L1694.2 894.8L1694.7 895.3L1695.2 909.1L1695.7 905.8L1696.2 886.0L1696.7 896.5L1697.3 876.5L1697.8 894.3L1698.3 898.6L1698.8 876.2L1699.3 910.9L1699.8 915.6L1700.3 899.8L1700.9 904.3L1701.4 910.4L1701.9 892.8L1702.4 905.6L1702.9 898.7L1703.4 878.6L1703.9 885.2L1704.5 888.8L1705.0 906.1L1705.5 895.8L1706.0 905.2L1706.5 889.9L1707.0 881.4L1707.5 916.6L1708.0 923.6L1708.6 898.9L1709.1 892.8L1709.6 907.4L1710.1 883.3L1710.6 892.8L1711.1 879.9L1711.6 900.1L1712.2 897.6L1712.7 890.8L1713.2 888.2L1713.7 879.0L1714.2 886.3L1714.7 908.0L1715.2 891.3L1715.8 908.3L1716.3 885.9L1716.8 894.2L1717.3 890.2L1717.8 892.3L1718.3 903.1L1718.8 873.4L1719.3 902.8L1719.9 902.3L1720.4 895.0L1720.9 895.8L1721.4 892.7L1721.9 902.3L1722.4 895.6L1722.9 886.1L1723.5 896.6L1724.0 905.0L1724.5 898.8L1725.0 895.2L1725.5 897.1L1726.0 889.7L1726.5 890.0L1727.1 875.1L1727.6 892.9L1728.1 905.2L1728.6 890.7L1729.1 885.3L1729.6 904.2L1730.1 896.5L1730.7 896.2L1731.2 899.7L1731.7 902.1L1732.2 894.2L1732.7 885.9L1733.2 912.9L1733.7 895.2L1734.2 886.5L1734.8 896.5L1735.3 907.1L1735.8 879.7L1736.3 908.2L1736.8 893.1L1737.3 915.4L1737.8 901.4L1738.4 893.3L1738.9 907.5L1739.4 907.7L1739.9 890.7L1740.4 896.8L1740.9 888.9L1741.4 903.9L1742.0 879.5L1742.5 892.4L1743.0 871.9L1743.5 900.3L1744.0 870.8L1744.5 883.0L1745.0 896.8L1745.5 890.3L1746.1 889.4L1746.6 883.9L1747.1 889.0L1747.6 875.6L1748.1 897.2L1748.6 902.2L1749.1 901.8L1749.7 893.4L1750.2 906.5L1750.7 898.5L1751.2 903.7L1751.7 897.7L1752.2 893.9L1752.7 885.6L1753.3 866.0L1753.8 900.2L1754.3 892.3L1754.8 914.2L1755.3 872.7L1755.8 902.1L1756.3 883.4L1756.8 893.2L1757.4 884.0L1757.9 896.9L1758.4 892.9L1758.9 902.3L1759.4 894.6L1759.9 898.1L1760.4 906.4L1761.0 898.4L1761.5 891.6L1762.0 905.9L1762.5 891.7L1763.0 897.1L1763.5 889.5L1764.0 885.9L1764.6 861.4L1765.1 900.0L1765.6 880.6L1766.1 900.3L1766.6 911.4L1767.1 878.8L1767.6 901.7L1768.2 891.5L1768.7 897.2L1769.2 880.0L1769.7 892.7L1770.2 894.0L1770.7 907.3L1771.2 914.7L1771.7 895.6L1772.3 888.4L1772.8 915.4L1773.3 891.1L1773.8 891.6L1774.3 893.2L1774.8 897.0L1775.3 899.5L1775.9 886.0L1776.4 890.9L1776.9 911.6L1777.4 908.7L1777.9 896.6L1778.4 894.8L1778.9 889.5L1779.5 902.5L1780.0 886.4L1780.5 893.1L1781.0 887.0L1781.5 885.2L1782.0 892.1L1782.5 891.7L1783.0 885.6L1783.6 891.0L1784.1 892.3L1784.6 886.7L1785.1 884.7L1785.6 890.1L1786.1 898.8L1786.6 903.0L1787.2 893.4L1787.7 888.6L1788.2 891.1L1788.7 911.3L1789.2 900.9L1789.7 881.4L1790.2 890.8L1790.8 885.8L1791.3 887.5L1791.8 873.7L1792.3 891.5L1792.8 877.0L1793.3 885.1L1793.8 907.0L1794.4 901.6L1794.9 882.1L1795.4 880.3L1795.9 881.6L1796.4 871.4L1796.9 880.8L1797.4 888.2L1797.9 880.1L1798.5 898.9L1799.0 890.5L1799.5 885.4L1800.0 909.3L1800.5 898.4L1801.0 891.7L1801.5 910.2L1802.1 904.6L1802.6 883.5L1803.1 894.2L1803.6 886.3L1804.1 875.8L1804.6 910.7L1805.1 906.5L1805.7 877.5L1806.2 895.9L1806.7 873.5L1807.2 902.0L1807.7 890.1L1808.2 887.6L1808.7 903.8L1809.2 890.7L1809.8 887.9L1810.3 900.2L1810.8 887.4L1811.3 899.7L1811.8 890.6L1812.3 899.2L1812.8 897.1L1813.4 898.8L1813.9 879.9L1814.4 910.2L1814.9 888.7L1815.4 908.9L1815.9 884.1L1816.4 887.5L1817.0 887.6L1817.5 902.5L1818.0 885.8L1818.5 894.7L1819.0 873.8L1819.5 885.2L1820.0 892.6L1820.6 889.1L1821.1 870.5L1821.6 895.5L1822.1 880.0L1822.6 910.6L1823.1 888.1L1823.6 914.0L1824.1 897.1L1824.7 895.0L1825.2 885.0L1825.7 888.8L1826.2 894.8L1826.7 869.4L1827.2 900.5L1827.7 877.6L1828.3 887.2L1828.8 861.0L1829.3 894.8L1829.8 897.8L1830.3 892.9L1830.8 893.3L1831.3 885.9L1831.9 891.5L1832.4 902.7L1832.9 885.3L1833.4 895.1L1833.9 897.5L1834.4 887.3L1834.9 892.3L1835.4 892.1L1836.0 884.5L1836.5 915.6L1837.0 885.1L1837.5 907.9L1838.0 901.0L1838.5 868.0L1839.0 892.3L1839.6 900.6L1840.1 898.3L1840.6 880.0L1841.1 892.3L1841.6 876.8L1842.1 878.5L1842.6 887.0L1843.2 891.5L1843.7 906.6L1844.2 893.3L1844.7 900.8L1845.2 876.7L1845.7 877.1L1846.2 884.3L1846.7 908.1L1847.3 875.2L1847.8 872.5L1848.3 888.6L1848.8 902.1L1849.3 872.0L1849.8 886.7L1850.3 874.9L1850.9 904.8L1851.4 896.7L1851.9 892.2L1852.4 888.8L1852.9 886.8L1853.4 890.8L1853.9 882.4L1854.5 879.8L1855.0 877.4L1855.5 889.4L1856.0 880.7L1856.5 898.6L1857.0 866.7L1857.5 895.3L1858.1 894.9L1858.6 902.2L1859.1 886.5L1859.6 873.1L1860.1 879.3L1860.6 901.3L1861.1 885.9L1861.6 884.7L1862.2 882.9L1862.7 888.5L1863.2 886.7L1863.7 872.5L1864.2 882.7L1864.7 899.9L1865.2 904.6L1865.8 887.8L1866.3 883.6L1866.8 903.7L1867.3 887.2L1867.8 876.5L1868.3 887.8L1868.8 896.6L1869.4 905.8L1869.9 883.9L1870.4 894.9L1870.9 885.6L1871.4 901.3L1871.9 891.9L1872.4 891.9L1872.9 878.6L1873.5 885.7L1874.0 885.7L1874.5 850.6L1875.0 898.3L1875.5 889.0L1876.0 886.9L1876.5 885.3L1877.1 889.5L1877.6 891.8L1878.1 875.2L1878.6 890.5L1879.1 890.4L1879.6 889.5L1880.1 873.3L1880.7 887.7L1881.2 875.5L1881.7 893.0L1882.2 903.4L1882.7 898.6L1883.2 885.7L1883.7 883.5L1884.3 883.3L1884.8 893.1L1885.3 882.2L1885.8 883.6L1886.3 862.5L1886.8 880.3L1887.3 881.0L1887.8 883.7L1888.4 902.4L1888.9 874.9L1889.4 875.2L1889.9 895.9L1890.4 879.0L1890.9 887.8L1891.4 891.4L1892.0 889.7L1892.5 881.3L1893.0 899.4L1893.5 905.6L1894.0 878.9L1894.5 886.7L1895.0 899.7L1895.6 887.5L1896.1 879.0L1896.6 885.1L1897.1 898.6L1897.6 879.1L1898.1 892.5L1898.6 893.9L1899.1 882.8L1899.7 895.9L1900.2 897.0L1900.7 900.5L1901.2 899.9L1901.7 874.0L1902.2 899.5L1902.7 896.2L1903.3 900.4L1903.8 880.9L1904.3 899.7L1904.8 894.0L1905.3 877.7L1905.8 903.7L1906.3 881.8L1906.9 879.3L1907.4 894.4L1907.9 883.7L1908.4 894.0L1908.9 887.6L1909.4 893.3L1909.9 899.0L1910.5 889.9L1911.0 899.6L1911.5 899.4L1912.0 881.4L1912.5 899.5L1913.0 897.0L1913.5 891.8L1914.0 902.4L1914.6 908.1L1915.1 898.6L1915.6 874.8L1916.1 895.3L1916.6 889.1L1917.1 887.7L1917.6 894.3L1918.2 887.1L1918.7 908.0L1919.2 893.6L1919.7 890.9L1920.2 899.0L1920.7 899.2L1921.2 903.3L1921.8 897.5L1922.3 890.4L1922.8 892.2L1923.3 867.8L1923.8 875.2L1924.3 901.9L1924.8 887.4L1925.3 910.2L1925.9 910.1L1926.4 877.6L1926.9 894.2L1927.4 921.7L1927.9 882.6L1928.4 895.2L1928.9 888.5L1929.5 888.4L1930.0 888.0L1930.5 890.8L1931.0 899.2L1931.5 882.5L1932.0 896.4L1932.5 883.6L1933.1 896.7L1933.6 894.5L1934.1 882.8L1934.6 892.6L1935.1 883.3L1935.6 882.1L1936.1 903.6L1936.6 871.8L1937.2 897.1L1937.7 898.7L1938.2 884.8L1938.7 902.8L1939.2 900.9L1939.7 877.4L1940.2 896.8L1940.8 896.2L1941.3 883.3L1941.8 897.3L1942.3 899.2L1942.8 883.5L1943.3 869.9L1943.8 895.5L1944.4 883.3L1944.9 872.9L1945.4 887.1L1945.9 865.8L1946.4 887.6L1946.9 907.2L1947.4 860.8L1948.0 896.1L1948.5 881.3L1949.0 886.8L1949.5 881.5L1950.0 898.0L1950.5 891.1L1951.0 882.8L1951.5 877.2L1952.1 886.6L1952.6 903.5L1953.1 878.2L1953.6 895.6L1954.1 894.8L1954.6 869.8L1955.1 903.0L1955.7 890.8L1956.2 915.0L1956.7 909.8L1957.2 888.5L1957.7 889.5L1958.2 880.4L1958.7 876.5L1959.3 899.7L1959.8 888.5L1960.3 886.9L1960.8 889.4L1961.3 898.5L1961.8 901.3L1962.3 891.2L1962.8 889.1L1963.4 892.3L1963.9 913.4L1964.4 868.9L1964.9 878.8L1965.4 896.3L1965.9 892.8L1966.4 904.4L1967.0 905.3L1967.5 912.5L1968.0 882.6L1968.5 897.8" stroke="#008000"/>
<path d="M170.5 621.9L171.0 638.8L171.5 627.1L172.0 636.8L172.6 613.1L173.1 625.9L173.6 615.8L174.1 619.3L174.6 616.3L175.1 607.9L175.6 638.7L176.2 626.8L176.7 638.2L177.2 608.0L177.7 594.2L178.2 613.0L178.7 620.2L179.2 633.8L179.7 637.6L180.3 640.0L180.8 644.7L181.3 633.2L181.8 624.6L182.3 612.3L182.8 633.7L183.3 617.1L183.9 613.2L184.4 633.9L184.9 629.2L185.4 639.0L185.9 617.0L186.4 644.8L186.9 633.8L187.5 626.8L188.0 619.0L188.5 614.9L189.0 611.3L189.5 651.4L190.0 611.5L190.5 641.3L191.0 629.1L191.6 624.9L192.1 626.8L192.6 632.6L193.1 647.4L193.6 643.0L194.1 635.4L194.6 616.3L195.2 610.9L195.7 663.3L196.2 622.8L196.7 615.3L197.2 654.0L197.7 617.2L198.2 649.5L198.8 652.6L199.3 643.3L199.8 653.9L200.3 620.9L200.8 623.6L201.3 638.6L201.8 641.7L202.4 640.9L202.9 649.0L203.4 632.3L203.9 612.9L204.4 649.1L204.9 640.5L205.4 655.4L205.9 673.6L206.5 645.6L207.0 652.9L207.5 632.2L208.0 657.8L208.5 650.0L209.0 648.8L209.5 658.3L210.1 629.6L210.6 653.6L211.1 652.2L211.6 668.2L212.1 620.4L212.6 644.7L213.1 676.9L213.7 640.3L214.2 640.0L214.7 671.4L215.2 681.7L215.7 648.1L216.2 636.6L216.7 638.4L217.2 641.4L217.8 635.2L218.3 635.9L218.8 650.0L219.3 648.3L219.8 654.6L220.3 648.5L220.8 631.3L221.4 658.9L221.9 652.2L222.4 640.7L222.9 645.3L223.4 653.8L223.9 650.6L224.4 647.8L225.0 660.5L225.5 664.9L226.0 645.6L226.5 649.8L227.0 634.7L227.5 647.9L228.0 657.0L228.5 662.4L229.1 652.6L229.6 649.0L230.1 640.2L230.6 653.2L231.1 634.8L231.6 651.9L232.1 650.3L232.7 637.2L233.2 654.5L233.7 646.8L234.2 658.2L234.7 642.9L235.2 656.4L235.7 671.5L236.3 652.0L236.8 660.5L237.3 640.4L237.8 644.4L238.3 622.8L238.8 647.2L239.3 633.4L239.9 650.8L240.4 620.3L240.9 637.2L241.4 650.5L241.9 654.9L242.4 626.2L242.9 643.7L243.4 685.5L244.0 660.7L244.5 652.0L245.0 611.3L245.5 637.1L246.0 657.3L246.5 653.4L247.0 656.5L247.6 663.6L248.1 651.6L248.6 662.2L249.1 625.3L249.6 685.4L250.1 646.3L250.6 641.4L251.2 671.5L251.7 659.0L252.2 664.2L252.7 642.0L253.2 654.6L253.7 660.6L254.2 634.8L254.7 647.7L255.3 647.4L255.8 646.8L256.3 641.1L256.8 633.3L257.3 656.9L257.8 654.4L258.3 667.1L258.9 650.0L259.4 641.7L259.9 630.8L260.4 652.3L260.9 646.7L261.4 679.2L261.9 683.1L262.5 673.2L263.0 638.5L263.5 631.6L264.0 647.9L264.5 638.7L265.0 671.0L265.5 652.8L266.1 645.5L266.6 650.9L267.1 668.6L267.6 637.9L268.1 657.9L268.6 632.5L269.1 648.1L269.6 641.7L270.2 655.3L270.7 653.0L271.2 667.5L271.7 660.3L272.2 642.2L272.7 632.1L273.2 639.1L273.8 644.4L274.3 647.1L274.8 639.6L275.3 665.3L275.8 663.1L276.3 646.1L276.8 642.9L277.4 646.4L277.9 649.0L278.4 649.2L278.9 626.7L279.4 643.2L279.9 622.9L280.4 649.5L280.9 658.3L281.5 633.8L282.0 650.9L282.5 639.9L283.0 638.6L283.5 675.7L284.0 660.5L284.5 654.6L285.1 641.6L285.6 653.3L286.1 644.7L286.6 653.6L287.1 634.4L287.6 645.9L288.1 641.2L288.7 626.7L289.2 670.1L289.7 657.6L290.2 634.9L290.7 625.1L291.2 635.3L291.7 633.4L292.3 636.3L292.8 623.2L293.3 632.4L293.8 644.5L294.3 649.0L294.8 614.7L295.3 642.1L295.8 627.7L296.4 626.3L296.9 636.0L297.4 630.2L297.9 649.2L298.4 648.7L298.9 633.7L299.4 628.3L300.0 662.3L300.5 662.8L301.0 641.1L301.5 632.7L302.0 648.7L302.5 654.4L303.0 625.5L303.6 658.3L304.1 629.5L304.6 646.9L305.1 623.2L305.6 631.1L306.1 623.0L306.6 629.4L307.1 643.2L307.7 615.1L308.2 623.2L308.7 634.9L309.2 619.8L309.7 655.5L310.2 604.4L310.7 661.9L311.3 615.1L311.8 638.3L312.3 647.1L312.8 630.9L313.3 602.2L313.8 617.4L314.3 622.8L314.9 629.5L315.4 635.1L315.9 636.7L316.4 641.3L316.9 605.4L317.4 633.4L317.9 592.8L318.4 620.1L319.0 601.7L319.5 590.8L320.0 629.9L320.5 615.5L321.0 630.0L321.5 591.7L322.0 596.5L322.6 612.5L323.1 603.7L323.6 614.1L324.1 603.3L324.6 607.0L325.1 594.6L325.6 630.0L326.2 605.8L326.7 592.6L327.2 619.7L327.7 616.3L328.2 611.9L328.7 611.5L329.2 601.9L329.8 605.3L330.3 573.9L330.8 583.2L331.3 587.6L331.8 609.7L332.3 623.2L332.8 602.1L333.3 600.1L333.9 620.4L334.4 597.7L334.9 612.4L335.4 608.6L335.9 581.8L336.4 605.9L336.9 603.8L337.5 583.0L338.0 584.2L338.5 580.1L339.0 619.3L339.5 630.0L340.0 608.3L340.5 620.8L341.1 576.3L341.6 617.3L342.1 625.3L342.6 619.4L343.1 580.2L343.6 610.2L344.1 591.5L344.6 608.9L345.2 582.3L345.7 591.6L346.2 582.1L346.7 597.3L347.2 587.8L347.7 605.6L348.2 600.5L348.8 593.5L349.3 585.9L349.8 581.0L350.3 584.9L350.8 595.5L351.3 585.2L351.8 586.8L352.4 580.9L352.9 579.5L353.4 569.6L353.9 550.1L354.4 586.9L354.9 585.8L355.4 561.4L356.0 604.9L356.5 556.5L357.0 589.1L357.5 576.7L358.0 576.8L358.5 588.7L359.0 584.5L359.5 569.7L360.1 552.1L360.6 548.7L361.1 569.8L361.6 590.6L362.1 578.9L362.6 563.9L363.1 568.8L363.7 573.6L364.2 589.1L364.7 549.5L365.2 572.1L365.7 564.4L366.2 547.5L366.7 542.8L367.3 578.1L367.8 562.8L368.3 553.7L368.8 558.0L369.3 571.4L369.8 556.8L370.3 580.1L370.8 550.2L371.4 541.3L371.9 551.4L372.4 537.7L372.9 546.5L373.4 570.8L373.9 577.8L374.4 560.1L375.0 552.6L375.5 534.3L376.0 532.1L376.5 553.1L377.0 549.1L377.5 536.5L378.0 537.8L378.6 568.9L379.1 559.1L379.6 543.3L380.1 545.2L380.6 561.1L381.1 545.6L381.6 542.7L382.2 512.8L382.7 510.0L383.2 505.5L383.7 499.0L384.2 534.0L384.7 538.6L385.2 518.2L385.7 538.4L386.3 537.5L386.8 528.0L387.3 504.5L387.8 550.7L388.3 548.6L388.8 515.9L389.3 555.7L389.9 523.9L390.4 509.4L390.9 514.5L391.4 489.8L391.9 513.3L392.4 491.8L392.9 535.4L393.5 521.0L394.0 491.9L394.5 523.0L395.0 484.2L395.5 513.8L396.0 517.9L396.5 510.0L397.0 489.2L397.6 504.7L398.1 502.3L398.6 505.1L399.1 527.5L399.6 529.7L400.1 526.7L400.6 488.7L401.2 485.5L401.7 497.1L402.2 502.7L402.7 459.9L403.2 482.7L403.7 521.7L404.2 469.7L404.8 476.9L405.3 476.2L405.8 495.0L406.3 484.5L406.8 478.9L407.3 457.5L407.8 492.1L408.3 480.6L408.9 468.0L409.4 478.4L409.9 490.1L410.4 450.4L410.9 447.8L411.4 455.5L411.9 456.7L412.5 418.3L413.0 458.7L413.5 486.8L414.0 460.9L414.5 482.7L415.0 414.7L415.5 460.8L416.1 485.4L416.6 487.4L417.1 450.6L417.6 443.8L418.1 463.4L418.6 434.6L419.1 448.0L419.7 424.1L420.2 453.1L420.7 450.3L421.2 477.0L421.7 453.5L422.2 434.3L422.7 442.6L423.2 420.1L423.8 441.6L424.3 435.7L424.8 445.2L425.3 452.6L425.8 399.5L426.3 438.8L426.8 444.5L427.4 408.8L427.9 462.0L428.4 414.3L428.9 469.2L429.4 438.2L429.9 440.2L430.4 426.5L431.0 438.4L431.5 400.7L432.0 403.5L432.5 381.7L433.0 425.2L433.5 401.8L434.0 426.9L434.5 423.3L435.1 388.0L435.6 424.0L436.1 415.6L436.6 414.1L437.1 418.4L437.6 409.3L438.1 409.6L438.7 428.0L439.2 391.0L439.7 387.0L440.2 394.6L440.7 426.6L441.2 402.0L441.7 441.8L442.3 351.9L442.8 394.0L443.3 398.5L443.8 411.0L444.3 429.7L444.8 401.9L445.3 386.4L445.9 419.1L446.4 431.2L446.9 356.4L447.4 412.0L447.9 405.9L448.4 384.5L448.9 389.9L449.4 402.7L450.0 397.0L450.5 391.0L451.0 373.5L451.5 399.0L452.0 381.0L452.5 394.0L453.0 381.3L453.6 395.2L454.1 404.8L454.6 395.2L455.1 402.6L455.6 365.1L456.1 398.5L456.6 395.0L457.2 378.1L457.7 386.3L458.2 338.2L458.7 390.3L459.2 381.2L459.7 347.2L460.2 397.5L460.7 376.4L461.3 392.9L461.8 383.4L462.3 396.3L462.8 389.0L463.3 382.0L463.8 396.0L464.3 402.0L464.9 345.4L465.4 387.0L465.9 375.5L466.4 366.0L466.9 409.7L467.4 403.2L467.9 366.7L468.5 364.9L469.0 399.9L469.5 373.3L470.0 378.5L470.5 348.3L471.0 381.4L471.5 404.3L472.1 374.8L472.6 380.7L473.1 414.3L473.6 398.0L474.1 407.6L474.6 392.6L475.1 402.6L475.6 349.8L476.2 364.7L476.7 348.9L477.2 419.3L477.7 381.5L478.2 375.4L478.7 363.3L479.2 358.1L479.8 324.7L480.3 416.7L480.8 373.5L481.3 375.6L481.8 348.0L482.3 372.0L482.8 379.4L483.4 370.2L483.9 382.4L484.4 354.9L484.9 375.6L485.4 385.5L485.9 378.7L486.4 374.8L486.9 365.4L487.5 348.6L488.0 376.6L488.5 358.9L489.0 348.4L489.5 379.8L490.0 335.8L490.5 355.0L491.1 379.5L491.6 382.5L492.1 357.9L492.6 365.8L493.1 374.6L493.6 363.1L494.1 350.0L494.7 372.2L495.2 367.1L495.7 366.0L496.2 384.5L496.7 369.6L497.2 355.4L497.7 366.9L498.2 399.8L498.8 350.9L499.3 359.8L499.8 350.6L500.3 372.8L500.8 344.1L501.3 376.8L501.8 383.7L502.4 356.8L502.9 356.7L503.4 346.3L503.9 375.5L504.4 355.3L504.9 365.5L505.4 370.3L506.0 366.5L506.5 395.4L507.0 410.4L507.5 343.6L508.0 368.8L508.5 389.3L509.0 366.8L509.6 377.3L510.1 392.1L510.6 414.7L511.1 412.0L511.6 386.6L512.1 395.5L512.6 387.8L513.1 392.4L513.7 375.6L514.2 366.1L514.7 392.6L515.2 418.0L515.7 415.3L516.2 369.3L516.7 400.5L517.3 393.9L517.8 411.5L518.3 387.8L518.8 425.0L519.3 406.1L519.8 421.2L520.3 427.6L520.9 378.5L521.4 410.3L521.9 442.1L522.4 416.6L522.9 435.8L523.4 425.8L523.9 410.5L524.4 425.4L525.0 440.1L525.5 445.3L526.0 449.2L526.5 405.1L527.0 440.4L527.5 402.6L528.0 425.8L528.6 425.5L529.1 441.4L529.6 437.1L530.1 454.7L530.6 423.2L531.1 449.9L531.6 443.3L532.2 437.7L532.7 418.0L533.2 450.2L533.7 447.1L534.2 456.7L534.7 443.8L535.2 441.6L535.8 454.3L536.3 457.1L536.8 462.5L537.3 484.9L537.8 443.1L538.3 489.8L538.8 405.8L539.3 474.6L539.9 445.4L540.4 495.2L540.9 446.8L541.4 481.3L541.9 447.3L542.4 445.8L542.9 479.6L543.5 481.5L544.0 455.4L544.5 508.9L545.0 463.1L545.5 495.7L546.0 452.4L546.5 453.8L547.1 472.2L547.6 453.9L548.1 479.3L548.6 435.6L549.1 475.5L549.6 463.4L550.1 457.2L550.6 477.5L551.2 470.7L551.7 467.3L552.2 489.1L552.7 480.9L553.2 482.8L553.7 499.3L554.2 476.1L554.8 492.0L555.3 471.4L555.8 489.2L556.3 488.4L556.8 470.9L557.3 455.3L557.8 459.9L558.4 466.2L558.9 492.1L559.4 481.2L559.9 479.2L560.4 492.9L560.9 497.8L561.4 509.7L562.0 477.1L562.5 497.1L563.0 500.4L563.5 473.5L564.0 492.2L564.5 475.6L565.0 487.9L565.5 499.5L566.1 464.9L566.6 479.5L567.1 481.3L567.6 497.0L568.1 484.0L568.6 503.1L569.1 483.5L569.7 489.9L570.2 509.1L570.7 505.1L571.2 503.1L571.7 500.6L572.2 518.5L572.7 525.4L573.3 497.3L573.8 492.2L574.3 487.7L574.8 534.1L575.3 491.6L575.8 485.3L576.3 512.1L576.8 525.7L577.4 488.9L577.9 507.8L578.4 487.1L578.9 500.0L579.4 538.7L579.9 515.6L580.4 509.3L581.0 515.5L581.5 519.7L582.0 514.2L582.5 497.3L583.0 498.2L583.5 550.8L584.0 506.6L584.6 539.2L585.1 508.9L585.6 542.5L586.1 533.5L586.6 519.6L587.1 556.3L587.6 509.6L588.1 521.7L588.7 512.5L589.2 514.7L589.7 522.2L590.2 513.5L590.7 524.6L591.2 556.0L591.7 503.6L592.3 512.3L592.8 518.0L593.3 526.7L593.8 551.2L594.3 547.5L594.8 544.5L595.3 541.0L595.9 576.8L596.4 521.6L596.9 522.1L597.4 540.9L597.9 545.5L598.4 539.4L598.9 530.7L599.5 524.2L600.0 541.5L600.5 535.6L601.0 540.2L601.5 531.7L602.0 570.8L602.5 557.8L603.0 580.8L603.6 544.5L604.1 554.6L604.6 550.7L605.1 556.0L605.6 552.6L606.1 555.1L606.6 527.8L607.2 555.4L607.7 571.5L608.2 531.3L608.7 557.2L609.2 572.6L609.7 584.3L610.2 564.3L610.8 573.7L611.3 594.8L611.8 588.6L612.3 562.5L612.8 561.0L613.3 587.1L613.8 575.7L614.3 564.7L614.9 570.4L615.4 579.7L615.9 572.6L616.4 572.7L616.9 573.8L617.4 555.4L617.9 605.7L618.5 598.6L619.0 603.9L619.5 579.5L620.0 584.2L620.5 591.9L621.0 596.3L621.5 556.7L622.1 590.7L622.6 570.8L623.1 585.6L623.6 577.3L624.1 613.9L624.6 596.9L625.1 589.0L625.7 611.2L626.2 589.6L626.7 580.4L627.2 589.2L627.7 587.1L628.2 594.0L628.7 606.6L629.2 592.7L629.8 594.1L630.3 611.0L630.8 600.7L631.3 611.2L631.8 599.6L632.3 578.6L632.8 581.9L633.4 574.5L633.9 617.0L634.4 606.7L634.9 594.0L635.4 586.8L635.9 607.6L636.4 600.8L637.0 608.1L637.5 591.3L638.0 587.9L638.5 628.3L639.0 591.3L639.5 605.6L640.0 626.4L640.5 579.8L641.1 618.0L641.6 609.1L642.1 606.4L642.6 613.1L643.1 592.0L643.6 577.1L644.1 638.5L644.7 606.8L645.2 624.7L645.7 628.4L646.2 616.7L646.7 619.7L647.2 623.9L647.7 637.1L648.3 621.5L648.8 633.3L649.3 610.9L649.8 609.3L650.3 617.2L650.8 622.3L651.3 624.7L651.9 645.8L652.4 629.9L652.9 618.9L653.4 647.5L653.9 623.6L654.4 624.4L654.9 626.7L655.4 615.1L656.0 604.3L656.5 622.6L657.0 616.5L657.5 608.8L658.0 623.5L658.5 619.2L659.0 613.9L659.6 597.0L660.1 620.8L660.6 649.2L661.1 636.9L661.6 640.1L662.1 624.4L662.6 640.5L663.2 615.7L663.7 619.2L664.2 633.8L664.7 605.9L665.2 627.8L665.7 631.8L666.2 652.3L666.7 618.1L667.3 634.7L667.8 619.6L668.3 621.5L668.8 590.8L669.3 616.7L669.8 647.3L670.3 638.6L670.9 633.9L671.4 667.6L671.9 640.3L672.4 615.2L672.9 630.7L673.4 633.3L673.9 657.7L674.5 622.2L675.0 641.7L675.5 650.1L676.0 624.8L676.5 638.1L677.0 608.4L677.5 639.0L678.0 606.3L678.6 632.7L679.1 663.2L679.6 644.7L680.1 639.9L680.6 641.6L681.1 670.6L681.6 648.0L682.2 655.2L682.7 634.4L683.2 634.7L683.7 626.2L684.2 638.9L684.7 631.7L685.2 656.0L685.8 651.3L686.3 640.8L686.8 635.0L687.3 601.8L687.8 634.8L688.3 647.8L688.8 653.2L689.4 600.2L689.9 610.2L690.4 646.8L690.9 630.2L691.4 642.1L691.9 638.7L692.4 654.1L692.9 619.7L693.5 638.3L694.0 660.1L694.5 650.0L695.0 635.7L695.5 654.2L696.0 652.2L696.5 636.0L697.1 658.8L697.6 658.9L698.1 648.0L698.6 663.5L699.1 634.1L699.6 661.9L700.1 648.8L700.7 638.8L701.2 644.0L701.7 669.2L702.2 645.4L702.7 648.7L703.2 644.8L703.7 643.2L704.2 668.2L704.8 686.2L705.3 674.2L705.8 662.8L706.3 666.6L706.8 651.5L707.3 649.7L707.8 640.5L708.4 677.4L708.9 652.8L709.4 647.8L709.9 649.2L710.4 661.0L710.9 651.0L711.4 659.2L712.0 661.5L712.5 678.1L713.0 642.4L713.5 664.1L714.0 650.5L714.5 654.5L715.0 683.3L715.6 669.7L716.1 655.9L716.6 668.4L717.1 661.6L717.6 677.6L718.1 655.6L718.6 669.5L719.1 660.1L719.7 663.4L720.2 661.4L720.7 655.2L721.2 665.6L721.7 678.0L722.2 656.3L722.7 659.6L723.3 670.4L723.8 655.1L724.3 677.9L724.8 675.9L725.3 634.7L725.8 657.7L726.3 652.1L726.9 678.7L727.4 680.5L727.9 651.3L728.4 658.6L728.9 667.2L729.4 663.5L729.9 678.8L730.4 682.6L731.0 677.5L731.5 684.6L732.0 682.6L732.5 669.0L733.0 664.2L733.5 660.2L734.0 681.8L734.6 682.9L735.1 684.8L735.6 666.5L736.1 665.8L736.6 674.9L737.1 688.6L737.6 676.5L738.2 674.8L738.7 660.5L739.2 678.0L739.7 679.5L740.2 659.2L740.7 696.5L741.2 659.9L741.8 685.4L742.3 670.0L742.8 675.2L743.3 662.4L743.8 665.6L744.3 683.1L744.8 671.1L745.3 669.2L745.9 686.2L746.4 684.0L746.9 676.7L747.4 677.8L747.9 698.4L748.4 672.7L748.9 680.5L749.5 681.2L750.0 656.5L750.5 649.5L751.0 677.8L751.5 688.1L752.0 679.2L752.5 669.4L753.1 668.0L753.6 688.2L754.1 673.3L754.6 655.7L755.1 687.1L755.6 681.3L756.1 683.5L756.6 692.7L757.2 696.8L757.7 686.7L758.2 677.0L758.7 651.0L759.2 684.0L759.7 678.2L760.2 698.4L760.8 698.2L761.3 687.6L761.8 700.1L762.3 681.0L762.8 681.9L763.3 671.6L763.8 679.3L764.4 687.0L764.9 699.0L765.4 675.4L765.9 696.6L766.4 717.9L766.9 668.8L767.4 683.8L767.9 688.0L768.5 701.5L769.0 714.9L769.5 704.9L770.0 688.0L770.5 677.2L771.0 688.0L771.5 688.4L772.1 692.3L772.6 677.1L773.1 709.7L773.6 679.6L774.1 698.5L774.6 692.3L775.1 674.9L775.7 690.5L776.2 690.0L776.7 687.2L777.2 700.7L777.7 683.5L778.2 724.1L778.7 705.1L779.3 677.8L779.8 656.7L780.3 707.0L780.8 693.6L781.3 691.3L781.8 677.2L782.3 671.0L782.8 665.4L783.4 724.9L783.9 712.0L784.4 683.1L784.9 715.8L785.4 665.8L785.9 700.1L786.4 700.2L787.0 679.2L787.5 684.7L788.0 676.9L788.5 691.5L789.0 708.7L789.5 704.5L790.0 696.8L790.6 706.3L791.1 667.3L791.6 718.6L792.1 690.8L792.6 673.8L793.1 686.4L793.6 682.9L794.1 693.0L794.7 696.0L795.2 660.5L795.7 708.9L796.2 715.2L796.7 678.1L797.2 712.0L797.7 709.1L798.3 705.9L798.8 714.3L799.3 673.7L799.8 702.2L800.3 678.9L800.8 724.5L801.3 679.6L801.9 676.2L802.4 707.9L802.9 701.2L803.4 693.3L803.9 694.9L804.4 701.4L804.9 716.5L805.5 683.7L806.0 685.8L806.5 685.7L807.0 692.6L807.5 693.8L808.0 676.4L808.5 698.0L809.0 676.9L809.6 689.9L810.1 690.9L810.6 691.1L811.1 714.5L811.6 716.7L812.1 709.4L812.6 716.4L813.2 691.3L813.7 714.4L814.2 694.9L814.7 698.9L815.2 699.7L815.7 678.3L816.2 688.3L816.8 694.6L817.3 701.9L817.8 695.5L818.3 686.0L818.8 682.1L819.3 698.1L819.8 682.3L820.3 682.7L820.9 697.3L821.4 701.4L821.9 688.1L822.4 675.6L822.9 703.6L823.4 711.0L823.9 694.8L824.5 695.4L825.0 669.6L825.5 713.0L826.0 686.5L826.5 711.0L827.0 693.7L827.5 699.9L828.1 699.5L828.6 678.2L829.1 739.2L829.6 681.8L830.1 704.5L830.6 692.4L831.1 700.4L831.7 722.3L832.2 679.3L832.7 702.5L833.2 711.3L833.7 706.5L834.2 710.4L834.7 695.3L835.2 683.6L835.8 688.0L836.3 700.1L836.8 715.4L837.3 706.5L837.8 726.6L838.3 706.3L838.8 707.2L839.4 706.7L839.9 680.1L840.4 710.1L840.9 686.5L841.4 695.1L841.9 730.4L842.4 681.0L843.0 697.8L843.5 698.7L844.0 695.1L844.5 691.9L845.0 682.8L845.5 716.1L846.0 660.2L846.5 672.3L847.1 705.4L847.6 691.4L848.1 672.4L848.6 669.7L849.1 677.7L849.6 716.6L850.1 686.1L850.7 664.0L851.2 680.5L851.7 667.4L852.2 695.6L852.7 677.5L853.2 689.5L853.7 672.7L854.3 697.2L854.8 672.7L855.3 668.8L855.8 648.3L856.3 654.3L856.8 663.2L857.3 647.7L857.8 687.0L858.4 647.8L858.9 633.1L859.4 654.1L859.9 627.3L860.4 635.7L860.9 622.5L861.4 606.7L862.0 631.0L862.5 603.8L863.0 610.4L863.5 579.2L864.0 552.2L864.5 543.8L865.0 543.0L865.6 535.5L866.1 525.7L866.6 518.3L867.1 479.1L867.6 484.9L868.1 454.4L868.6 448.7L869.2 462.9L869.7 441.8L870.2 426.5L870.7 431.3L871.2 430.2L871.7 432.6L872.2 444.0L872.7 443.4L873.3 455.9L873.8 460.9L874.3 492.2L874.8 482.3L875.3 507.1L875.8 535.9L876.3 535.1L876.9 561.5L877.4 596.7L877.9 564.9L878.4 612.1L878.9 590.3L879.4 595.6L879.9 621.2L880.5 640.5L881.0 621.8L881.5 627.9L882.0 637.9L882.5 639.1L883.0 656.8L883.5 648.3L884.0 658.8L884.6 670.9L885.1 663.4L885.6 688.3L886.1 665.7L886.6 667.0L887.1 708.1L887.6 702.9L888.2 685.4L888.7 697.9L889.2 693.2L889.7 683.6L890.2 701.6L890.7 698.4L891.2 713.4L891.8 673.0L892.3 710.3L892.8 703.3L893.3 693.4L893.8 698.4L894.3 700.1L894.8 689.2L895.4 700.4L895.9 719.6L896.4 690.1L896.9 706.2L897.4 680.8L897.9 705.2L898.4 718.6L898.9 713.4L899.5 715.3L900.0 700.6L900.5 723.3L901.0 704.5L901.5 728.8L902.0 720.1L902.5 712.8L903.1 737.7L903.6 713.5L904.1 732.5L904.6 720.9L905.1 720.0L905.6 733.5L906.1 726.6L906.7 721.2L907.2 720.1L907.7 724.9L908.2 723.6L908.7 718.7L909.2 709.8L909.7 690.0L910.2 722.6L910.8 721.3L911.3 740.6L911.8 731.0L912.3 740.4L912.8 748.4L913.3 724.9L913.8 715.8L914.4 737.6L914.9 719.7L915.4 724.4L915.9 746.6L916.4 735.5L916.9 742.8L917.4 711.6L918.0 729.8L918.5 744.0L919.0 713.4L919.5 732.8L920.0 735.7L920.5 701.1L921.0 751.6L921.6 722.1L922.1 729.8L922.6 753.3L923.1 709.0L923.6 738.2L924.1 726.7L924.6 733.2L925.1 722.3L925.7 750.5L926.2 718.9L926.7 738.0L927.2 740.5L927.7 732.6L928.2 730.4L928.7 730.7L929.3 747.4L929.8 740.2L930.3 733.5L930.8 720.8L931.3 737.0L931.8 741.9L932.3 734.8L932.9 753.7L933.4 711.1L933.9 767.5L934.4 733.5L934.9 721.4L935.4 713.8L935.9 747.3L936.4 743.6L937.0 733.6L937.5 735.9L938.0 738.7L938.5 731.3L939.0 751.5L939.5 744.8L940.0 735.4L940.6 716.0L941.1 754.5L941.6 730.9L942.1 723.8L942.6 753.5L943.1 743.4L943.6 711.4L944.2 715.8L944.7 731.9L945.2 720.9L945.7 734.9L946.2 770.2L946.7 774.7L947.2 736.1L947.7 746.7L948.3 747.7L948.8 734.7L949.3 717.2L949.8 749.7L950.3 733.5L950.8 741.4L951.3 744.5L951.9 724.9L952.4 756.6L952.9 735.8L953.4 737.5L953.9 728.9L954.4 743.3L954.9 747.0L955.5 726.7L956.0 741.1L956.5 727.8L957.0 717.4L957.5 728.8L958.0 740.7L958.5 739.8L959.1 746.4L959.6 723.6L960.1 728.2L960.6 732.9L961.1 739.8L961.6 730.2L962.1 719.3L962.6 711.5L963.2 746.5L963.7 745.0L964.2 722.6L964.7 750.2L965.2 730.4L965.7 737.2L966.2 747.8L966.8 725.7L967.3 722.2L967.8 710.2L968.3 736.9L968.8 739.2L969.3 744.9L969.8 742.0L970.4 736.0L970.9 749.8L971.4 722.3L971.9 740.7L972.4 742.6L972.9 734.6L973.4 758.4L973.9 741.9L974.5 753.5L975.0 747.4L975.5 733.2L976.0 759.7L976.5 748.4L977.0 733.5L977.5 730.8L978.1 718.0L978.6 728.3L979.1 726.2L979.6 730.9L980.1 721.7L980.6 733.7L981.1 724.4L981.7 704.2L982.2 717.6L982.7 712.0L983.2 706.6L983.7 719.5L984.2 734.3L984.7 707.2L985.3 695.1L985.8 718.8L986.3 759.6L986.8 712.1L987.3 723.0L987.8 713.5L988.3 729.7L988.8 736.9L989.4 715.3L989.9 732.5L990.4 702.1L990.9 718.6L991.4 698.6L991.9 717.3L992.4 706.2L993.0 716.9L993.5 698.3L994.0 715.6L994.5 713.4L995.0 703.7L995.5 699.9L996.0 694.1L996.6 703.8L997.1 713.7L997.6 705.7L998.1 708.7L998.6 722.7L999.1 700.4L999.6 707.6L1000.1 713.7L1000.7 708.4L1001.2 705.4L1001.7 699.9L1002.2 723.5L1002.7 694.9L1003.2 689.0L1003.7 700.5L1004.3 712.8L1004.8 707.8L1005.3 686.6L1005.8 695.1L1006.3 687.8L1006.8 679.0L1007.3 683.7L1007.9 679.7L1008.4 669.0L1008.9 687.1L1009.4 652.5L1009.9 672.5L1010.4 677.0L1010.9 671.0L1011.5 637.3L1012.0 622.9L1012.5 593.4L1013.0 607.2L1013.5 635.2L1014.0 563.2L1014.5 551.5L1015.0 576.1L1015.6 559.3L1016.1 505.6L1016.6 518.7L1017.1 508.9L1017.6 461.1L1018.1 484.2L1018.6 427.7L1019.2 449.0L1019.7 414.1L1020.2 380.4L1020.7 348.2L1021.2 347.6L1021.7 332.5L1022.2 315.1L1022.8 296.0L1023.3 286.2L1023.8 281.2L1024.3 265.7L1024.8 264.2L1025.3 265.5L1025.8 266.8L1026.3 276.9L1026.9 291.6L1027.4 292.3L1027.9 311.6L1028.4 294.2L1028.9 340.1L1029.4 372.9L1029.9 366.7L1030.5 424.1L1031.0 392.8L1031.5 465.1L1032.0 453.5L1032.5 463.7L1033.0 490.3L1033.5 510.9L1034.1 514.9L1034.6 524.4L1035.1 552.4L1035.6 588.7L1036.1 592.6L1036.6 618.2L1037.1 599.3L1037.6 612.9L1038.2 622.3L1038.7 637.6L1039.2 649.7L1039.7 675.2L1040.2 666.3L1040.7 664.4L1041.2 686.4L1041.8 661.2L1042.3 658.3L1042.8 689.7L1043.3 686.5L1043.8 689.1L1044.3 703.3L1044.8 688.8L1045.4 694.4L1045.9 703.5L1046.4 709.3L1046.9 715.8L1047.4 706.1L1047.9 709.9L1048.4 675.8L1049.0 725.8L1049.5 690.2L1050.0 711.8L1050.5 747.3L1051.0 710.7L1051.5 695.3L1052.0 738.5L1052.5 711.1L1053.1 717.4L1053.6 718.4L1054.1 731.2L1054.6 732.8L1055.1 722.0L1055.6 739.0L1056.1 713.7L1056.7 735.1L1057.2 719.1L1057.7 737.1L1058.2 720.2L1058.7 723.9L1059.2 749.3L1059.7 716.5L1060.3 716.4L1060.8 739.5L1061.3 729.2L1061.8 727.6L1062.3 731.7L1062.8 761.2L1063.3 721.1L1063.8 731.3L1064.4 737.2L1064.9 723.4L1065.4 735.4L1065.9 742.3L1066.4 724.8L1066.9 751.0L1067.4 722.5L1068.0 735.5L1068.5 741.9L1069.0 778.4L1069.5 715.8L1070.0 741.9L1070.5 770.6L1071.0 731.0L1071.6 752.7L1072.1 741.6L1072.6 720.8L1073.1 744.1L1073.6 727.9L1074.1 740.3L1074.6 720.2L1075.2 748.6L1075.7 708.7L1076.2 737.3L1076.7 755.8L1077.2 746.1L1077.7 735.1L1078.2 736.6L1078.7 734.2L1079.3 774.2L1079.8 739.1L1080.3 739.7L1080.8 730.6L1081.3 734.1L1081.8 747.9L1082.3 732.6L1082.9 730.2L1083.4 733.6L1083.9 736.2L1084.4 743.0L1084.9 734.7L1085.4 738.6L1085.9 731.6L1086.5 756.9L1087.0 742.5L1087.5 737.5L1088.0 745.3L1088.5 741.1L1089.0 722.0L1089.5 739.6L1090.0 762.9L1090.6 748.5L1091.1 757.1L1091.6 733.8L1092.1 723.6L1092.6 733.7L1093.1 759.7L1093.6 730.1L1094.2 732.8L1094.7 756.9L1095.2 739.8L1095.7 740.6L1096.2 748.0L1096.7 744.4L1097.2 739.5L1097.8 746.6L1098.3 734.5L1098.8 743.1L1099.3 752.0L1099.8 730.4L1100.3 741.1L1100.8 729.5L1101.4 753.4L1101.9 751.8L1102.4 756.0L1102.9 757.2L1103.4 757.1L1103.9 753.3L1104.4 734.5L1104.9 756.2L1105.5 732.9L1106.0 773.9L1106.5 748.2L1107.0 752.1L1107.5 729.1L1108.0 758.2L1108.5 759.5L1109.1 725.0L1109.6 737.8L1110.1 739.0L1110.6 736.8L1111.1 762.4L1111.6 772.3L1112.1 731.6L1112.7 758.3L1113.2 741.8L1113.7 762.4L1114.2 714.4L1114.7 739.8L1115.2 760.6L1115.7 735.7L1116.2 760.3L1116.8 739.0L1117.3 759.8L1117.8 752.8L1118.3 740.2L1118.8 735.9L1119.3 743.4L1119.8 760.2L1120.4 745.5L1120.9 737.3L1121.4 787.5L1121.9 725.9L1122.4 742.9L1122.9 752.6L1123.4 732.6L1124.0 745.7L1124.5 740.6L1125.0 727.2L1125.5 751.6L1126.0 731.6L1126.5 736.5L1127.0 761.5L1127.5 731.9L1128.1 753.7L1128.6 761.0L1129.1 758.6L1129.6 752.0L1130.1 743.2L1130.6 728.5L1131.1 748.0L1131.7 751.8L1132.2 739.8L1132.7 733.9L1133.2 757.2L1133.7 733.1L1134.2 751.9L1134.7 740.3L1135.3 725.2L1135.8 766.7L1136.3 754.1L1136.8 753.3L1137.3 728.7L1137.8 744.9L1138.3 750.0L1138.9 737.2L1139.4 767.3L1139.9 721.2L1140.4 755.4L1140.9 722.8L1141.4 726.9L1141.9 730.5L1142.4 753.8L1143.0 737.7L1143.5 738.2L1144.0 735.3L1144.5 728.1L1145.0 735.4L1145.5 734.3L1146.0 742.7L1146.6 741.9L1147.1 716.6L1147.6 738.6L1148.1 762.0L1148.6 740.8L1149.1 745.9L1149.6 737.7L1150.2 738.2L1150.7 745.9L1151.2 729.9L1151.7 744.8L1152.2 726.0L1152.7 751.1L1153.2 727.2L1153.7 755.2L1154.3 759.8L1154.8 726.7L1155.3 755.6L1155.8 742.1L1156.3 761.8L1156.8 740.6L1157.3 743.8L1157.9 743.8L1158.4 763.3L1158.9 723.3L1159.4 757.2L1159.9 748.8L1160.4 741.6L1160.9 744.8L1161.5 759.6L1162.0 758.3L1162.5 769.3L1163.0 740.1L1163.5 724.5L1164.0 741.4L1164.5 745.9L1165.1 743.0L1165.6 763.8L1166.1 777.1L1166.6 753.5L1167.1 726.5L1167.6 761.9L1168.1 740.9L1168.6 749.6L1169.2 759.6L1169.7 753.8L1170.2 748.5L1170.7 753.0L1171.2 759.0L1171.7 757.4L1172.2 775.5L1172.8 712.4L1173.3 740.1L1173.8 742.6L1174.3 760.3L1174.8 752.9L1175.3 760.8L1175.8 732.5L1176.4 747.6L1176.9 758.5L1177.4 749.9L1177.9 745.6L1178.4 754.1L1178.9 771.3L1179.4 724.6L1179.9 770.7L1180.5 754.5L1181.0 740.4L1181.5 759.4L1182.0 751.7L1182.5 766.3L1183.0 741.3L1183.5 763.5L1184.1 740.2L1184.6 755.6L1185.1 760.3L1185.6 750.7L1186.1 759.8L1186.6 744.5L1187.1 765.1L1187.7 745.7L1188.2 743.3L1188.7 750.7L1189.2 751.6L1189.7 741.9L1190.2 762.3L1190.7 750.9L1191.3 760.0L1191.8 734.0L1192.3 736.3L1192.8 749.4L1193.3 740.5L1193.8 751.2L1194.3 759.9L1194.8 766.9L1195.4 771.3L1195.9 762.9L1196.4 744.5L1196.9 760.1L1197.4 746.9L1197.9 760.2L1198.4 740.4L1199.0 770.3L1199.5 758.8L1200.0 750.2L1200.5 736.9L1201.0 757.4L1201.5 747.4L1202.0 757.2L1202.6 745.3L1203.1 747.5L1203.6 762.0L1204.1 772.6L1204.6 738.7L1205.1 752.1L1205.6 759.4L1206.1 752.7L1206.7 749.2L1207.2 781.5L1207.7 744.4L1208.2 759.3L1208.7 748.9L1209.2 753.8L1209.7 726.8L1210.3 766.1L1210.8 752.6L1211.3 743.3L1211.8 775.9L1212.3 752.0L1212.8 747.9L1213.3 745.1L1213.9 768.8L1214.4 756.0L1214.9 751.9L1215.4 739.4L1215.9 744.7L1216.4 760.1L1216.9 755.7L1217.4 731.1L1218.0 745.2L1218.5 758.9L1219.0 789.3L1219.5 746.9L1220.0 728.8L1220.5 765.8L1221.0 750.4L1221.6 740.1L1222.1 763.4L1222.6 753.6L1223.1 744.6L1223.6 740.4L1224.1 755.1L1224.6 757.7L1225.2 734.7L1225.7 768.9L1226.2 741.1L1226.7 774.1L1227.2 760.9L1227.7 754.6L1228.2 761.0L1228.8 749.6L1229.3 756.1L1229.8 777.3L1230.3 750.0L1230.8 767.1L1231.3 746.0L1231.8 756.9L1232.3 769.0L1232.9 742.3L1233.4 761.3L1233.9 730.7L1234.4 743.1L1234.9 752.1L1235.4 768.2L1235.9 766.2L1236.5 746.1L1237.0 755.8L1237.5 759.7L1238.0 738.1L1238.5 762.7L1239.0 774.1L1239.5 772.8L1240.1 750.2L1240.6 752.5L1241.1 746.0L1241.6 751.5L1242.1 754.5L1242.6 766.1L1243.1 758.7L1243.6 746.2L1244.2 767.8L1244.7 768.6L1245.2 750.2L1245.7 754.7L1246.2 756.5L1246.7 737.6L1247.2 759.5L1247.8 766.2L1248.3 781.9L1248.8 760.3L1249.3 754.4L1249.8 756.1L1250.3 765.5L1250.8 767.8L1251.4 747.5L1251.9 760.4L1252.4 766.1L1252.9 733.4L1253.4 775.0L1253.9 755.5L1254.4 768.9L1255.0 757.6L1255.5 755.2L1256.0 757.3L1256.5 761.8L1257.0 769.0L1257.5 755.1L1258.0 744.6L1258.5 749.8L1259.1 746.4L1259.6 767.8L1260.1 746.7L1260.6 777.2L1261.1 760.1L1261.6 757.5L1262.1 774.7L1262.7 754.1L1263.2 755.0L1263.7 768.3L1264.2 767.8L1264.7 746.5L1265.2 789.0L1265.7 765.8L1266.3 743.4L1266.8 756.7L1267.3 770.3L1267.8 761.7L1268.3 769.5L1268.8 788.1L1269.3 770.5L1269.8 783.8L1270.4 767.5L1270.9 751.0L1271.4 777.8L1271.9 750.7L1272.4 771.1L1272.9 767.4L1273.4 749.0L1274.0 750.8L1274.5 757.4L1275.0 764.5L1275.5 776.0L1276.0 760.6L1276.5 783.1L1277.0 770.6L1277.6 752.0L1278.1 752.3L1278.6 761.0L1279.1 753.7L1279.6 759.0L1280.1 769.7L1280.6 763.4L1281.2 772.3L1281.7 751.9L1282.2 749.8L1282.7 743.2L1283.2 738.6L1283.7 755.0L1284.2 761.4L1284.7 758.2L1285.3 760.8L1285.8 785.8L1286.3 747.4L1286.8 757.5L1287.3 754.9L1287.8 749.8L1288.3 777.6L1288.9 760.6L1289.4 776.5L1289.9 747.3L1290.4 784.2L1290.9 789.0L1291.4 750.6L1291.9 761.2L1292.5 759.8L1293.0 768.3L1293.5 745.5L1294.0 767.2L1294.5 770.5L1295.0 754.2L1295.5 733.9L1296.0 753.3L1296.6 756.9L1297.1 771.2L1297.6 754.2L1298.1 747.8L1298.6 769.5L1299.1 766.5L1299.6 771.0L1300.2 762.6L1300.7 775.1L1301.2 768.4L1301.7 740.3L1302.2 764.7L1302.7 771.8L1303.2 762.8L1303.8 780.3L1304.3 756.8L1304.8 771.0L1305.3 747.5L1305.8 762.6L1306.3 755.9L1306.8 750.4L1307.3 746.7L1307.9 765.5L1308.4 768.0L1308.9 755.0L1309.4 747.7L1309.9 752.2L1310.4 772.3L1310.9 748.3L1311.5 777.0L1312.0 742.7L1312.5 766.6L1313.0 771.4L1313.5 778.2L1314.0 758.1L1314.5 754.0L1315.1 746.1L1315.6 774.6L1316.1 762.0L1316.6 758.0L1317.1 758.6L1317.6 766.9L1318.1 764.2L1318.7 778.3L1319.2 737.7L1319.7 774.4L1320.2 757.6L1320.7 763.2L1321.2 760.4L1321.7 763.3L1322.2 773.6L1322.8 767.1L1323.3 746.9L1323.8 763.8L1324.3 763.5L1324.8 769.2L1325.3 765.3L1325.8 763.9L1326.4 777.4L1326.9 751.7L1327.4 791.7L1327.9 758.2L1328.4 752.6L1328.9 774.8L1329.4 778.4L1330.0 780.7L1330.5 783.3L1331.0 771.3L1331.5 766.4L1332.0 770.3L1332.5 765.7L1333.0 759.2L1333.5 785.4L1334.1 788.1L1334.6 766.1L1335.1 763.2L1335.6 760.1L1336.1 745.6L1336.6 757.9L1337.1 760.0L1337.7 766.1L1338.2 754.2L1338.7 743.2L1339.2 774.4L1339.7 787.5L1340.2 740.6L1340.7 764.9L1341.3 777.1L1341.8 752.5L1342.3 749.2L1342.8 767.2L1343.3 763.9L1343.8 759.1L1344.3 786.9L1344.9 785.1L1345.4 774.9L1345.9 766.1L1346.4 763.0L1346.9 777.8L1347.4 764.2L1347.9 785.2L1348.4 782.3L1349.0 759.8L1349.5 776.4L1350.0 786.3L1350.5 775.2L1351.0 755.7L1351.5 764.0L1352.0 763.1L1352.6 768.8L1353.1 767.7L1353.6 763.0L1354.1 777.8L1354.6 783.8L1355.1 760.5L1355.6 749.4L1356.2 771.9L1356.7 767.5L1357.2 772.5L1357.7 759.1L1358.2 771.0L1358.7 756.3L1359.2 780.7L1359.7 787.9L1360.3 756.1L1360.8 735.8L1361.3 761.5L1361.8 761.0L1362.3 769.8L1362.8 767.7L1363.3 773.4L1363.9 800.5L1364.4 760.6L1364.9 762.8L1365.4 772.7L1365.9 744.8L1366.4 776.9L1366.9 759.8L1367.5 749.8L1368.0 757.0L1368.5 773.4L1369.0 777.5L1369.5 782.5L1370.0 772.6L1370.5 758.4L1371.1 774.0L1371.6 766.2L1372.1 795.7L1372.6 742.1L1373.1 786.8L1373.6 776.5L1374.1 772.1L1374.6 766.0L1375.2 760.2L1375.7 755.3L1376.2 748.0L1376.7 791.9L1377.2 778.4L1377.7 775.2L1378.2 771.4L1378.8 743.6L1379.3 763.5L1379.8 768.4L1380.3 781.0L1380.8 754.6L1381.3 770.2L1381.8 763.9L1382.4 767.2L1382.9 757.3L1383.4 771.2L1383.9 767.7L1384.4 743.9L1384.9 781.5L1385.4 793.5L1385.9 755.9L1386.5 780.7L1387.0 754.7L1387.5 760.1L1388.0 788.1L1388.5 769.0L1389.0 785.1L1389.5 770.1L1390.1 778.9L1390.6 764.5L1391.1 784.0L1391.6 788.3L1392.1 774.8L1392.6 759.6L1393.1 762.0L1393.7 754.9L1394.2 773.8L1394.7 772.8L1395.2 757.9L1395.7 777.6L1396.2 759.3L1396.7 788.6L1397.2 776.4L1397.8 785.7L1398.3 757.6L1398.8 754.1L1399.3 744.0L1399.8 774.2L1400.3 752.5L1400.8 782.6L1401.4 768.0L1401.9 775.5L1402.4 750.5L1402.9 758.9L1403.4 768.4L1403.9 775.1L1404.4 750.4L1405.0 770.3L1405.5 755.9L1406.0 775.9L1406.5 763.2L1407.0 762.3L1407.5 771.3L1408.0 780.0L1408.6 763.0L1409.1 780.8L1409.6 753.7L1410.1 769.3L1410.6 752.1L1411.1 768.4L1411.6 754.6L1412.1 766.1L1412.7 773.3L1413.2 753.9L1413.7 744.2L1414.2 763.4L1414.7 771.9L1415.2 768.3L1415.7 754.4L1416.3 775.6L1416.8 761.9L1417.3 774.7L1417.8 754.6L1418.3 770.7L1418.8 779.6L1419.3 757.2L1419.9 761.7L1420.4 772.8L1420.9 771.6L1421.4 769.5L1421.9 763.6L1422.4 746.0L1422.9 765.0L1423.4 749.3L1424.0 766.0L1424.5 736.5L1425.0 782.4L1425.5 788.0L1426.0 770.3L1426.5 754.5L1427.0 761.1L1427.6 775.6L1428.1 772.8L1428.6 756.2L1429.1 779.3L1429.6 773.5L1430.1 771.2L1430.6 760.4L1431.2 764.6L1431.7 756.0L1432.2 766.9L1432.7 756.5L1433.2 778.8L1433.7 765.0L1434.2 767.1L1434.8 768.5L1435.3 768.4L1435.8 747.1L1436.3 780.0L1436.8 765.6L1437.3 757.7L1437.8 752.6L1438.3 756.1L1438.9 756.9L1439.4 764.5L1439.9 753.8L1440.4 765.6L1440.9 766.0L1441.4 755.9L1441.9 791.1L1442.5 762.8L1443.0 768.3L1443.5 765.5L1444.0 762.2L1444.5 772.3L1445.0 780.8L1445.5 763.2L1446.1 753.6L1446.6 770.7L1447.1 737.9L1447.6 765.9L1448.1 761.7L1448.6 767.9L1449.1 745.6L1449.6 758.6L1450.2 751.4L1450.7 757.3L1451.2 770.9L1451.7 761.4L1452.2 756.5L1452.7 778.0L1453.2 763.8L1453.8 739.0L1454.3 750.9L1454.8 768.5L1455.3 768.8L1455.8 766.1L1456.3 766.5L1456.8 752.4L1457.4 762.1L1457.9 748.8L1458.4 753.1L1458.9 752.1L1459.4 752.9L1459.9 758.9L1460.4 760.2L1461.0 753.2L1461.5 775.9L1462.0 757.3L1462.5 781.4L1463.0 774.8L1463.5 748.0L1464.0 773.3L1464.5 745.6L1465.1 780.0L1465.6 766.3L1466.1 750.2L1466.6 735.4L1467.1 756.7L1467.6 744.8L1468.1 774.0L1468.7 745.2L1469.2 757.0L1469.7 765.2L1470.2 758.7L1470.7 761.2L1471.2 754.4L1471.7 765.6L1472.3 744.8L1472.8 762.6L1473.3 740.4L1473.8 756.7L1474.3 740.1L1474.8 751.1L1475.3 760.3L1475.8 767.9L1476.4 730.4L1476.9 742.8L1477.4 740.1L1477.9 766.9L1478.4 741.3L1478.9 760.6L1479.4 745.5L1480.0 734.1L1480.5 753.2L1481.0 737.8L1481.5 760.8L1482.0 762.0L1482.5 768.1L1483.0 739.3L1483.6 771.1L1484.1 763.7L1484.6 729.7L1485.1 779.0L1485.6 772.5L1486.1 739.0L1486.6 755.9L1487.1 735.3L1487.7 750.2L1488.2 754.2L1488.7 759.5L1489.2 741.8L1489.7 751.6L1490.2 740.5L1490.7 756.7L1491.3 760.2L1491.8 752.9L1492.3 766.2L1492.8 761.4L1493.3 756.7L1493.8 766.4L1494.3 736.8L1494.9 751.7L1495.4 730.3L1495.9 751.9L1496.4 746.3L1496.9 762.2L1497.4 746.6L1497.9 744.1L1498.5 750.7L1499.0 750.2L1499.5 758.0L1500.0 740.8L1500.5 732.9L1501.0 731.6L1501.5 765.1L1502.0 735.1L1502.6 744.6L1503.1 736.3L1503.6 760.4L1504.1 742.0L1504.6 763.6L1505.1 738.9L1505.6 750.6L1506.2 755.4L1506.7 757.0L1507.2 728.9L1507.7 738.0L1508.2 740.1L1508.7 716.5L1509.2 746.7L1509.8 740.7L1510.3 740.1L1510.8 713.6L1511.3 731.0L1511.8 731.5L1512.3 736.1L1512.8 712.8L1513.3 724.8L1513.9 737.9L1514.4 702.5L1514.9 698.4L1515.4 695.0L1515.9 674.6L1516.4 684.6L1516.9 706.3L1517.5 666.1L1518.0 670.4L1518.5 683.8L1519.0 669.2L1519.5 658.4L1520.0 644.2L1520.5 641.1L1521.1 636.6L1521.6 640.1L1522.1 625.1L1522.6 631.7L1523.1 584.5L1523.6 618.5L1524.1 593.0L1524.7 596.0L1525.2 584.6L1525.7 596.4L1526.2 581.0L1526.7 589.0L1527.2 564.4L1527.7 577.5L1528.2 591.9L1528.8 589.3L1529.3 566.5L1529.8 574.6L1530.3 567.9L1530.8 573.6L1531.3 578.1L1531.8 599.3L1532.4 593.3L1532.9 610.6L1533.4 616.3L1533.9 579.3L1534.4 608.2L1534.9 602.8L1535.4 591.6L1536.0 605.7L1536.5 620.5L1537.0 658.3L1537.5 642.0L1538.0 644.7L1538.5 653.4L1539.0 649.8L1539.5 669.0L1540.1 671.6L1540.6 656.8L1541.1 677.7L1541.6 735.5L1542.1 704.4L1542.6 700.0L1543.1 715.1L1543.7 698.4L1544.2 716.8L1544.7 731.2L1545.2 703.4L1545.7 718.3L1546.2 726.1L1546.7 730.8L1547.3 731.0L1547.8 743.5L1548.3 755.3L1548.8 749.3L1549.3 759.8L1549.8 761.9L1550.3 743.5L1550.9 755.6L1551.4 748.9L1551.9 762.5L1552.4 751.1L1552.9 753.8L1553.4 777.2L1553.9 754.8L1554.4 738.3L1555.0 758.8L1555.5 761.0L1556.0 751.3L1556.5 758.3L1557.0 769.7L1557.5 751.0L1558.0 754.9L1558.6 748.5L1559.1 761.0L1559.6 755.4L1560.1 745.7L1560.6 755.1L1561.1 779.2L1561.6 736.6L1562.2 740.7L1562.7 761.6L1563.2 741.0L1563.7 781.5L1564.2 740.1L1564.7 742.5L1565.2 752.2L1565.7 771.6L1566.3 768.5L1566.8 765.9L1567.3 762.8L1567.8 775.1L1568.3 737.7L1568.8 763.2L1569.3 777.2L1569.9 747.4L1570.4 764.3L1570.9 775.4L1571.4 775.9L1571.9 759.5L1572.4 783.7L1572.9 767.6L1573.5 774.6L1574.0 749.2L1574.5 753.2L1575.0 753.3L1575.5 783.8L1576.0 735.0L1576.5 741.1L1577.0 772.8L1577.6 765.2L1578.1 728.3L1578.6 759.1L1579.1 760.3L1579.6 778.6L1580.1 741.5L1580.6 758.2L1581.2 777.3L1581.7 773.9L1582.2 754.0L1582.7 761.7L1583.2 747.6L1583.7 781.5L1584.2 760.3L1584.8 780.6L1585.3 775.1L1585.8 755.2L1586.3 764.1L1586.8 773.6L1587.3 771.3L1587.8 784.2L1588.4 779.5L1588.9 770.2L1589.4 774.6L1589.9 758.1L1590.4 759.6L1590.9 773.9L1591.4 770.8L1591.9 753.8L1592.5 766.1L1593.0 757.7L1593.5 760.6L1594.0 782.5L1594.5 756.2L1595.0 759.7L1595.5 774.2L1596.1 768.5L1596.6 769.7L1597.1 750.7L1597.6 767.5L1598.1 763.6L1598.6 758.5L1599.1 761.5L1599.7 764.7L1600.2 778.1L1600.7 790.5L1601.2 769.7L1601.7 785.9L1602.2 769.9L1602.7 751.2L1603.2 769.4L1603.8 783.8L1604.3 785.3L1604.8 758.5L1605.3 795.2L1605.8 760.4L1606.3 760.5L1606.8 763.0L1607.4 786.3L1607.9 774.0L1608.4 780.1L1608.9 743.4L1609.4 768.9L1609.9 768.3L1610.4 777.8L1611.0 764.2L1611.5 783.8L1612.0 761.8L1612.5 753.5L1613.0 750.7L1613.5 784.8L1614.0 779.0L1614.6 761.0L1615.1 783.1L1615.6 768.3L1616.1 768.9L1616.6 753.2L1617.1 764.0L1617.6 771.8L1618.1 773.0L1618.7 764.0L1619.2 782.3L1619.7 787.6L1620.2 761.3L1620.7 775.6L1621.2 753.1L1621.7 775.8L1622.3 759.8L1622.8 769.3L1623.3 773.2L1623.8 768.4L1624.3 783.5L1624.8 762.3L1625.3 765.9L1625.9 775.3L1626.4 771.1L1626.9 774.6L1627.4 769.2L1627.9 762.3L1628.4 779.5L1628.9 772.7L1629.4 782.4L1630.0 787.5L1630.5 767.9L1631.0 763.4L1631.5 766.9L1632.0 764.6L1632.5 749.1L1633.0 791.5L1633.6 777.2L1634.1 799.6L1634.6 766.0L1635.1 779.5L1635.6 775.8L1636.1 771.9L1636.6 784.2L1637.2 772.9L1637.7 772.0L1638.2 774.9L1638.7 747.1L1639.2 764.7L1639.7 764.6L1640.2 792.4L1640.8 780.1L1641.3 782.5L1641.8 780.7L1642.3 771.2L1642.8 792.7L1643.3 771.2L1643.8 757.2L1644.3 781.0L1644.9 787.5L1645.4 775.0L1645.9 778.1L1646.4 785.1L1646.9 791.8L1647.4 780.8L1647.9 793.6L1648.5 777.6L1649.0 798.6L1649.5 758.4L1650.0 785.3L1650.5 777.8L1651.0 775.9L1651.5 759.7L1652.1 787.0L1652.6 772.4L1653.1 763.2L1653.6 767.4L1654.1 772.1L1654.6 776.0L1655.1 764.4L1655.6 764.3L1656.2 779.8L1656.7 774.2L1657.2 797.8L1657.7 770.2L1658.2 783.8L1658.7 795.3L1659.2 772.9L1659.8 786.7L1660.3 778.8L1660.8 776.0L1661.3 793.9L1661.8 763.9L1662.3 768.5L1662.8 755.0L1663.4 774.1L1663.9 786.9L1664.4 772.6L1664.9 785.1L1665.4 766.9L1665.9 788.8L1666.4 774.4L1666.9 770.2L1667.5 794.6L1668.0 775.6L1668.5 782.4L1669.0 777.2L1669.5 783.9L1670.0 777.2L1670.5 762.0L1671.1 779.1L1671.6 781.4L1672.1 780.3L1672.6 773.3L1673.1 796.8L1673.6 767.5L1674.1 777.4L1674.7 778.4L1675.2 763.5L1675.7 762.3L1676.2 783.7L1676.7 783.8L1677.2 777.7L1677.7 757.6L1678.3 772.7L1678.8 778.9L1679.3 783.3L1679.8 789.8L1680.3 781.4L1680.8 787.3L1681.3 795.3L1681.8 749.3L1682.4 787.6L1682.9 771.2L1683.4 781.8L1683.9 778.7L1684.4 764.5L1684.9 765.9L1685.4 781.3L1686.0 774.2L1686.5 784.7L1687.0 771.9L1687.5 801.0L1688.0 773.4L1688.5 800.2L1689.0 767.6L1689.6 782.8L1690.1 789.3L1690.6 761.3L1691.1 765.3L1691.6 781.1L1692.1 789.6L1692.6 792.1L1693.1 782.8L1693.7 788.5L1694.2 763.1L1694.7 771.6L1695.2 793.1L1695.7 770.1L1696.2 773.7L1696.7 756.5L1697.3 774.3L1697.8 758.2L1698.3 780.6L1698.8 793.4L1699.3 780.1L1699.8 778.4L1700.3 771.9L1700.9 782.8L1701.4 763.8L1701.9 771.2L1702.4 801.3L1702.9 761.5L1703.4 770.0L1703.9 760.5L1704.5 790.7L1705.0 773.8L1705.5 761.9L1706.0 762.1L1706.5 789.3L1707.0 784.3L1707.5 785.7L1708.0 775.8L1708.6 786.8L1709.1 791.6L1709.6 784.2L1710.1 758.1L1710.6 753.9L1711.1 759.7L1711.6 779.5L1712.2 759.3L1712.7 764.0L1713.2 776.8L1713.7 766.3L1714.2 761.7L1714.7 787.4L1715.2 782.0L1715.8 785.4L1716.3 786.9L1716.8 792.9L1717.3 775.9L1717.8 774.1L1718.3 756.1L1718.8 773.5L1719.3 769.3L1719.9 788.3L1720.4 784.0L1720.9 793.2L1721.4 788.7L1721.9 789.8L1722.4 782.3L1722.9 777.8L1723.5 771.8L1724.0 775.9L1724.5 765.2L1725.0 780.6L1725.5 775.2L1726.0 752.7L1726.5 745.0L1727.1 767.7L1727.6 770.7L1728.1 772.6L1728.6 791.0L1729.1 768.8L1729.6 761.4L1730.1 780.4L1730.7 787.6L1731.2 795.0L1731.7 764.4L1732.2 773.1L1732.7 771.1L1733.2 793.4L1733.7 784.0L1734.2 776.3L1734.8 784.3L1735.3 771.9L1735.8 773.6L1736.3 775.6L1736.8 770.2L1737.3 773.1L1737.8 780.0L1738.4 778.7L1738.9 793.0L1739.4 785.8L1739.9 775.1L1740.4 750.7L1740.9 758.9L1741.4 770.1L1742.0 771.5L1742.5 760.8L1743.0 771.6L1743.5 777.2L1744.0 768.6L1744.5 774.2L1745.0 774.7L1745.5 767.7L1746.1 765.9L1746.6 774.3L1747.1 778.8L1747.6 763.8L1748.1 752.4L1748.6 764.8L1749.1 781.5L1749.7 757.2L1750.2 786.3L1750.7 769.0L1751.2 777.1L1751.7 766.8L1752.2 782.3L1752.7 776.2L1753.3 779.9L1753.8 753.4L1754.3 783.9L1754.8 756.4L1755.3 771.8L1755.8 781.6L1756.3 773.4L1756.8 781.3L1757.4 777.5L1757.9 776.6L1758.4 766.4L1758.9 787.1L1759.4 788.4L1759.9 769.5L1760.4 765.4L1761.0 777.9L1761.5 766.9L1762.0 777.1L1762.5 784.8L1763.0 783.1L1763.5 792.3L1764.0 780.8L1764.6 763.6L1765.1 765.7L1765.6 781.5L1766.1 797.2L1766.6 771.4L1767.1 765.0L1767.6 791.3L1768.2 774.0L1768.7 783.3L1769.2 787.6L1769.7 764.2L1770.2 771.3L1770.7 769.0L1771.2 781.3L1771.7 782.7L1772.3 769.6L1772.8 781.6L1773.3 754.9L1773.8 779.2L1774.3 779.1L1774.8 775.2L1775.3 758.7L1775.9 774.0L1776.4 762.9L1776.9 791.5L1777.4 771.7L1777.9 772.6L1778.4 773.7L1778.9 781.1L1779.5 775.8L1780.0 781.0L1780.5 764.4L1781.0 787.3L1781.5 769.3L1782.0 783.4L1782.5 777.4L1783.0 786.9L1783.6 773.9L1784.1 758.0L1784.6 761.6L1785.1 772.0L1785.6 790.2L1786.1 769.8L1786.6 775.1L1787.2 788.6L1787.7 768.1L1788.2 777.9L1788.7 777.6L1789.2 767.6L1789.7 776.9L1790.2 786.1L1790.8 786.1L1791.3 770.4L1791.8 807.0L1792.3 778.1L1792.8 771.0L1793.3 765.9L1793.8 762.9L1794.4 783.2L1794.9 741.3L1795.4 772.1L1795.9 758.3L1796.4 771.8L1796.9 773.3L1797.4 758.9L1797.9 762.5L1798.5 787.9L1799.0 767.3L1799.5 773.4L1800.0 769.9L1800.5 782.7L1801.0 787.0L1801.5 783.5L1802.1 779.3L1802.6 779.2L1803.1 759.3L1803.6 787.4L1804.1 766.1L1804.6 762.2L1805.1 767.8L1805.7 762.9L1806.2 776.4L1806.7 779.7L1807.2 785.8L1807.7 770.0L1808.2 764.1L1808.7 767.5L1809.2 757.2L1809.8 761.9L1810.3 792.7L1810.8 761.1L1811.3 764.4L1811.8 776.5L1812.3 772.1L1812.8 777.7L1813.4 758.9L1813.9 756.4L1814.4 783.3L1814.9 760.4L1815.4 766.8L1815.9 770.2L1816.4 746.5L1817.0 765.2L1817.5 759.8L1818.0 773.0L1818.5 763.3L1819.0 741.0L1819.5 775.5L1820.0 737.2L1820.6 761.5L1821.1 758.1L1821.6 758.9L1822.1 765.5L1822.6 776.4L1823.1 755.3L1823.6 758.0L1824.1 773.3L1824.7 770.4L1825.2 772.5L1825.7 767.8L1826.2 760.9L1826.7 757.7L1827.2 757.6L1827.7 773.1L1828.3 779.4L1828.8 784.6L1829.3 749.4L1829.8 758.1L1830.3 760.4L1830.8 757.8L1831.3 746.1L1831.9 783.8L1832.4 775.3L1832.9 755.2L1833.4 751.0L1833.9 755.4L1834.4 740.5L1834.9 749.8L1835.4 761.8L1836.0 771.2L1836.5 761.2L1837.0 764.9L1837.5 736.1L1838.0 709.1L1838.5 762.5L1839.0 747.1L1839.6 742.7L1840.1 762.3L1840.6 729.6L1841.1 728.3L1841.6 729.5L1842.1 756.5L1842.6 747.1L1843.2 712.9L1843.7 753.1L1844.2 732.0L1844.7 735.7L1845.2 719.9L1845.7 751.1L1846.2 732.5L1846.7 742.2L1847.3 713.0L1847.8 733.0L1848.3 724.8L1848.8 720.3L1849.3 712.6L1849.8 713.6L1850.3 707.6L1850.9 713.8L1851.4 721.8L1851.9 729.5L1852.4 703.5L1852.9 710.5L1853.4 716.3L1853.9 704.5L1854.5 722.0L1855.0 723.3L1855.5 725.2L1856.0 733.8L1856.5 741.5L1857.0 741.1L1857.5 736.1L1858.1 741.3L1858.6 725.9L1859.1 725.6L1859.6 746.3L1860.1 746.7L1860.6 767.8L1861.1 740.2L1861.6 732.5L1862.2 749.2L1862.7 741.8L1863.2 737.9L1863.7 766.1L1864.2 774.0L1864.7 756.8L1865.2 745.9L1865.8 757.8L1866.3 755.3L1866.8 740.7L1867.3 767.8L1867.8 763.1L1868.3 774.7L1868.8 754.4L1869.4 761.5L1869.9 761.2L1870.4 743.2L1870.9 793.2L1871.4 740.3L1871.9 752.0L1872.4 761.7L1872.9 748.3L1873.5 771.8L1874.0 762.0L1874.5 768.7L1875.0 771.0L1875.5 769.6L1876.0 770.2L1876.5 767.7L1877.1 774.7L1877.6 779.4L1878.1 767.4L1878.6 765.5L1879.1 766.3L1879.6 774.7L1880.1 767.2L1880.7 767.2L1881.2 754.5L1881.7 794.3L1882.2 758.0L1882.7 791.8L1883.2 781.8L1883.7 784.6L1884.3 775.9L1884.8 778.8L1885.3 776.6L1885.8 780.3L1886.3 783.3L1886.8 791.3L1887.3 762.5L1887.8 779.7L1888.4 792.9L1888.9 790.5L1889.4 762.7L1889.9 778.3L1890.4 778.1L1890.9 777.9L1891.4 749.2L1892.0 785.3L1892.5 756.9L1893.0 800.9L1893.5 783.4L1894.0 774.8L1894.5 783.4L1895.0 777.9L1895.6 770.2L1896.1 775.4L1896.6 780.6L1897.1 767.5L1897.6 785.1L1898.1 789.9L1898.6 789.5L1899.1 790.8L1899.7 792.3L1900.2 785.6L1900.7 792.6L1901.2 778.3L1901.7 782.4L1902.2 794.2L1902.7 800.3L1903.3 773.9L1903.8 761.2L1904.3 802.8L1904.8 791.5L1905.3 799.2L1905.8 788.6L1906.3 781.0L1906.9 770.9L1907.4 767.1L1907.9 795.0L1908.4 789.6L1908.9 781.9L1909.4 765.3L1909.9 772.1L1910.5 770.9L1911.0 774.6L1911.5 744.6L1912.0 780.6L1912.5 796.0L1913.0 771.5L1913.5 778.1L1914.0 780.9L1914.6 766.0L1915.1 782.5L1915.6 767.9L1916.1 772.2L1916.6 780.1L1917.1 776.4L1917.6 778.1L1918.2 766.1L1918.7 785.2L1919.2 763.9L1919.7 786.3L1920.2 770.7L1920.7 762.3L1921.2 775.0L1921.8 763.6L1922.3 769.6L1922.8 773.9L1923.3 784.6L1923.8 784.6L1924.3 780.8L1924.8 771.7L1925.3 757.0L1925.9 772.1L1926.4 770.8L1926.9 772.9L1927.4 768.1L1927.9 767.9L1928.4 783.4L1928.9 758.0L1929.5 773.6L1930.0 788.1L1930.5 764.0L1931.0 761.1L1931.5 769.8L1932.0 768.2L1932.5 775.0L1933.1 787.6L1933.6 769.8L1934.1 777.5L1934.6 763.7L1935.1 764.5L1935.6 773.4L1936.1 761.6L1936.6 783.4L1937.2 764.0L1937.7 766.5L1938.2 755.7L1938.7 762.5L1939.2 755.4L1939.7 761.1L1940.2 745.4L1940.8 766.0L1941.3 786.6L1941.8 743.0L1942.3 785.8L1942.8 763.2L1943.3 774.9L1943.8 751.8L1944.4 787.9L1944.9 750.3L1945.4 762.0L1945.9 781.3L1946.4 746.9L1946.9 733.9L1947.4 760.8L1948.0 752.1L1948.5 749.4L1949.0 749.8L1949.5 742.9L1950.0 777.3L1950.5 774.9L1951.0 743.5L1951.5 758.5L1952.1 754.1L1952.6 772.8L1953.1 749.1L1953.6 778.8L1954.1 759.0L1954.6 749.3L1955.1 757.6L1955.7 751.4L1956.2 785.9L1956.7 760.1L1957.2 752.2L1957.7 759.1L1958.2 775.8L1958.7 746.0L1959.3 737.0L1959.8 773.4L1960.3 764.8L1960.8 751.6L1961.3 756.0L1961.8 770.4L1962.3 723.4L1962.8 772.2L1963.4 754.3L1963.9 764.6L1964.4 755.5L1964.9 794.0L1965.4 748.3L1965.9 769.3L1966.4 723.6L1967.0 756.0L1967.5 765.1L1968.0 736.2L1968.5 730.1" stroke="#000000"/>
</g>
<rect x="170.5" y="26.5" width="1798" height="1331" fill="none" stroke="#000" stroke-width="11" stroke-linejoin="round"/>
<g stroke="#000" stroke-width="10" stroke-linecap="round">
<line x1="298.9" y1="1343.5" x2="298.9" y2="1355"/>
<line x1="427.4" y1="1330.5" x2="427.4" y2="1355"/>
<line x1="555.8" y1="1343.5" x2="555.8" y2="1355"/>
<line x1="684.2" y1="1330.5" x2="684.2" y2="1355"/>
<line x1="812.6" y1="1343.5" x2="812.6" y2="1355"/>
<line x1="941.1" y1="1330.5" x2="941.1" y2="1355"/>
<line x1="1069.5" y1="1343.5" x2="1069.5" y2="1355"/>
<line x1="1197.9" y1="1330.5" x2="1197.9" y2="1355"/>
<line x1="1326.4" y1="1343.5" x2="1326.4" y2="1355"/>
<line x1="1454.8" y1="1330.5" x2="1454.8" y2="1355"/>
<line x1="1583.2" y1="1343.5" x2="1583.2" y2="1355"/>
<line x1="1711.6" y1="1330.5" x2="1711.6" y2="1355"/>
<line x1="1840.1" y1="1343.5" x2="1840.1" y2="1355"/>
</g>
<g font-family="'Liberation Serif', 'Times New Roman', serif" font-weight="bold" font-size="78" text-anchor="middle" fill="#000">
<text transform="translate(170.5,1448) scale(1,1.027)">10</text>
<text transform="translate(427.4,1448) scale(1,1.027)">20</text>
<text transform="translate(684.2,1448) scale(1,1.027)">30</text>
<text transform="translate(941.1,1448) scale(1,1.027)">40</text>
<text transform="translate(1197.9,1448) scale(1,1.027)">50</text>
<text transform="translate(1454.8,1448) scale(1,1.027)">60</text>
<text transform="translate(1711.6,1448) scale(1,1.027)">70</text>
<text transform="translate(1968.5,1448) scale(1,1.027)">80</text>
</g>
<text transform="translate(1055,1558.5) scale(1.027,1)" x="0" y="0" font-family="'Liberation Serif', 'Times New Roman', serif" font-weight="bold" font-size="101" text-anchor="middle">2θ (degree)</text>
<text transform="translate(92,726.5) rotate(-90)" x="0" y="0" font-family="'Liberation Serif', 'Times New Roman', serif" font-weight="bold" font-size="104.5" text-anchor="middle">Intensity (a.u.)</text>
<g fill="none" stroke="#000" stroke-width="2.8">
<rect x="1725.6" y="104.5" width="29.9" height="29.9"/>
<rect x="993.4" y="196.5" width="29.9" height="29.9"/>
<rect x="816.4" y="369.4" width="29.9" height="29.9"/>
<rect x="1481.6" y="506.5" width="29.9" height="29.9"/>
<rect x="1782.5" y="633.5" width="29.9" height="29.9"/>
</g>
<g font-family="'Liberation Serif', 'Times New Roman', serif" font-size="72" fill="#000">
<text x="1777" y="135.7">NiO</text>
<text transform="translate(1047,228.3) scale(1,1.035)">200</text>
<text transform="translate(871.5,401.2) scale(1,1.035)">111</text>
<text transform="translate(1535,538.3) scale(1,1.035)">220</text>
<text transform="translate(1835,665.3) scale(1,1.035)">311</text>
</g>
<g font-family="'Liberation Serif', 'Times New Roman', serif" font-size="91" fill="#000">
<text x="1680" y="745">a</text>
<text x="1680" y="883.4">b</text>
<text x="1680" y="975">c</text>
<text x="1680" y="1135.9">d</text>
<text x="1680" y="1240">e</text>
</g>
</svg>
</body></html>
